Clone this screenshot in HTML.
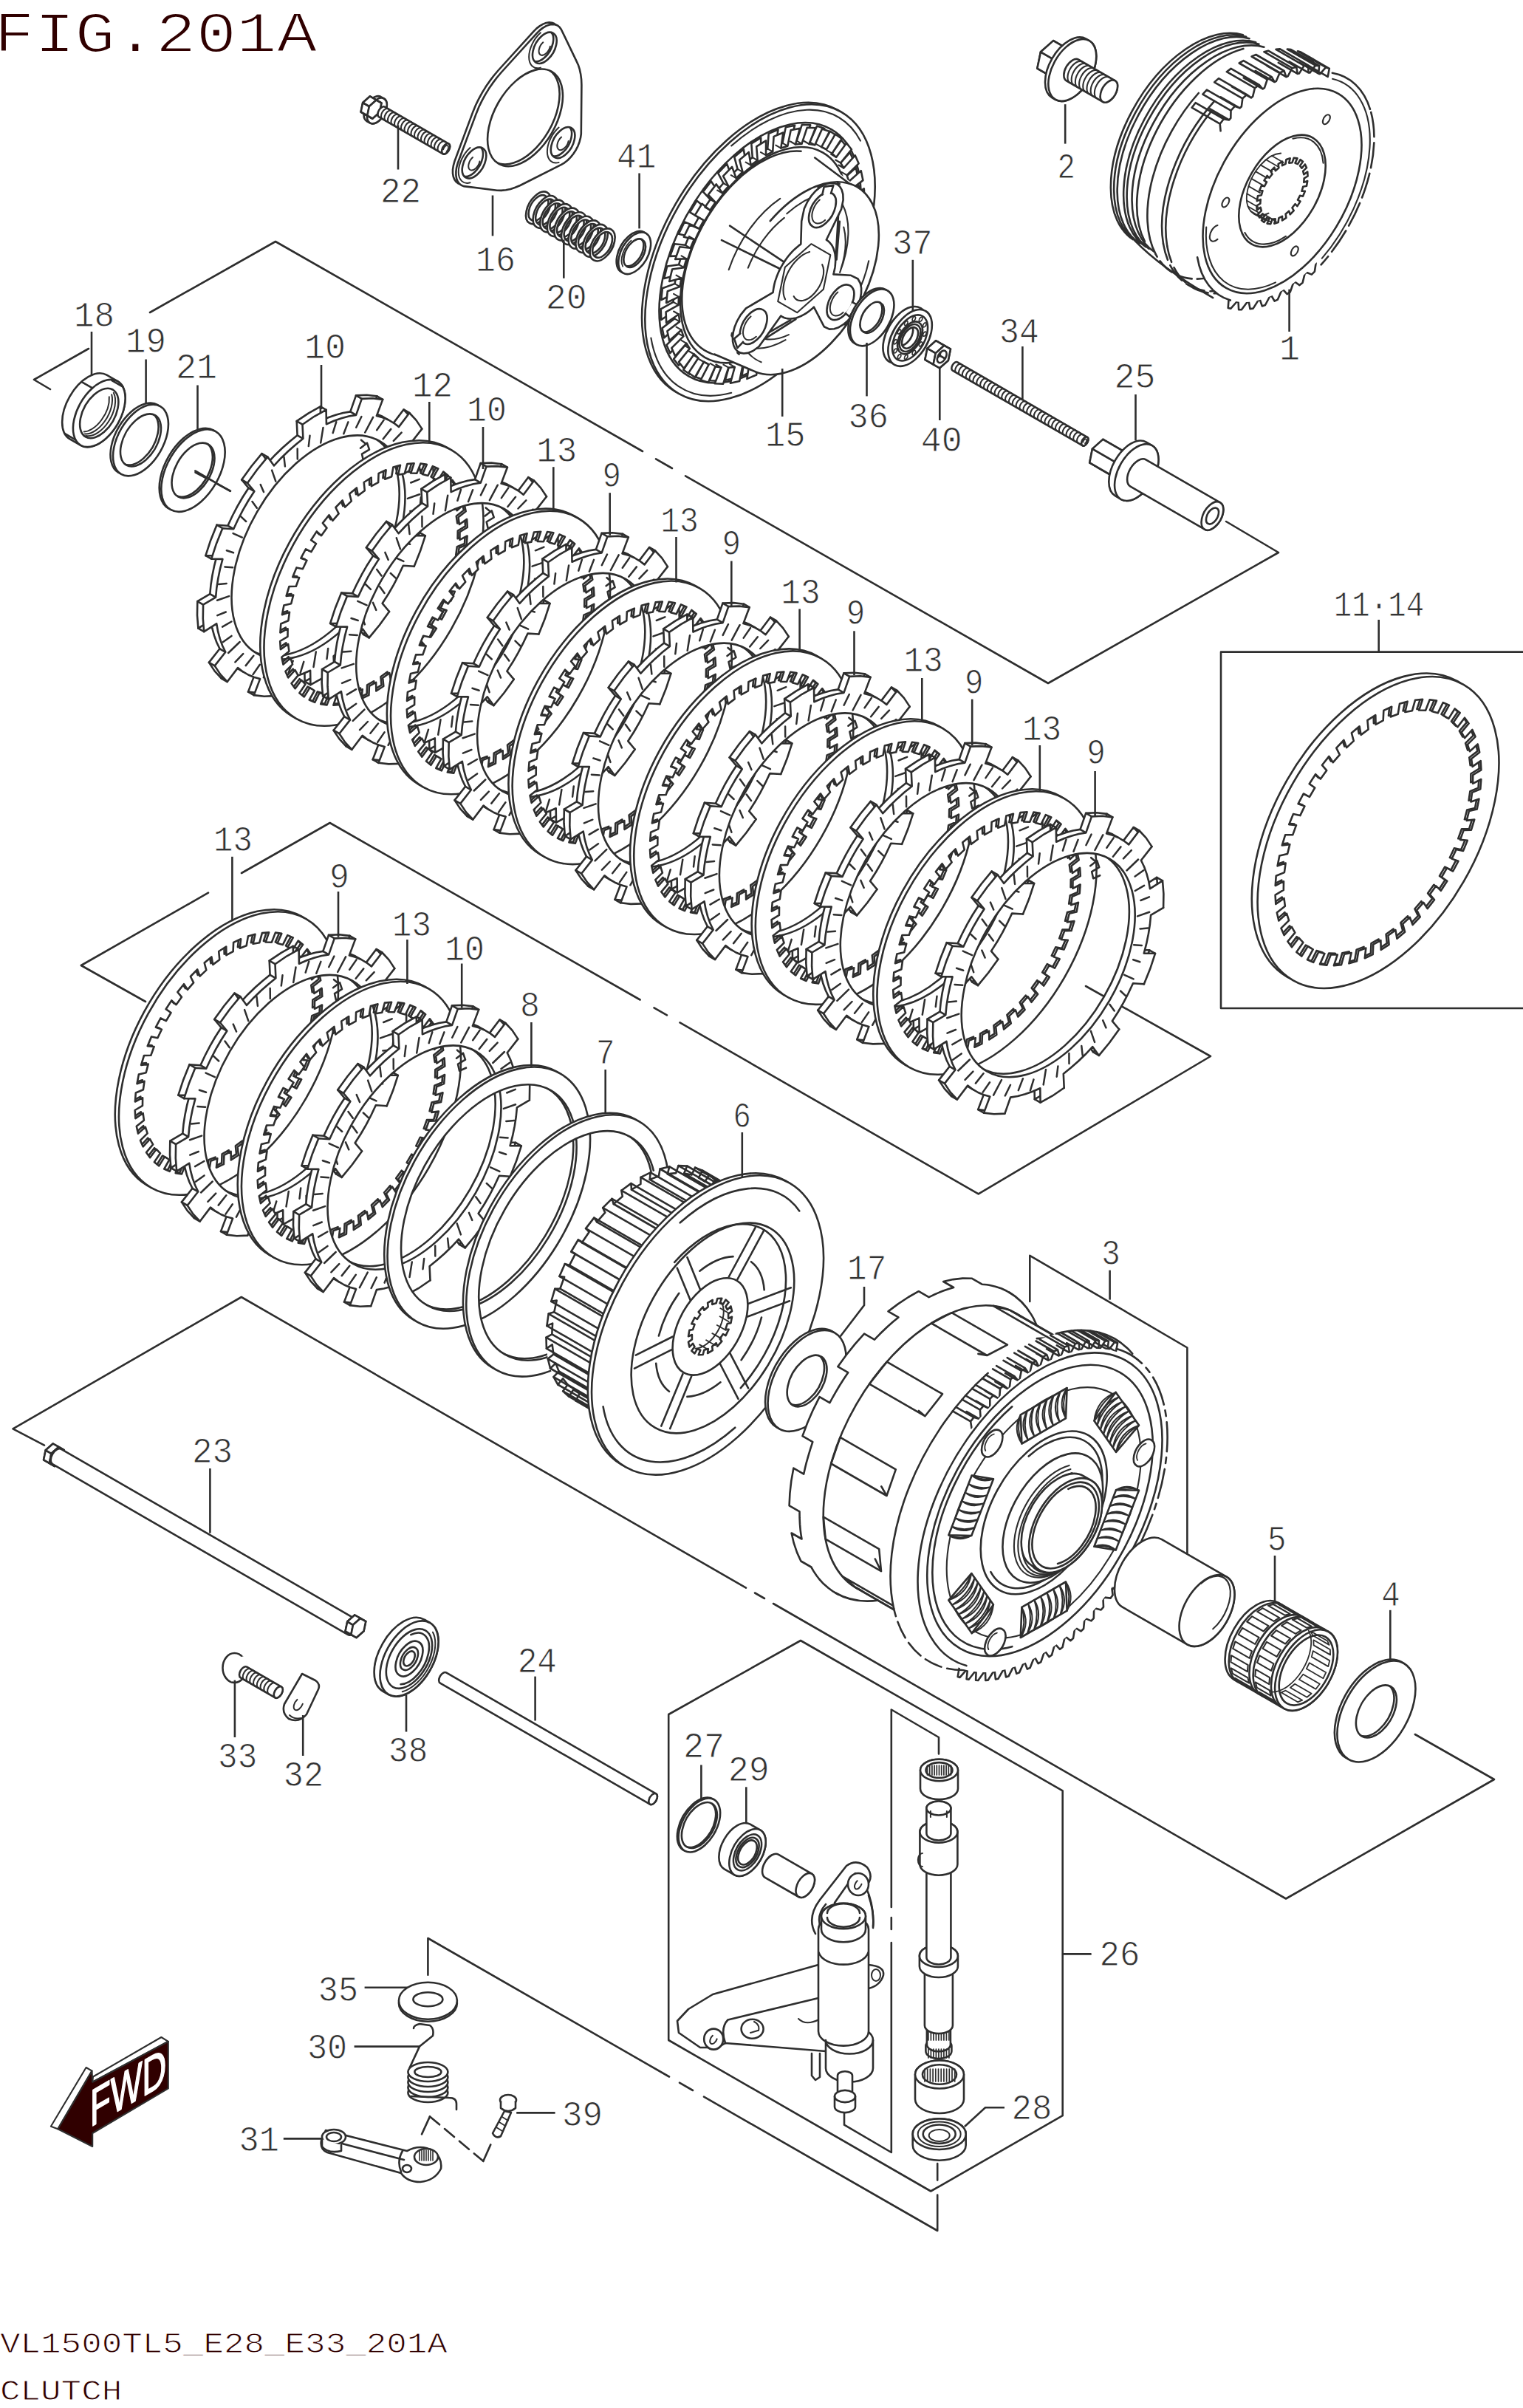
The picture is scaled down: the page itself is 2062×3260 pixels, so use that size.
<!DOCTYPE html>
<html><head><meta charset="utf-8"><title>FIG.201A CLUTCH</title>
<style>html,body{margin:0;padding:0;background:#fff}svg{display:block}</style></head>
<body>
<svg width="2062" height="3260" viewBox="0 0 2062 3260">
<rect width="2062" height="3260" fill="#fff"/>
<g fill="none" stroke="#2e2e2e" stroke-width="2.6" stroke-linejoin="round" stroke-linecap="round">
<path d="M68 527L46 514L120 472"/>
<path d="M203 423L373 327L870 611"/>
<path d="M888 621.4L910 634"/>
<path d="M928 644.3L1419 925L1731 748L1660 706"/>
<path d="M197 1356L109.8 1307L282 1208.7"/>
<path d="M327 1182L446.6 1114L866.6 1353.5"/>
<path d="M885.5 1364.4L903 1374.4"/>
<path d="M920.5 1384.4L1324.7 1616.4L1639 1430L1470 1335"/>
<path d="M60 1956.7L17.5 1934.3L326.8 1756L1010 2149.6"/>
<path d="M1022 2156.5L1035 2164"/>
<path d="M1047 2171L1741 2570.5L2023 2409L1915.8 2348"/>
<path d="M905.2 2321L1084 2221L1438.7 2424.3L1438.7 2864.2L1260.2 2966.5L905.2 2762Z"/>
<path d="M1271 2374.4L1271 2352L1206.8 2314.5L1206.8 2582"/>
<path d="M1206.8 2596L1206.8 2612"/>
<path d="M1206.8 2630L1206.8 2914L1143 2876.7L1143 2859.2"/>
<path d="M1439.2 2645.4L1476.6 2645.4"/>
<path d="M579.4 2673.8L579.4 2624L906 2811.5"/>
<path d="M920 2819.6L938 2830"/>
<path d="M953 2838.6L1269.2 3020L1269.2 2971.5"/>
<path d="M1269.2 2929L1269.2 2951.6"/>
<path d="M1394.3 1762L1394.3 1699.8L1607.4 1824.5L1607.4 2106.4"/>
<path d="M2062 882.6L1653 882.6L1653 1365L2062 1365"/>
<path d="M571 2889.4L582 2865.4"/>
<path d="M654.3 2925.8L664.3 2903.4"/>
<path d="M582 2865.4L654.3 2925.8" stroke-dasharray="17 9"/>
<path d="M264.5 639.7L312 664.7"/>
<path d="M1134.7 149.2A220 127 -60 0 1 1064.9 490A220 127 -60 0 1 874.4 380A220 127 -60 0 1 1134.7 149.2Z" fill="#fff"/>
<path d="M1139 151.7A220 127 -60 0 1 1069.3 492.5A220 127 -60 0 1 878.7 382.5A220 127 -60 0 1 1139 151.7Z" fill="#fff"/>
<path d="M990.2 197.4A212 122.4 -60 0 1 1164.9 190.6M990.2 531.8A212 122.4 -60 0 1 881.4 457.5" stroke-width="2.1"/>
<path d="M1125.5 175.1A193 111.4 -60 0 1 1064.3 474A193 111.4 -60 0 1 897.2 377.5A193 111.4 -60 0 1 1125.5 175.1Z"/>
<path d="M1124 177.7L1132.7 183.7L1119.6 203.7L1125.2 208.9L1139.1 189.7L1145.9 198.3L1131.2 216.5L1135.4 223.5L1150.8 206.3L1155.6 217.3L1139.6 233.1L1142.4 241.7L1158.8 227.1L1161.5 240.1L1144.8 253L1145.9 262.9L1162.8 251.4L1163.3 266L1146.4 275.6L1145.9 286.5L1162.8 278.4L1161.1 294.2L1144.4 300.3L1142.4 311.8L1158.8 307.4L1154.8 323.9L1138.9 326.2L1135.4 338.1L1150.8 337.5L1144.8 354.1L1130.1 352.6L1125.2 364.4L1139.1 367.6L1131.2 384L1118.3 378.7L1112 390.1L1124 397L1114.5 412.6L1103.7 403.7L1096.3 414.4L1106.1 424.8L1095.2 439L1086.8 426.8L1078.6 436.4L1085.8 450L1073.8 462.5L1068.2 447.3L1059.4 455.6L1063.8 472L1051.2 482.4L1048.4 464.7L1039.2 471.3L1040.7 490L1027.8 498L1028 478.3L1018.8 483.1L1017.3 503.5L1004.5 508.9L1007.6 487.8L998.6 490.7L994.2 512.1L981.9 514.7L987.9 492.9L979.4 493.7L972.2 515.6L960.8 515.2L969.4 493.4L961.7 492.1L951.9 513.8L941.7 510.5L952.8 489.3L946 486L934 506.7L925.3 500.7L938.4 480.7L932.8 475.5L918.9 494.7L912.1 486.1L926.8 467.9L922.6 460.9L907.2 478.1L902.4 467.1L918.4 451.3L915.6 442.7L899.2 457.3L896.5 444.3L913.2 431.4L912.1 421.5L895.2 433L894.7 418.4L911.6 408.8L912.1 397.9L895.2 406L896.9 390.2L913.6 384.1L915.6 372.6L899.2 377L903.2 360.5L919.1 358.2L922.6 346.3L907.2 346.9L913.2 330.3L927.9 331.8L932.8 320L918.9 316.8L926.8 300.4L939.7 305.7L946 294.3L934 287.4L943.5 271.8L954.3 280.7L961.7 270L951.9 259.6L962.8 245.4L971.2 257.6L979.4 248L972.2 234.4L984.2 221.9L989.8 237.1L998.6 228.8L994.2 212.4L1006.8 202L1009.6 219.7L1018.8 213.1L1017.3 194.4L1030.2 186.4L1030 206.1L1039.2 201.3L1040.7 180.9L1053.5 175.5L1050.4 196.6L1059.4 193.7L1063.8 172.3L1076.1 169.7L1070.1 191.5L1078.6 190.7L1085.8 168.8L1097.2 169.2L1088.6 191L1096.3 192.3L1106.1 170.6L1116.3 173.9L1105.2 195.1L1112 198.4Z"/>
<path d="M1130.9 181.7L1139.6 187.7L1126.5 207.7L1132.1 212.9L1146 193.7L1152.9 202.3L1138.1 220.5L1142.3 227.5L1157.7 210.3L1162.6 221.3L1146.6 237.1L1149.3 245.7L1165.7 231.1L1168.4 244.1L1151.7 257L1152.9 266.9L1169.8 255.4L1170.3 270L1153.3 279.6L1152.9 290.5L1169.8 282.4L1168 298.2L1151.3 304.3L1149.3 315.8L1165.7 311.4L1161.8 327.9L1145.9 330.2L1142.3 342.1L1157.7 341.5L1151.7 358.1L1137.1 356.6L1132.1 368.4L1146 371.6L1138.1 388L1125.2 382.7L1118.9 394.1L1130.9 401L1121.4 416.6L1110.6 407.7L1103.3 418.4L1113 428.8L1102.1 443L1093.7 430.8L1085.5 440.4L1092.7 454L1080.8 466.5L1075.1 451.3L1066.3 459.6L1070.7 476L1058.1 486.4L1055.3 468.7L1046.2 475.3L1047.6 494L1034.8 502L1034.9 482.3L1025.7 487.1L1024.2 507.5L1011.4 512.9L1014.5 491.8L1005.5 494.7L1001.2 516.1L988.9 518.7L994.8 496.9L986.3 497.7L979.1 519.6L967.7 519.2L976.4 497.4L968.6 496.1L958.9 517.8L948.7 514.5L959.7 493.3L952.9 490L940.9 510.7L932.3 504.7L945.4 484.7L939.8 479.5L925.9 498.7L919 490.1L933.8 471.9L929.5 464.9L914.2 482.1L909.3 471.1L925.3 455.3L922.5 446.7L906.2 461.3L903.4 448.3L920.2 435.4L919 425.5L902.1 437L901.6 422.4L918.6 412.8L919 401.9L902.1 410L903.8 394.2L920.5 388.1L922.5 376.6L906.2 381L910.1 364.5L926 362.2L929.5 350.3L914.2 350.9L920.2 334.3L934.8 335.8L939.8 324L925.9 320.8L933.8 304.4L946.7 309.7L952.9 298.3L940.9 291.4L950.5 275.8L961.3 284.7L968.6 274L958.9 263.6L969.8 249.4L978.1 261.6L986.3 252L979.1 238.4L991.1 225.9L996.7 241.1L1005.5 232.8L1001.2 216.4L1013.8 206L1016.6 223.7L1025.7 217.1L1024.2 198.4L1037.1 190.4L1037 210.1L1046.2 205.3L1047.6 184.9L1060.4 179.5L1057.3 200.6L1066.3 197.7L1070.7 176.3L1083 173.7L1077 195.5L1085.5 194.7L1092.7 172.8L1104.1 173.2L1095.5 195L1103.3 196.3L1113 174.6L1123.2 177.9L1112.2 199.1L1118.9 202.4Z" fill="#fff"/>
<path d="M1112 198.4L1118.9 202.4M1119.6 203.7L1126.5 207.7M1125.2 208.9L1132.1 212.9M1131.2 216.5L1138.1 220.5M1135.4 223.5L1142.3 227.5M1139.6 233.1L1146.6 237.1M1142.4 241.7L1149.3 245.7M1144.8 253L1151.7 257M1145.9 262.9L1152.9 266.9M1146.4 275.6L1153.3 279.6M1145.9 286.5L1152.9 290.5M1144.4 300.3L1151.3 304.3M1142.4 311.8L1149.3 315.8M1138.9 326.2L1145.9 330.2M1135.4 338.1L1142.3 342.1M1130.1 352.6L1137.1 356.6M1125.2 364.4L1132.1 368.4M1118.3 378.7L1125.2 382.7M1112 390.1L1118.9 394.1M1103.7 403.7L1110.6 407.7M1096.3 414.4L1103.3 418.4M1086.8 426.8L1093.7 430.8M1078.6 436.4L1085.5 440.4M1068.2 447.3L1075.1 451.3M1059.4 455.6L1066.3 459.6M1048.4 464.7L1055.3 468.7M1039.2 471.3L1046.2 475.3M1028 478.3L1034.9 482.3M1018.8 483.1L1025.7 487.1M1007.6 487.8L1014.5 491.8M998.6 490.7L1005.5 494.7M987.9 492.9L994.8 496.9M979.4 493.7L986.3 497.7M969.4 493.4L976.4 497.4M961.7 492.1L968.6 496.1M952.8 489.3L959.7 493.3M946 486L952.9 490M938.4 480.7L945.4 484.7M932.8 475.5L939.8 479.5M926.8 467.9L933.8 471.9M922.6 460.9L929.5 464.9M918.4 451.3L925.3 455.3M915.6 442.7L922.5 446.7M913.2 431.4L920.2 435.4M912.1 421.5L919 425.5M911.6 408.8L918.6 412.8M912.1 397.9L919 401.9M913.6 384.1L920.5 388.1M915.6 372.6L922.5 376.6M919.1 358.2L926 362.2M922.6 346.3L929.5 350.3M927.9 331.8L934.8 335.8M932.8 320L939.8 324M939.7 305.7L946.7 309.7M946 294.3L952.9 298.3M954.3 280.7L961.3 284.7M961.7 270L968.6 274M971.2 257.6L978.1 261.6M979.4 248L986.3 252M989.8 237.1L996.7 241.1M998.6 228.8L1005.5 232.8M1009.6 219.7L1016.6 223.7M1018.8 213.1L1025.7 217.1M1030 206.1L1037 210.1M1039.2 201.3L1046.2 205.3M1050.4 196.6L1057.3 200.6M1059.4 193.7L1066.3 197.7M1070.1 191.5L1077 195.5M1078.6 190.7L1085.5 194.7M1088.6 191L1095.5 195M1096.3 192.3L1103.3 196.3M1105.2 195.1L1112.2 199.1" stroke-width="2.1"/>
<path d="M1114.2 206.6A160 92.4 -60 0 1 1063.5 454.5A160 92.4 -60 0 1 924.9 374.5A160 92.4 -60 0 1 1114.2 206.6Z" fill="#fff"/>
<path d="M1021.4 472.2A152 87.8 -60 0 1 928.2 365.1A152 87.8 -60 0 1 1084.5 204.7M1013.5 465.3A132 76.2 -60 0 1 947.5 371.4A132 76.2 -60 0 1 1061.8 229.1M1009.4 452.4A112 64.7 -60 0 1 1049.8 255.1"/>
<path d="M1114.4 218.3A150 86.6 -60 0 0 964.4 304.9A150 86.6 -60 0 0 964.4 478.1L1017.3 500.5A143 82.6 -60 0 0 1160.3 418A143 82.6 -60 0 0 1160.3 252.9Z" fill="#fff" stroke="none"/>
<path d="M1042.8 299.2A143 82.6 -60 0 1 1189.1 333A143 82.6 -60 0 1 1022.4 503.1"/>
<path d="M1103.2 213.5L1149.6 248.3M967.1 479.5L1022.4 503.1"/>
<path d="M1140.5 276.4A120 69.3 -60 0 1 1137.1 368.8M1063.6 460.2A120 69.3 -60 0 1 990.2 453.6M986.7 365.2A120 69.3 -60 0 1 1056.2 268.9M1142.3 307.6A100 57.7 -60 0 1 1138.1 365.7M1067.9 453.1A100 57.7 -60 0 1 1016.1 448.5M1012.8 362.7A100 57.7 -60 0 1 1061.8 294.9" stroke-width="2.1"/>
<path d="M1065.3 289.3A128 73.9 -60 0 1 1112.2 262.2M1176.2 353.3A128 73.9 -60 0 1 1158.1 403.8M1030.6 490.3A128 73.9 -60 0 1 1006.7 468.2" stroke-width="2.1"/>
<path d="M1135.5 282.6L1131.9 343M1136.8 299.9L1132.6 351.4M1022.9 466.7L1077.4 432.1M1008.1 469L1070.2 433.3M977 325.1L1055.2 363.5M988.1 305.7L1060.6 354.2"/>
<path d="M1118.8 324.7L1120.3 325.7L1121.7 326.8L1123.1 328.1L1124.3 329.5L1125.5 331L1126.6 332.6L1127.5 334.4L1128.4 336.3L1129.1 338.3L1129.7 340.4L1130.3 342.6L1130.7 344.8L1130.9 347.2L1131.1 349.7L1131.2 352.2L1131.1 354.8L1130.9 357.5L1130.7 360.2L1130.3 362.9L1129.7 365.7L1129.1 368.5L1128.4 371.4L1151.6 372.7L1161.5 377.5L1164.8 383.5L1166.1 390L1166 396.9L1164.8 403.9L1162.6 410.9L1159.6 417.6L1155.9 424.1L1151.6 430L1146.6 435.3L1141.3 439.7L1135.5 443.2L1129.4 445.3L1122.9 445.6L1115.7 442.2L1101.9 415.7L1099.7 417.7L1097.6 419.5L1095.4 421.3L1093.2 422.9L1091 424.3L1088.8 425.7L1086.5 426.9L1084.3 428L1082.1 428.9L1079.9 429.7L1077.8 430.4L1075.6 430.9L1073.6 431.2L1071.5 431.4L1069.5 431.5L1067.5 431.4L1065.6 431.1L1063.8 430.7L1062.1 430.2L1060.4 429.5L1058.8 428.7L1057.2 427.7L1027.5 469.3L1019.2 475.2L1012.5 477.9L1006.9 478.5L1002.2 477.6L998.3 475.4L995.3 472L993.3 467.7L992.1 462.4L991.9 456.4L992.8 449.7L994.7 442.4L998 434.6L1002.7 426.4L1010 417.4L1046.6 395.9L1046.9 393.2L1047.3 390.5L1047.8 387.7L1048.4 384.9L1049.1 382L1050 379.2L1051 376.3L1052 373.4L1053.2 370.6L1054.4 367.7L1055.8 364.9L1057.2 362.1L1058.8 359.4L1060.4 356.7L1062.1 354L1063.8 351.5L1065.6 349L1067.5 346.5L1069.5 344.2L1071.5 341.9L1073.6 339.7L1075.6 337.7L1077.8 335.7L1079.9 333.9L1082.1 332.1L1084.3 330.5L1085.2 299.4L1088.8 282.5L1093.4 272.8L1098.4 265.2L1103.7 259.1L1109.1 254.4L1114.5 250.9L1119.7 248.7L1124.7 247.7L1129.3 248L1133.5 249.6L1137 252.5L1139.6 256.8L1141.3 262.8L1141.6 270.8L1139.1 283.1Z" fill="#fff"/>
<path d="M1107.6 253.6L1111.2 251.6M1136.7 249L1134 248M1166.8 402L1165.1 406.6M1144.1 439.5L1147.4 436M1000.6 479.5L998.4 477.5M991 451L990.9 455.2"/>
<path d="M1126.4 261.7A26 15 -60 0 1 1118.2 302A26 15 -60 0 1 1095.7 289A26 15 -60 0 1 1126.4 261.7Z" fill="#fff"/>
<path d="M1117.1 297.9A20 11.5 -60 0 1 1099.8 296.3A20 11.5 -60 0 1 1109.8 270.5" stroke-width="2"/>
<path d="M1113.3 263.6L1115.7 252.9L1128.4 250.9L1125 261.8" fill="#fff"/>
<path d="M1150.9 386.7A26 15 -60 0 1 1142.7 427A26 15 -60 0 1 1120.2 414A26 15 -60 0 1 1150.9 386.7Z" fill="#fff"/>
<path d="M1141.6 422.9A20 11.5 -60 0 1 1124.3 421.3A20 11.5 -60 0 1 1134.3 395.5" stroke-width="2"/>
<path d="M1153.9 409.2L1160.1 412.3L1150.2 428.8L1144.8 424.3" fill="#fff"/>
<path d="M1033.2 419.5A26 15 -60 0 1 1024.9 459.8A26 15 -60 0 1 1002.4 446.8A26 15 -60 0 1 1033.2 419.5Z" fill="#fff"/>
<path d="M1023.8 455.7A20 11.5 -60 0 1 1006.5 454.2A20 11.5 -60 0 1 1016.5 428.4" stroke-width="2"/>
<path d="M1006.1 462.9L998.3 471.1L994.1 458.6L1002.3 451.5" fill="#fff"/>
<path d="M1124.3 345.2L1114.8 391.7L1079.2 423.2L1053.2 408.2L1062.8 361.7L1098.3 330.2Z" stroke-width="2.1"/>
<path d="M1063.1 405.3A40 23.1 -60 0 1 1096.1 340.9M1113.2 358.2A30 17.3 -60 0 1 1102.9 396.7A30 17.3 -60 0 1 1074.7 401.2" stroke-width="2.1"/>
<path d="M515.5 131A19 11 -60 0 0 496.5 142A19 11 -60 0 0 496.5 164L500.8 166.5A19 11 -60 0 0 519.8 155.5A19 11 -60 0 0 519.8 133.5Z" fill="#fff"/>
<path d="M519.8 133.5A19 11 -60 0 1 513.8 163A19 11 -60 0 1 497.4 153.5A19 11 -60 0 1 519.8 133.5Z" fill="#fff" fill-rule="evenodd"/>
<path d="M507.8 134.5L505.2 147L495.6 155.5L488.6 151.5L491.2 139L500.8 130.5Z" fill="#fff"/>
<path d="M505.2 147L495.6 155.5L504.3 160.5L513.9 152Z" fill="#fff"/>
<path d="M507.8 134.5L505.2 147L513.9 152L516.4 139.5Z" fill="#fff"/>
<path d="M495.6 155.5L488.6 151.5L497.3 156.5L504.3 160.5Z" fill="#fff"/>
<path d="M500.8 130.5L507.8 134.5L516.4 139.5L509.4 135.5Z" fill="#fff"/>
<path d="M488.6 151.5L491.2 139L499.9 144L497.3 156.5Z" fill="#fff"/>
<path d="M491.2 139L500.8 130.5L509.4 135.5L499.9 144Z" fill="#fff"/>
<path d="M516.4 139.5L513.9 152L504.3 160.5L497.3 156.5L499.9 144L509.4 135.5Z" fill="#fff" fill-rule="evenodd"/>
<path d="M520.9 144.7A7.8 4.5 -60 0 0 513.1 149.2A7.8 4.5 -60 0 0 513.1 158.3L599.7 208.3A7.8 4.5 -60 0 0 607.5 203.8A7.8 4.5 -60 0 0 607.5 194.7Z" fill="#fff"/>
<path d="M607.5 194.7A7.8 4.5 -60 0 1 605 206.8A7.8 4.5 -60 0 1 598.3 202.9A7.8 4.5 -60 0 1 607.5 194.7Z" fill="#fff" fill-rule="evenodd"/>
<path d="M517.9 161A7.8 4.5 -60 0 1 517.6 151.8A7.8 4.5 -60 0 1 525.7 147.5M522.4 163.6A7.8 4.5 -60 0 1 522.1 154.4A7.8 4.5 -60 0 1 530.2 150.1M526.9 166.2A7.8 4.5 -60 0 1 526.6 157A7.8 4.5 -60 0 1 534.7 152.7M531.4 168.8A7.8 4.5 -60 0 1 531.1 159.6A7.8 4.5 -60 0 1 539.2 155.3M535.9 171.4A7.8 4.5 -60 0 1 535.6 162.2A7.8 4.5 -60 0 1 543.7 157.9M540.4 174A7.8 4.5 -60 0 1 540.1 164.8A7.8 4.5 -60 0 1 548.2 160.5M544.9 176.6A7.8 4.5 -60 0 1 544.6 167.4A7.8 4.5 -60 0 1 552.7 163.1M549.4 179.2A7.8 4.5 -60 0 1 549.1 170A7.8 4.5 -60 0 1 557.2 165.7M553.9 181.8A7.8 4.5 -60 0 1 553.6 172.6A7.8 4.5 -60 0 1 561.7 168.3M558.4 184.4A7.8 4.5 -60 0 1 558.1 175.2A7.8 4.5 -60 0 1 566.2 170.9M562.9 187A7.8 4.5 -60 0 1 562.6 177.8A7.8 4.5 -60 0 1 570.7 173.5M567.4 189.6A7.8 4.5 -60 0 1 567.1 180.4A7.8 4.5 -60 0 1 575.2 176.1M571.9 192.2A7.8 4.5 -60 0 1 571.6 183A7.8 4.5 -60 0 1 579.7 178.7M576.4 194.8A7.8 4.5 -60 0 1 576.1 185.6A7.8 4.5 -60 0 1 584.2 181.3M580.9 197.4A7.8 4.5 -60 0 1 580.6 188.2A7.8 4.5 -60 0 1 588.7 183.9M585.4 200A7.8 4.5 -60 0 1 585.2 190.8A7.8 4.5 -60 0 1 593.2 186.5M589.9 202.6A7.8 4.5 -60 0 1 589.7 193.4A7.8 4.5 -60 0 1 597.7 189.1M594.4 205.2A7.8 4.5 -60 0 1 594.2 196A7.8 4.5 -60 0 1 602.2 191.7" stroke-width="2.1"/>
<path d="M604.5 204.9A5 2.9 -60 0 0 606.1 197.2A5 2.9 -60 0 0 600.2 202.4" stroke-width="1.8"/>
<path d="M620.2 248.3L617.4 246.1L615.3 243L613.8 239.2L613 234.7L613 229.7L613.8 224.4L615.3 218.8L640.5 150.9L644.1 142.3L648.2 133.9L652.7 125.6L657.6 117.6L662.9 109.9L668.5 102.5L674.4 95.5L722.6 42.4L726.6 38.4L730.9 35.1L735.2 32.6L739.4 31L743.5 30.4L747.2 30.7L750.5 32L753.3 34.2L755.5 37.3L775.9 79.6L778.4 85.2L780.4 91.4L781.9 98.1L782.7 105.2L783 112.7L782.4 178.8L781.7 184.2L780.2 189.7L778.1 195.3L775.3 200.7L772 205.8L768.2 210.4L764.2 214.5L759.9 217.8L755.6 220.3L700 248.5L693.4 251.3L686.9 253.4L680.6 254.7L674.4 255.4L668.5 255.2L623.5 249.6ZM742.7 94.4A72 41.6 -60 0 1 719.8 206A72 41.6 -60 0 1 657.5 170A72 41.6 -60 0 1 742.7 94.4ZM744.5 42.4A23 13.3 -60 0 1 737.2 78A23 13.3 -60 0 1 717.3 66.5A23 13.3 -60 0 1 744.5 42.4ZM769.3 170.7A23 13.3 -60 0 1 762 206.3A23 13.3 -60 0 1 742.1 194.8A23 13.3 -60 0 1 769.3 170.7ZM649.2 198.1A23 13.3 -60 0 1 641.9 233.7A23 13.3 -60 0 1 622 222.2A23 13.3 -60 0 1 649.2 198.1Z" fill="#fff" fill-rule="evenodd"/>
<path d="M624.5 250.8L621.7 248.6L619.6 245.5L618.1 241.7L617.4 237.2L617.4 232.2L618.1 226.9L619.6 221.3L644.9 153.4L648.4 144.8L652.5 136.4L657 128.1L661.9 120.1L667.2 112.4L672.8 105L678.7 98L726.9 44.9L730.9 40.9L735.2 37.6L739.5 35.1L743.8 33.5L747.8 32.9L751.5 33.2L754.9 34.5L757.6 36.7L759.8 39.8L780.2 82.1L782.8 87.7L784.8 93.9L786.2 100.6L787.1 107.7L787.4 115.2L786.8 181.3L786 186.7L784.5 192.2L782.4 197.8L779.6 203.2L776.3 208.3L772.6 212.9L768.5 217L764.3 220.3L760 222.8L704.3 251L697.7 253.8L691.2 255.9L684.9 257.2L678.7 257.9L672.8 257.7L627.8 252.1ZM747 96.9A72 41.6 -60 0 1 724.2 208.5A72 41.6 -60 0 1 661.8 172.5A72 41.6 -60 0 1 747 96.9ZM748.9 44.9A23 13.3 -60 0 1 741.6 80.5A23 13.3 -60 0 1 721.6 69A23 13.3 -60 0 1 748.9 44.9ZM773.6 173.2A23 13.3 -60 0 1 766.3 208.8A23 13.3 -60 0 1 746.4 197.3A23 13.3 -60 0 1 773.6 173.2ZM653.5 200.6A23 13.3 -60 0 1 646.2 236.2A23 13.3 -60 0 1 626.3 224.7A23 13.3 -60 0 1 653.5 200.6Z" fill="#fff" fill-rule="evenodd"/>
<path d="M735.3 57.3A11 6.4 -60 0 0 731.9 74.3A11 6.4 -60 0 0 744.9 62.8M731.9 91.6A30 17.3 -60 0 1 731.9 44.3M760.1 185.6A11 6.4 -60 0 0 756.6 202.6A11 6.4 -60 0 0 769.6 191.1M756.6 219.9A30 17.3 -60 0 1 756.6 172.6M640 213A11 6.4 -60 0 0 636.5 230A11 6.4 -60 0 0 649.5 218.5M636.5 247.3A30 17.3 -60 0 1 636.5 200" stroke-width="2"/>
<path d="M741 260.7A24 13.9 -60 0 1 733.4 297.9A24 13.9 -60 0 1 712.6 285.9A24 13.9 -60 0 1 741 260.7ZM738.4 265.1A18.9 10.9 -60 0 1 732.5 294.4A18.9 10.9 -60 0 1 716.1 285A18.9 10.9 -60 0 1 738.4 265.1Z" fill="#fff" fill-rule="evenodd"/>
<path d="M750.6 266.3A24 13.9 -60 0 1 743 303.4A24 13.9 -60 0 1 722.2 291.4A24 13.9 -60 0 1 750.6 266.3ZM748.1 270.7A18.9 10.9 -60 0 1 742.1 300A18.9 10.9 -60 0 1 725.7 290.5A18.9 10.9 -60 0 1 748.1 270.7Z" fill="#fff" fill-rule="evenodd"/>
<path d="M760.2 271.8A24 13.9 -60 0 1 752.6 309A24 13.9 -60 0 1 731.9 297A24 13.9 -60 0 1 760.2 271.8ZM757.7 276.3A18.9 10.9 -60 0 1 751.7 305.5A18.9 10.9 -60 0 1 735.3 296.1A18.9 10.9 -60 0 1 757.7 276.3Z" fill="#fff" fill-rule="evenodd"/>
<path d="M769.9 277.4A24 13.9 -60 0 1 762.3 314.6A24 13.9 -60 0 1 741.5 302.6A24 13.9 -60 0 1 769.9 277.4ZM767.3 281.8A18.9 10.9 -60 0 1 761.3 311.1A18.9 10.9 -60 0 1 745 301.6A18.9 10.9 -60 0 1 767.3 281.8Z" fill="#fff" fill-rule="evenodd"/>
<path d="M779.5 282.9A24 13.9 -60 0 1 771.9 320.1A24 13.9 -60 0 1 751.1 308.1A24 13.9 -60 0 1 779.5 282.9ZM776.9 287.4A18.9 10.9 -60 0 1 770.9 316.6A18.9 10.9 -60 0 1 754.6 307.2A18.9 10.9 -60 0 1 776.9 287.4Z" fill="#fff" fill-rule="evenodd"/>
<path d="M789.1 288.5A24 13.9 -60 0 1 781.5 325.7A24 13.9 -60 0 1 760.7 313.7A24 13.9 -60 0 1 789.1 288.5ZM786.6 292.9A18.9 10.9 -60 0 1 780.6 322.2A18.9 10.9 -60 0 1 764.2 312.7A18.9 10.9 -60 0 1 786.6 292.9Z" fill="#fff" fill-rule="evenodd"/>
<path d="M798.7 294A24 13.9 -60 0 1 791.1 331.2A24 13.9 -60 0 1 770.3 319.2A24 13.9 -60 0 1 798.7 294ZM796.2 298.5A18.9 10.9 -60 0 1 790.2 327.7A18.9 10.9 -60 0 1 773.8 318.3A18.9 10.9 -60 0 1 796.2 298.5Z" fill="#fff" fill-rule="evenodd"/>
<path d="M808.4 299.6A24 13.9 -60 0 1 800.7 336.8A24 13.9 -60 0 1 780 324.8A24 13.9 -60 0 1 808.4 299.6ZM805.8 304A18.9 10.9 -60 0 1 799.8 333.3A18.9 10.9 -60 0 1 783.5 323.8A18.9 10.9 -60 0 1 805.8 304Z" fill="#fff" fill-rule="evenodd"/>
<path d="M818 305.2A24 13.9 -60 0 1 810.4 342.3A24 13.9 -60 0 1 789.6 330.3A24 13.9 -60 0 1 818 305.2ZM815.4 309.6A18.9 10.9 -60 0 1 809.4 338.8A18.9 10.9 -60 0 1 793.1 329.4A18.9 10.9 -60 0 1 815.4 309.6Z" fill="#fff" fill-rule="evenodd"/>
<path d="M827.6 310.7A24 13.9 -60 0 1 820 347.9A24 13.9 -60 0 1 799.2 335.9A24 13.9 -60 0 1 827.6 310.7ZM825 315.1A18.9 10.9 -60 0 1 819.1 344.4A18.9 10.9 -60 0 1 802.7 335A18.9 10.9 -60 0 1 825 315.1Z" fill="#fff" fill-rule="evenodd"/>
<path d="M872.1 314.4A31 17.9 -60 0 1 862.3 362.4A31 17.9 -60 0 1 835.4 346.9A31 17.9 -60 0 1 872.1 314.4ZM867.1 323A21 12.1 -60 0 1 860.4 355.5A21 12.1 -60 0 1 842.3 345A21 12.1 -60 0 1 867.1 323Z" fill="#fff" fill-rule="evenodd"/>
<path d="M874.7 315.9A31 17.9 -60 0 1 864.9 363.9A31 17.9 -60 0 1 838 348.4A31 17.9 -60 0 1 874.7 315.9ZM869.7 324.5A21 12.1 -60 0 1 863 357A21 12.1 -60 0 1 844.9 346.5A21 12.1 -60 0 1 869.7 324.5Z" fill="#fff" fill-rule="evenodd"/>
<path d="M874 332.7A21 12.1 -60 0 1 857.9 360.5M843.2 360.6A25 14.4 -60 0 1 854.6 325.6" stroke-width="1.8"/>
<path d="M1199.1 392A42 24.2 -60 0 1 1185.8 457.1A42 24.2 -60 0 1 1149.4 436.1A42 24.2 -60 0 1 1199.1 392ZM1189.6 408.5A23 13.3 -60 0 1 1182.3 444.1A23 13.3 -60 0 1 1162.4 432.6A23 13.3 -60 0 1 1189.6 408.5Z" fill="#fff" fill-rule="evenodd"/>
<path d="M1201.7 393.5A42 24.2 -60 0 1 1188.4 458.6A42 24.2 -60 0 1 1152 437.6A42 24.2 -60 0 1 1201.7 393.5ZM1192.2 410A23 13.3 -60 0 1 1184.9 445.6A23 13.3 -60 0 1 1165 434.1A23 13.3 -60 0 1 1192.2 410Z" fill="#fff" fill-rule="evenodd"/>
<path d="M1246.2 417A42 24.2 -60 0 1 1232.9 482.1A42 24.2 -60 0 1 1196.5 461.1A42 24.2 -60 0 1 1246.2 417ZM1232.9 440A15.5 8.9 -60 0 1 1228 464A15.5 8.9 -60 0 1 1214.6 456.2A15.5 8.9 -60 0 1 1232.9 440Z" fill="#fff" fill-rule="evenodd"/>
<path d="M1253.1 421A42 24.2 -60 0 1 1239.8 486.1A42 24.2 -60 0 1 1203.4 465.1A42 24.2 -60 0 1 1253.1 421ZM1239.8 444A15.5 8.9 -60 0 1 1234.9 468A15.5 8.9 -60 0 1 1221.5 460.2A15.5 8.9 -60 0 1 1239.8 444Z" fill="#fff" fill-rule="evenodd"/>
<path d="M1249.1 428A34 19.6 -60 0 1 1238.3 480.6A34 19.6 -60 0 1 1208.9 463.6A34 19.6 -60 0 1 1249.1 428ZM1244.1 436.6A24 13.9 -60 0 1 1236.5 473.8A24 13.9 -60 0 1 1215.7 461.8A24 13.9 -60 0 1 1244.1 436.6ZM1242.1 440.1A20 11.5 -60 0 1 1235.8 471.1A20 11.5 -60 0 1 1218.4 461.1A20 11.5 -60 0 1 1242.1 440.1Z"/>
<path d="M1248.2 429.5A3.2 1.8 -60 0 1 1247.2 434.5A3.2 1.8 -60 0 1 1244.4 432.9A3.2 1.8 -60 0 1 1248.2 429.5ZM1253.5 437.1A3.2 1.8 -60 0 1 1252.5 442A3.2 1.8 -60 0 1 1249.7 440.4A3.2 1.8 -60 0 1 1253.5 437.1ZM1253.5 449.3A3.2 1.8 -60 0 1 1252.5 454.3A3.2 1.8 -60 0 1 1249.7 452.7A3.2 1.8 -60 0 1 1253.5 449.3ZM1248.2 463A3.2 1.8 -60 0 1 1247.2 468A3.2 1.8 -60 0 1 1244.4 466.4A3.2 1.8 -60 0 1 1248.2 463ZM1239 474.4A3.2 1.8 -60 0 1 1238 479.4A3.2 1.8 -60 0 1 1235.2 477.8A3.2 1.8 -60 0 1 1239 474.4ZM1228.4 480.6A3.2 1.8 -60 0 1 1227.4 485.5A3.2 1.8 -60 0 1 1224.6 483.9A3.2 1.8 -60 0 1 1228.4 480.6ZM1219.2 479.7A3.2 1.8 -60 0 1 1218.2 484.7A3.2 1.8 -60 0 1 1215.4 483.1A3.2 1.8 -60 0 1 1219.2 479.7ZM1213.9 472.2A3.2 1.8 -60 0 1 1212.9 477.1A3.2 1.8 -60 0 1 1210.1 475.5A3.2 1.8 -60 0 1 1213.9 472.2ZM1213.9 459.9A3.2 1.8 -60 0 1 1212.9 464.9A3.2 1.8 -60 0 1 1210.1 463.3A3.2 1.8 -60 0 1 1213.9 459.9ZM1219.2 446.3A3.2 1.8 -60 0 1 1218.2 451.2A3.2 1.8 -60 0 1 1215.4 449.6A3.2 1.8 -60 0 1 1219.2 446.3ZM1228.4 434.8A3.2 1.8 -60 0 1 1227.4 439.8A3.2 1.8 -60 0 1 1224.6 438.2A3.2 1.8 -60 0 1 1228.4 434.8ZM1239 428.7A3.2 1.8 -60 0 1 1238 433.6A3.2 1.8 -60 0 1 1235.2 432A3.2 1.8 -60 0 1 1239 428.7Z" stroke-width="1.7"/>
<path d="M1275.6 466.2L1272.5 481.4L1260.9 491.7L1252.4 486.8L1255.5 471.6L1267.1 461.3Z" fill="#fff"/>
<path d="M1272.5 481.4L1260.9 491.7L1272.1 498.2L1283.8 487.9Z" fill="#fff"/>
<path d="M1275.6 466.2L1272.5 481.4L1283.8 487.9L1286.9 472.7Z" fill="#fff"/>
<path d="M1260.9 491.7L1252.4 486.8L1263.6 493.3L1272.1 498.2Z" fill="#fff"/>
<path d="M1267.1 461.3L1275.6 466.2L1286.9 472.7L1278.4 467.8Z" fill="#fff"/>
<path d="M1252.4 486.8L1255.5 471.6L1266.8 478.1L1263.6 493.3Z" fill="#fff"/>
<path d="M1255.5 471.6L1267.1 461.3L1278.4 467.8L1266.8 478.1Z" fill="#fff"/>
<path d="M1286.9 472.7L1283.8 487.9L1272.1 498.2L1263.6 493.3L1266.8 478.1L1278.4 467.8ZM1279.8 475.2A9 5.2 -60 0 1 1276.9 489.1A9 5.2 -60 0 1 1269.1 484.6A9 5.2 -60 0 1 1279.8 475.2Z" fill="#fff" fill-rule="evenodd"/>
<path d="M1296.3 490.3A6.6 3.8 -60 0 0 1289.7 494.1A6.6 3.8 -60 0 0 1289.7 501.7L1465.5 603.2A6.6 3.8 -60 0 0 1472.1 599.4A6.6 3.8 -60 0 0 1472.1 591.8Z" fill="#fff"/>
<path d="M1472.1 591.8A6.6 3.8 -60 0 1 1470 602A6.6 3.8 -60 0 1 1464.3 598.7A6.6 3.8 -60 0 1 1472.1 591.8Z" fill="#fff" fill-rule="evenodd"/>
<path d="M1294.8 504.6A6.6 3.8 -60 0 1 1294.5 496.9A6.6 3.8 -60 0 1 1301.4 493.2M1299.6 507.4A6.6 3.8 -60 0 1 1299.4 499.7A6.6 3.8 -60 0 1 1306.2 496M1304.5 510.2A6.6 3.8 -60 0 1 1304.2 502.5A6.6 3.8 -60 0 1 1311.1 498.8M1309.3 513A6.6 3.8 -60 0 1 1309.1 505.3A6.6 3.8 -60 0 1 1315.9 501.6M1314.2 515.8A6.6 3.8 -60 0 1 1313.9 508.1A6.6 3.8 -60 0 1 1320.8 504.4M1319 518.6A6.6 3.8 -60 0 1 1318.8 510.9A6.6 3.8 -60 0 1 1325.6 507.2M1323.9 521.4A6.6 3.8 -60 0 1 1323.6 513.7A6.6 3.8 -60 0 1 1330.5 510M1328.7 524.2A6.6 3.8 -60 0 1 1328.5 516.5A6.6 3.8 -60 0 1 1335.3 512.8M1333.6 527A6.6 3.8 -60 0 1 1333.3 519.3A6.6 3.8 -60 0 1 1340.2 515.6M1338.4 529.8A6.6 3.8 -60 0 1 1338.2 522.1A6.6 3.8 -60 0 1 1345 518.4M1343.3 532.6A6.6 3.8 -60 0 1 1343 524.9A6.6 3.8 -60 0 1 1349.9 521.2M1348.1 535.4A6.6 3.8 -60 0 1 1347.9 527.7A6.6 3.8 -60 0 1 1354.7 524M1353 538.2A6.6 3.8 -60 0 1 1352.7 530.5A6.6 3.8 -60 0 1 1359.6 526.8M1357.8 541A6.6 3.8 -60 0 1 1357.6 533.3A6.6 3.8 -60 0 1 1364.4 529.6M1362.7 543.8A6.6 3.8 -60 0 1 1362.4 536.1A6.6 3.8 -60 0 1 1369.3 532.4M1367.5 546.6A6.6 3.8 -60 0 1 1367.3 538.9A6.6 3.8 -60 0 1 1374.1 535.2M1372.4 549.4A6.6 3.8 -60 0 1 1372.1 541.7A6.6 3.8 -60 0 1 1379 538M1377.2 552.2A6.6 3.8 -60 0 1 1377 544.5A6.6 3.8 -60 0 1 1383.8 540.8M1382.1 555A6.6 3.8 -60 0 1 1381.8 547.3A6.6 3.8 -60 0 1 1388.7 543.6M1386.9 557.8A6.6 3.8 -60 0 1 1386.7 550.1A6.6 3.8 -60 0 1 1393.5 546.4M1391.8 560.6A6.6 3.8 -60 0 1 1391.5 552.9A6.6 3.8 -60 0 1 1398.4 549.2M1396.6 563.4A6.6 3.8 -60 0 1 1396.4 555.7A6.6 3.8 -60 0 1 1403.2 552M1401.5 566.2A6.6 3.8 -60 0 1 1401.2 558.5A6.6 3.8 -60 0 1 1408.1 554.8M1406.3 569A6.6 3.8 -60 0 1 1406.1 561.3A6.6 3.8 -60 0 1 1412.9 557.6M1411.2 571.8A6.6 3.8 -60 0 1 1410.9 564.1A6.6 3.8 -60 0 1 1417.8 560.4M1416 574.6A6.6 3.8 -60 0 1 1415.8 566.9A6.6 3.8 -60 0 1 1422.6 563.2M1420.9 577.4A6.6 3.8 -60 0 1 1420.6 569.7A6.6 3.8 -60 0 1 1427.5 566M1425.7 580.2A6.6 3.8 -60 0 1 1425.5 572.5A6.6 3.8 -60 0 1 1432.3 568.8M1430.6 583A6.6 3.8 -60 0 1 1430.3 575.3A6.6 3.8 -60 0 1 1437.2 571.6M1435.4 585.8A6.6 3.8 -60 0 1 1435.2 578.1A6.6 3.8 -60 0 1 1442 574.4M1440.3 588.6A6.6 3.8 -60 0 1 1440 580.9A6.6 3.8 -60 0 1 1446.9 577.2M1445.1 591.4A6.6 3.8 -60 0 1 1444.9 583.7A6.6 3.8 -60 0 1 1451.7 580M1450 594.2A6.6 3.8 -60 0 1 1449.7 586.5A6.6 3.8 -60 0 1 1456.6 582.8M1454.8 597A6.6 3.8 -60 0 1 1454.6 589.3A6.6 3.8 -60 0 1 1461.4 585.6M1459.7 599.8A6.6 3.8 -60 0 1 1459.4 592.1A6.6 3.8 -60 0 1 1466.3 588.4" stroke-width="2.1"/>
<path d="M1469 600.2A3.5 2 -60 0 0 1470.6 594.5A3.5 2 -60 0 0 1466.3 598.7" stroke-width="1.8"/>
<path d="M1503.8 601L1500 619.8L1485.7 632.5L1475.2 626.4L1479 607.6L1493.3 594.9Z" fill="#fff"/>
<path d="M1500 619.8L1485.7 632.5L1518.6 651.5L1532.9 638.8Z" fill="#fff"/>
<path d="M1503.8 601L1500 619.8L1532.9 638.8L1536.8 620Z" fill="#fff"/>
<path d="M1485.7 632.5L1475.2 626.4L1508.1 645.4L1518.6 651.5Z" fill="#fff"/>
<path d="M1493.3 594.9L1503.8 601L1536.8 620L1526.3 613.9Z" fill="#fff"/>
<path d="M1475.2 626.4L1479 607.6L1511.9 626.6L1508.1 645.4Z" fill="#fff"/>
<path d="M1479 607.6L1493.3 594.9L1526.3 613.9L1511.9 626.6Z" fill="#fff"/>
<path d="M1536.8 620L1532.9 638.8L1518.6 651.5L1508.1 645.4L1511.9 626.6L1526.3 613.9Z" fill="#fff" fill-rule="evenodd"/>
<path d="M1552 598.6A42 24.2 -60 0 0 1510 622.9A42 24.2 -60 0 0 1510 671.4L1517.8 675.9A42 24.2 -60 0 0 1559.8 651.6A42 24.2 -60 0 0 1559.8 603.1Z" fill="#fff"/>
<path d="M1559.8 603.1A42 24.2 -60 0 1 1546.5 668.2A42 24.2 -60 0 1 1510.1 647.2A42 24.2 -60 0 1 1559.8 603.1Z" fill="#fff" fill-rule="evenodd"/>
<path d="M1551.5 622.3A21 12.1 -60 0 0 1530.5 634.4A21 12.1 -60 0 0 1530.5 658.7L1631 716.7A21 12.1 -60 0 0 1652 704.6A21 12.1 -60 0 0 1652 680.3Z" fill="#fff"/>
<path d="M1652 680.3A21 12.1 -60 0 1 1645.3 712.8A21 12.1 -60 0 1 1627.1 702.3A21 12.1 -60 0 1 1652 680.3ZM1647.5 688.1A12 6.9 -60 0 1 1643.7 706.7A12 6.9 -60 0 1 1633.3 700.7A12 6.9 -60 0 1 1647.5 688.1Z" fill="#fff" fill-rule="evenodd"/>
<path d="M144.5 507.7A50 28.9 -60 0 0 94.5 536.6A50 28.9 -60 0 0 94.5 594.3L109.2 602.8A50 28.9 -60 0 0 159.2 573.9A50 28.9 -60 0 0 159.2 516.2Z" fill="#fff"/>
<path d="M159.2 516.2A50 28.9 -60 0 1 143.4 593.7A50 28.9 -60 0 1 100.1 568.7A50 28.9 -60 0 1 159.2 516.2ZM152.7 527.5A37 21.4 -60 0 1 141 584.8A37 21.4 -60 0 1 109 566.3A37 21.4 -60 0 1 152.7 527.5Z" fill="#fff" fill-rule="evenodd"/>
<path d="M153.8 531.8A36 20.8 -60 0 1 116.2 590M151.2 534.3A35 20.2 -60 0 1 114.9 587.4M147.8 537.3A34 19.6 -60 0 1 113.7 584.5" stroke-width="2"/>
<path d="M87.5 586.8L102.2 595.3M110.3 516.8L125.1 525.3M151.5 515.2L166.3 523.7"/>
<path d="M213.5 548.1A53 30.6 -60 0 1 196.7 630.2A53 30.6 -60 0 1 150.8 603.7A53 30.6 -60 0 1 213.5 548.1ZM206.5 560.2A39 22.5 -60 0 1 194.2 620.6A39 22.5 -60 0 1 160.4 601.1A39 22.5 -60 0 1 206.5 560.2Z" fill="#fff" fill-rule="evenodd"/>
<path d="M217 550.1A53 30.6 -60 0 1 200.2 632.2A53 30.6 -60 0 1 154.3 605.7A53 30.6 -60 0 1 217 550.1ZM210 562.2A39 22.5 -60 0 1 197.6 622.6A39 22.5 -60 0 1 163.9 603.1A39 22.5 -60 0 1 210 562.2Z" fill="#fff" fill-rule="evenodd"/>
<path d="M289.4 582.7A61 35.2 -60 0 1 270.1 677.2A61 35.2 -60 0 1 217.2 646.7A61 35.2 -60 0 1 289.4 582.7ZM279.4 600A41 23.7 -60 0 1 266.4 663.5A41 23.7 -60 0 1 230.9 643A41 23.7 -60 0 1 279.4 600Z" fill="#fff" fill-rule="evenodd"/>
<path d="M292 584.2A61 35.2 -60 0 1 272.7 678.7A61 35.2 -60 0 1 219.8 648.2A61 35.2 -60 0 1 292 584.2ZM282 601.5A41 23.7 -60 0 1 269 665A41 23.7 -60 0 1 233.5 644.5A41 23.7 -60 0 1 282 601.5Z" fill="#fff" fill-rule="evenodd"/>
<path d="M264.3 637.5L311.6 664.8"/>
<path d="M116.6 2799L124.5 2803.6L78.3 2882.3L68.9 2878.7Z" fill="#fff" stroke-width="2.1"/>
<path d="M126 2811.5L218.4 2758L227.8 2763.8L125.2 2818.7Z" fill="#fff" stroke-width="2.1"/>
<path d="M124.5 2803.6L125.2 2818.7L227.8 2763.8L227.8 2827.4L125.2 2888L125.2 2906L78.3 2882.3Z" fill="#300000" stroke-width="2.1"/>
<text transform="matrix(0.648 -0.378 0 1 122 2880)" font-family="Liberation Sans,sans-serif" font-size="70" fill="#fff" stroke="#fff" stroke-width="1.8">FWD</text>
<path d="M1694.6 52.2A158 91.2 -60 0 0 1536.6 143.4A158 91.2 -60 0 0 1536.6 325.8L1594.6 359.3A158 91.2 -60 0 0 1752.6 268.1A158 91.2 -60 0 0 1752.6 85.7Z" fill="#fff" stroke="none"/>
<path d="M1761.6 70.1A176 101.6 -60 0 0 1585.6 171.7A176 101.6 -60 0 0 1585.6 374.9L1648 410.9A176 101.6 -60 0 0 1824 309.3A176 101.6 -60 0 0 1824 106.1Z" fill="#fff" stroke="none"/>
<path d="M1536.6 325.8Q1570.8 361.6 1642.2 403.2"/>
<path d="M1533.9 324.2A158 91.2 -60 0 1 1682.9 47.2M1538.2 326.7A158 91.2 -60 0 1 1687.2 49.7M1542.6 329.2A158 91.2 -60 0 1 1691.5 52.2M1551.2 334.2A158 91.2 -60 0 1 1700.2 57.2M1555.6 336.7A158 91.2 -60 0 1 1704.5 59.7M1562.5 340.7A158 91.2 -60 0 1 1711.4 63.7"/>
<path d="M1549.9 326.8A162 93.5 -60 0 1 1683.4 66.1"/>
<path d="M1564.7 344.1A170 98.1 -60 0 1 1622.8 126"/>
<path d="M1642.5 374.5A170 98.1 -60 0 1 1564.7 344.1" stroke-dasharray="22 7"/>
<path d="M1664.3 391.1A174 100.5 -60 0 1 1575 330.1M1669.5 394.1A174 100.5 -60 0 1 1580.2 333.1" stroke-dasharray="26 8"/>
<path d="M1575 330.1A174 100.5 -60 0 1 1644.2 136.8M1580.2 333.1A174 100.5 -60 0 1 1639.8 151"/>
<path d="M1652.6 177.3L1651.7 167.7L1656.7 161.2L1664.1 162.4L1666.3 159.9L1666.5 149.6L1672 143.7L1678.6 146.4L1680.9 144.2L1682.3 133.3L1688.1 128.1L1693.9 132.4L1696.2 130.4L1698.9 119.2L1704.8 114.9L1709.6 120.5L1712 118.9L1715.8 107.5L1721.7 104.1L1725.6 111L1727.9 109.8L1732.7 98.5L1738.6 96L1741.4 104.1L1743.7 103.2L1749.5 92.2L1755.2 90.7L1756.8 99.8L1759 99.4L1765.6 88.9L1771.1 88.4L1771.5 98.4L1773.6 98.4L1781 88.6L1786.1 89.1L1785.2 99.7L1787.2 100.2L1795.1 91.2L1799.8 92.8L1797.7 103.9M1651.7 167.7L1613.6 145.7L1618.6 139.2L1656.7 161.2M1664.1 162.4L1638.2 147.4M1666.5 149.6L1628.4 127.6L1633.9 121.7L1672 143.7M1678.6 146.4L1652.7 131.4M1682.3 133.3L1644.2 111.3L1650 106.1L1688.1 128.1M1693.9 132.4L1667.9 117.4M1698.9 119.2L1660.8 97.2L1666.6 92.9L1704.8 114.9M1709.6 120.5L1683.7 105.5M1715.8 107.5L1677.7 85.5L1683.6 82.1L1721.7 104.1M1725.6 111L1699.6 96M1732.7 98.5L1694.6 76.5L1700.5 74L1738.6 96M1741.4 104.1L1715.4 89.1M1749.5 92.2L1711.4 70.2L1717.1 68.7L1755.2 90.7M1756.8 99.8L1730.8 84.8M1765.6 88.9L1727.5 66.9L1733 66.4L1771.1 88.4M1771.5 98.4L1745.5 83.4M1781 88.6L1742.8 66.6L1747.9 67.1L1786.1 89.1M1785.2 99.7L1759.2 84.7M1795.1 91.2L1757 69.2L1761.7 70.8L1799.8 92.8M1797.7 103.9L1771.8 88.9"/>
<path d="M1781.6 356.2L1779.9 367.6L1775.9 371.6L1768.8 368.8L1766.5 370.9L1763.6 382.7L1759.5 386.1L1753.3 381.8L1750.9 383.5L1746.8 395.4L1742.6 398.2L1737.4 392.4L1735 393.8L1729.9 405.6L1725.6 407.7L1721.5 400.5L1719.1 401.5L1713 413L1708.8 414.4L1705.9 406L1703.6 406.6L1696.6 417.6L1692.5 418.2L1690.8 408.8L1688.6 409L1680.9 419.2L1677.1 419.1L1676.6 408.7L1674.5 408.5L1666.2 417.8L1662.7 417L1663.5 405.9"/>
<path d="M1818.5 115.6A165 95.3 -60 0 1 1766.2 371.2A165 95.3 -60 0 1 1623.3 288.7A165 95.3 -60 0 1 1818.5 115.6Z" fill="#fff" stroke="none"/>
<path d="M1803.8 98.8A176 101.6 -60 0 1 1855 147.8"/>
<path d="M1856.2 151.9A176 101.6 -60 0 1 1788.6 358.4" stroke-dasharray="34 8"/>
<path d="M1804.1 106.8A168 97 -60 0 1 1789.9 349.6" stroke-width="2.1"/>
<path d="M1665.8 406.6A165 95.3 -60 0 1 1621.1 348.2"/>
<path d="M1812 126.9A152 87.8 -60 0 1 1763.8 362.3A152 87.8 -60 0 1 1632.2 286.3A152 87.8 -60 0 1 1812 126.9Z" fill="#fff"/>
<path d="M1727 382.4A146 84.3 -60 0 1 1633.2 307.5" stroke-width="2.1"/>
<path d="M1777.5 186.6A83 47.9 -60 0 1 1751.2 315.2A83 47.9 -60 0 1 1679.3 273.7A83 47.9 -60 0 1 1777.5 186.6ZM1760.5 216.1L1764 218.8L1760 224.5L1762.5 227.7L1766.9 222.5L1769 227.1L1764.2 231.6L1765.3 236.2L1770.2 232.5L1770.6 238.5L1765.7 241.4L1765.3 246.9L1770.2 245L1769 251.8L1764.2 252.8L1762.5 258.8L1766.9 258.8L1764 265.8L1760 264.8L1757 270.6L1760.5 272.6L1756.4 279.1L1753.5 276.2L1749.5 281.3L1751.7 285.1L1746.7 290.4L1745.2 285.8L1740.6 289.7L1741.4 294.9L1736 298.5L1736 292.8L1731.4 295.1L1730.6 301.1L1725.3 302.7L1726.8 296.4L1722.5 296.8L1720.3 303.2L1715.6 302.6L1718.5 296.3L1715 294.9L1711.5 300.9L1708 298.2L1712 292.5L1709.5 289.3L1705.1 294.5L1703 289.9L1707.8 285.4L1706.7 280.8L1701.8 284.5L1701.4 278.5L1706.3 275.6L1706.7 270.1L1701.8 272L1703 265.2L1707.8 264.2L1709.5 258.2L1705.1 258.2L1708 251.2L1712 252.2L1715 246.4L1711.5 244.4L1715.6 237.9L1718.5 240.8L1722.5 235.7L1720.3 231.9L1725.3 226.6L1726.8 231.2L1731.4 227.3L1730.6 222.1L1736 218.5L1736 224.2L1740.6 221.9L1741.4 215.9L1746.7 214.3L1745.2 220.6L1749.5 220.2L1751.7 213.8L1756.4 214.4L1753.5 220.7L1757 222.1Z" fill="#fff" fill-rule="evenodd"/>
<path d="M1750.5 187.8A79 45.6 -60 0 1 1791.6 220.7M1740.9 319.9A79 45.6 -60 0 1 1685.4 315" stroke-width="2.1"/>
<path d="M1727.6 299.6L1712 290.6M1720.2 300.5L1704.6 291.5M1713.8 298.8L1698.2 289.8M1708.7 294.7L1693.1 285.7M1705.2 288.5L1689.7 279.5M1703.6 280.5L1688 271.5M1703.9 271.2L1688.3 262.2M1706.1 261.1L1690.5 252.1M1710 250.9L1694.4 241.9M1715.5 241.1L1699.9 232.1M1722.3 232.4L1706.7 223.4M1729.8 225.2L1714.2 216.2M1737.7 220L1722.1 211" stroke-width="1.8"/>
<path d="M1717.6 288.6A46 26.6 -60 0 1 1689 257.9A46 26.6 -60 0 1 1734.2 207.5" stroke-width="1.8"/>
<path d="M1799.4 155.6A7 4 -60 0 1 1797.2 166.4A7 4 -60 0 1 1791.1 162.9A7 4 -60 0 1 1799.4 155.6Z" stroke-width="2.1"/>
<path d="M1756.3 333.8A7 4 -60 0 1 1754 344.7A7 4 -60 0 1 1748 341.2A7 4 -60 0 1 1756.3 333.8Z" stroke-width="2.1"/>
<path d="M1662.8 267.9A7 4 -60 0 1 1660.6 278.8A7 4 -60 0 1 1654.6 275.3A7 4 -60 0 1 1662.8 267.9Z" stroke-width="2.1"/>
<path d="M1648.5 305A12 6.9 -60 0 0 1637.8 320.6A12 6.9 -60 0 0 1648.5 323.9" stroke-width="2.1"/>
<path d="M1438.6 62.4L1434 84.7L1416.9 99.9L1404.4 92.6L1409 70.3L1426.1 55.1Z" fill="#fff"/>
<path d="M1434 84.7L1416.9 99.9L1442.9 114.9L1460 99.7Z" fill="#fff"/>
<path d="M1438.6 62.4L1434 84.7L1460 99.7L1464.6 77.4Z" fill="#fff"/>
<path d="M1416.9 99.9L1404.4 92.6L1430.4 107.6L1442.9 114.9Z" fill="#fff"/>
<path d="M1426.1 55.1L1438.6 62.4L1464.6 77.4L1452.1 70.1Z" fill="#fff"/>
<path d="M1404.4 92.6L1409 70.3L1435 85.3L1430.4 107.6Z" fill="#fff"/>
<path d="M1409 70.3L1426.1 55.1L1452.1 70.1L1435 85.3Z" fill="#fff"/>
<path d="M1464.6 77.4L1460 99.7L1442.9 114.9L1430.4 107.6L1435 85.3L1452.1 70.1Z" fill="#fff" fill-rule="evenodd"/>
<path d="M1470.5 52.7A46 26.6 -60 0 0 1424.5 79.2A46 26.6 -60 0 0 1424.5 132.3L1428.8 134.8A46 26.6 -60 0 0 1474.8 108.3A46 26.6 -60 0 0 1474.8 55.2Z" fill="#fff"/>
<path d="M1474.8 55.2A46 26.6 -60 0 1 1460.2 126.4A46 26.6 -60 0 1 1420.4 103.4A46 26.6 -60 0 1 1474.8 55.2Z" fill="#fff" fill-rule="evenodd"/>
<path d="M1460.2 80.7A16.5 9.5 -60 0 0 1443.8 90.2A16.5 9.5 -60 0 0 1443.8 109.3L1493.1 137.8A16.5 9.5 -60 0 0 1509.6 128.3A16.5 9.5 -60 0 0 1509.6 109.2Z" fill="#fff"/>
<path d="M1509.6 109.2A16.5 9.5 -60 0 1 1504.4 134.8A16.5 9.5 -60 0 1 1490.1 126.5A16.5 9.5 -60 0 1 1509.6 109.2Z" fill="#fff" fill-rule="evenodd"/>
<path d="M1449.5 112.6A16.5 9.5 -60 0 1 1448.9 93.2A16.5 9.5 -60 0 1 1466 84.1M1454.7 115.6A16.5 9.5 -60 0 1 1454.1 96.2A16.5 9.5 -60 0 1 1471.2 87.1M1459.9 118.6A16.5 9.5 -60 0 1 1459.3 99.2A16.5 9.5 -60 0 1 1476.4 90.1M1465.1 121.6A16.5 9.5 -60 0 1 1464.5 102.2A16.5 9.5 -60 0 1 1481.6 93.1M1470.3 124.6A16.5 9.5 -60 0 1 1469.7 105.2A16.5 9.5 -60 0 1 1486.8 96.1M1475.5 127.6A16.5 9.5 -60 0 1 1474.9 108.2A16.5 9.5 -60 0 1 1492 99.1M1480.7 130.6A16.5 9.5 -60 0 1 1480.1 111.2A16.5 9.5 -60 0 1 1497.2 102.1M1485.9 133.6A16.5 9.5 -60 0 1 1485.3 114.2A16.5 9.5 -60 0 1 1502.4 105.1" stroke-width="2.1"/>
<path d="M434.1 569.8L444.4 565.3L454.5 561.7L464.5 559L474.3 557.4L482 535.4L496.6 534.8L510.4 536.4L502.1 558.4L510.4 560.7L518.2 564L525.5 568.3L532.2 573.4L546.5 554.5L555.7 564.4L563.5 576.1L548.9 594.7L553 603.2L556.4 612.6L559.1 622.6L561 633.2L578 622.3L579.4 640L579.1 658.8L562.1 668.9L560.9 681.5L558.9 694.3L556.2 707.4L552.8 720.6L568 720.8L561.2 741.6L552.9 762.3L538 761.3L531.8 774.5L525.1 787.4L517.8 800L509.9 812.3L519.2 823.5L506 841.7L492 858.9L483.2 847.1L473.7 857.3L463.9 866.8L453.9 875.6L443.8 883.7L444.7 902.8L428.7 913.7L412.6 922.7L412.3 903.2L402 907.7L391.9 911.3L381.9 914L372.2 915.6L364.4 937.6L349.8 938.2L336 936.6L344.3 914.6L336 912.3L328.2 909L320.9 904.7L314.2 899.6L299.9 918.5L290.7 908.6L282.9 896.9L297.5 878.3L293.4 869.8L290 860.4L287.3 850.4L285.4 839.8L268.4 850.7L267 833L267.3 814.2L284.3 804.1L285.5 791.5L287.5 778.7L290.2 765.6L293.6 752.4L278.4 752.2L285.2 731.4L293.5 710.7L308.4 711.7L314.6 698.5L321.3 685.6L328.6 673L336.5 660.7L327.2 649.5L340.4 631.3L354.5 614.1L363.2 625.9L372.7 615.7L382.5 606.2L392.5 597.4L402.6 589.3L401.7 570.2L417.8 559.3L433.8 550.3ZM506.2 592.7A166 95.8 -60 0 1 453.6 849.9A166 95.8 -60 0 1 309.8 766.9A166 95.8 -60 0 1 506.2 592.7Z" fill="#fff" fill-rule="evenodd"/>
<path d="M482 535.4L489.8 539.9M510.4 536.4L518.2 540.9M474.3 557.4L482.1 561.9M502.1 558.4L509.9 562.9M546.5 554.5L554.3 559M563.5 576.1L571.3 580.6M532.2 573.4L540 577.9M548.9 594.7L556.7 599.2M578 622.3L585.8 626.8M579.1 658.8L586.9 663.3M561 633.2L568.8 637.7M562.1 668.9L569.9 673.4M568 720.8L575.8 725.3M552.9 762.3L560.7 766.8M552.8 720.6L560.6 725.1M538 761.3L545.8 765.8M519.2 823.5L527 828M492 858.9L499.7 863.4M509.9 812.3L517.7 816.8M483.2 847.1L491 851.6M444.7 902.8L452.5 907.3M412.6 922.7L420.4 927.2M443.8 883.7L451.6 888.2M412.3 903.2L420.1 907.7M364.4 937.6L372.2 942.1M336 936.6L343.8 941.1M372.2 915.6L379.9 920.1M344.3 914.6L352.1 919.1M299.9 918.5L307.7 923M282.9 896.9L290.7 901.4M314.2 899.6L322 904.1M297.5 878.3L305.3 882.8M268.4 850.7L276.2 855.2M267.3 814.2L275.1 818.7M285.4 839.8L293.2 844.3M284.3 804.1L292.1 808.6M278.4 752.2L286.2 756.7M293.5 710.7L301.3 715.2M293.6 752.4L301.4 756.9M308.4 711.7L316.2 716.2M327.2 649.5L335 654M354.5 614.1L362.3 618.6M336.5 660.7L344.3 665.2M363.2 625.9L371 630.4M401.7 570.2L409.5 574.7M433.8 550.3L441.6 554.8M402.6 589.3L410.4 593.8M434.1 569.8L441.9 574.3"/>
<path d="M441.9 574.3L452.2 569.8L462.3 566.2L472.3 563.5L482.1 561.9L489.8 539.9L504.4 539.3L518.2 540.9L509.9 562.9L518.2 565.2L526 568.5L533.3 572.8L540 577.9L554.3 559L563.5 568.9L571.3 580.6L556.7 599.2L560.8 607.7L564.2 617.1L566.9 627.1L568.8 637.7L585.8 626.8L587.2 644.5L586.9 663.3L569.9 673.4L568.7 686L566.7 698.8L564 711.9L560.6 725.1L575.8 725.3L569 746.1L560.7 766.8L545.8 765.8L539.6 779L532.9 791.9L525.6 804.5L517.7 816.8L527 828L513.8 846.2L499.7 863.4L491 851.6L481.5 861.8L471.7 871.3L461.7 880.1L451.6 888.2L452.5 907.3L436.5 918.2L420.4 927.2L420.1 907.7L409.8 912.2L399.7 915.8L389.7 918.5L379.9 920.1L372.2 942.1L357.6 942.7L343.8 941.1L352.1 919.1L343.8 916.8L336 913.5L328.7 909.2L322 904.1L307.7 923L298.5 913.1L290.7 901.4L305.3 882.8L301.2 874.3L297.8 864.9L295.1 854.9L293.2 844.3L276.2 855.2L274.8 837.5L275.1 818.7L292.1 808.6L293.3 796L295.3 783.2L298 770.1L301.4 756.9L286.2 756.7L293 735.9L301.3 715.2L316.2 716.2L322.4 703L329.1 690.1L336.4 677.5L344.3 665.2L335 654L348.2 635.8L362.3 618.6L371 630.4L380.5 620.2L390.3 610.7L400.3 601.9L410.4 593.8L409.5 574.7L425.5 563.8L441.6 554.8ZM514 597.2A166 95.8 -60 0 1 461.4 854.4A166 95.8 -60 0 1 317.6 771.4A166 95.8 -60 0 1 514 597.2Z" fill="#fff" fill-rule="evenodd"/>
<path d="M494.2 585.5L505.1 564.9M510.2 582.3L519.5 568.9M518.7 594.3L529.3 580.9M532.8 596.8L543.6 585.6M537.3 613L552.9 598M548.5 621.1L560.1 612.8M548.6 640.5L560.9 633.3M556.2 653.5L567.7 648.8M551.9 674.9L568 669.3M555.3 692L566 691.1M546.9 713.7L557.6 714.6M546 733.7L555.1 736.8M534.1 754.4L546.4 759.9M528.8 776L535.8 782.7M514.2 794.2L520.5 802.9M505 815.9L509.3 825.9M488.7 830.4L493.9 845.4M476.1 850.6L477.5 863.2M459.2 860.5L459.3 874.6M444.2 877.9L442.5 892.2M427.8 882.4L424.5 903M411.3 895.9L406.7 910.9M396.7 894.7L390.6 910.6M379.8 903.3L372.6 918M367.8 896.5L356.9 917.1M351.8 899.7L342.5 913.1M343.3 887.7L332.7 901.1M329.2 885.2L318.4 896.4M324.7 869L309.1 884M313.5 860.9L301.9 869.2M313.4 841.5L301.1 848.7M305.8 828.5L294.3 833.2M310.1 807.1L294 812.7M306.7 790L296 790.9M315.1 768.3L304.4 767.4M316 748.3L306.9 745.2M327.9 727.6L315.6 722.1M333.2 706L326.2 699.3M347.8 687.8L341.5 679.1M357 666.1L352.7 656.1M373.3 651.6L368.1 636.6M385.9 631.4L384.5 618.8M402.8 621.5L402.7 607.4M417.8 604.1L419.5 589.8M434.2 599.6L437.5 579M450.7 586.1L455.3 571.1M465.3 587.3L471.4 571.4M482.2 578.7L489.4 564" stroke-width="2.5"/>
<path d="M488 606.7 l9 -7 l3 9 l-10 6 l2 9 l9 -4 m-12 -24 l6 5"/>
<path d="M605.8 606.1A210 121.2 -60 0 1 539.2 931.4A210 121.2 -60 0 1 357.4 826.4A210 121.2 -60 0 1 605.8 606.1ZM597.5 637L603.8 642.2L595.7 654.1L601 659.6L609.6 648.2L614.7 655.2L605.7 666L609.7 673.2L619.1 663L622.8 671.5L613.1 681L615.8 689.6L625.7 680.8L627.9 690.7L617.8 698.7L619.2 708.4L629.3 701.3L630 712.4L619.8 718.6L619.6 729.2L629.9 723.9L629 735.9L618.8 740.2L617.2 751.6L627.3 748.2L624.8 760.8L615 763.1L612.1 774.8L621.6 773.5L617.7 786.4L608.4 786.6L604.2 798.4L613.1 799.2L607.7 812L599.3 810.2L593.8 821.8L601.8 824.7L595.2 837.1L587.8 833.2L581.2 844.4L588.1 849.2L580.4 861L574.2 855.2L566.7 865.6L572.3 872.3L563.7 883.2L558.8 875.6L550.6 885L554.8 893.4L545.6 903L542.1 893.8L533.4 902L536.1 911.9L526.3 920L524.5 909.5L515.4 916.2L516.5 927.4L506.5 933.9L506.3 922.2L497.1 927.3L496.6 939.5L486.7 944.1L488 931.6L479 935.1L476.9 947.9L467.2 950.6L470.1 937.6L461.5 939.2L457.8 952.3L448.6 953.1L453 939.9L444.9 939.6L439.8 952.8L431.4 951.5L437.2 938.4L429.9 936.4L423.4 949.3L415.9 946L423 933.4L416.6 929.5L409 941.8L402.6 936.6L410.8 924.7L405.5 919.2L396.9 930.6L391.8 923.6L400.8 912.8L396.7 905.6L387.4 915.8L383.7 907.3L393.3 897.8L390.6 889.2L380.7 898L378.5 888.1L388.6 880.1L387.3 870.4L377.1 877.5L376.5 866.4L386.7 860.2L386.8 849.6L376.6 854.9L377.5 842.9L387.7 838.6L389.2 827.2L379.2 830.6L381.6 818L391.5 815.7L394.4 804L384.8 805.3L388.8 792.4L398 792.2L402.3 780.4L393.4 779.6L398.7 766.8L407.2 768.6L412.6 757L404.7 754.1L411.2 741.7L418.7 745.6L425.2 734.4L418.4 729.6L426 717.8L432.3 723.6L439.7 713.2L434.2 706.5L442.7 695.6L447.6 703.2L455.8 693.8L451.6 685.4L460.9 675.8L464.3 685L473.1 676.8L470.4 666.9L480.1 658.8L482 669.3L491 662.6L490 651.4L499.9 644.9L500.2 656.6L509.3 651.5L509.9 639.3L519.8 634.7L518.4 647.2L527.5 643.7L529.6 630.9L539.2 628.2L536.3 641.2L545 639.6L548.7 626.5L557.8 625.7L553.4 638.9L561.5 639.2L566.6 626L575.1 627.3L569.3 640.4L576.6 642.4L583 629.5L590.5 632.8L583.5 645.4L589.9 649.3Z" fill="#fff" fill-rule="evenodd"/>
<path d="M611 609.1A210 121.2 -60 0 1 544.4 934.4A210 121.2 -60 0 1 362.6 829.4A210 121.2 -60 0 1 611 609.1ZM600.2 638.6L606.6 643.8L598.5 655.7L603.8 661.2L612.4 649.8L617.4 656.8L608.4 667.6L612.5 674.8L621.8 664.6L625.5 673.1L615.9 682.6L618.6 691.2L628.5 682.4L630.7 692.3L620.6 700.3L621.9 710L632.1 702.9L632.8 714L622.5 720.2L622.4 730.8L632.6 725.5L631.7 737.5L621.6 741.8L620 753.2L630 749.8L627.6 762.4L617.8 764.7L614.8 776.4L624.4 775.1L620.5 788L611.2 788.2L606.9 800L615.8 800.8L610.5 813.6L602.1 811.8L596.6 823.4L604.6 826.3L598 838.7L590.6 834.8L584 846L590.9 850.8L583.2 862.6L577 856.8L569.5 867.2L575.1 873.9L566.5 884.8L561.6 877.2L553.4 886.6L557.6 895L548.3 904.6L544.9 895.4L536.2 903.6L538.8 913.5L529.1 921.6L527.2 911.1L518.2 917.8L519.3 929L509.3 935.5L509.1 923.8L499.9 928.9L499.4 941.1L489.4 945.7L490.8 933.2L481.8 936.7L479.6 949.5L470 952.2L472.9 939.2L464.2 940.8L460.6 953.9L451.4 954.7L455.8 941.5L447.7 941.2L442.6 954.4L434.2 953.1L440 940L432.6 938L426.2 950.9L418.7 947.6L425.8 935L419.4 931.1L411.8 943.4L405.4 938.2L413.5 926.3L408.2 920.8L399.6 932.2L394.6 925.2L403.6 914.4L399.5 907.2L390.2 917.4L386.5 908.9L396.1 899.4L393.4 890.8L383.5 899.6L381.3 889.7L391.4 881.7L390.1 872L379.9 879.1L379.2 868L389.5 861.8L389.6 851.2L379.4 856.5L380.3 844.5L390.4 840.2L392 828.8L382 832.2L384.4 819.6L394.2 817.3L397.2 805.6L387.6 806.9L391.5 794L400.8 793.8L405.1 782L396.2 781.2L401.5 768.4L409.9 770.2L415.4 758.6L407.4 755.7L414 743.3L421.4 747.2L428 736L421.1 731.2L428.8 719.4L435 725.2L442.5 714.8L436.9 708.1L445.5 697.2L450.4 704.8L458.6 695.4L454.4 687L463.7 677.4L467.1 686.6L475.8 678.4L473.2 668.5L482.9 660.4L484.8 670.9L493.8 664.2L492.7 653L502.7 646.5L502.9 658.2L512.1 653.1L512.6 640.9L522.6 636.3L521.2 648.8L530.2 645.3L532.4 632.5L542 629.8L539.1 642.8L547.8 641.2L551.4 628.1L560.6 627.3L556.2 640.5L564.3 640.8L569.4 627.6L577.8 628.9L572 642L579.4 644L585.8 631.1L593.3 634.4L586.2 647L592.6 650.9Z" fill="#fff" fill-rule="evenodd"/>
<path d="M602.8 661.6L613.1 657L623.2 653.4L633.2 650.8L643 649.1L650.7 627.1L665.3 626.6L679.1 628.2L670.8 650.1L679.1 652.5L686.9 655.8L694.2 660L700.9 665.2L715.2 646.2L724.4 656.1L732.2 667.8L717.6 686.4L721.7 695L725.1 704.3L727.8 714.3L729.7 724.9L746.7 714.1L748.1 731.8L747.8 750.5L730.8 760.7L729.6 773.2L727.6 786.1L724.9 799.1L721.5 812.4L736.7 812.5L729.9 833.3L721.6 854L706.7 853.1L700.5 866.2L693.8 879.1L686.5 891.8L678.6 904.1L687.9 915.2L674.7 933.5L660.7 950.6L651.9 938.8L642.4 949L632.6 958.6L622.6 967.4L612.5 975.4L613.4 994.6L597.4 1005.4L581.3 1014.4L581 994.9L570.7 999.5L560.6 1003.1L550.6 1005.7L540.9 1007.4L533.1 1029.4L518.5 1029.9L504.7 1028.3L513 1006.4L504.7 1004L496.9 1000.7L489.6 996.5L482.9 991.3L468.6 1010.3L459.4 1000.4L451.6 988.7L466.2 970.1L462.1 961.5L458.7 952.2L456 942.2L454.1 931.6L437.1 942.4L435.7 924.7L436 906L453 895.8L454.2 883.3L456.2 870.4L458.9 857.4L462.3 844.1L447.1 844L453.9 823.2L462.2 802.5L477.1 803.4L483.3 790.3L490 777.4L497.3 764.7L505.2 752.4L495.9 741.3L509.1 723L523.2 705.9L531.9 717.7L541.4 707.5L551.2 697.9L561.2 689.1L571.3 681.1L570.4 661.9L586.5 651.1L602.5 642.1ZM674.9 684.5A166 95.8 -60 0 1 622.3 941.6A166 95.8 -60 0 1 478.5 858.6A166 95.8 -60 0 1 674.9 684.5Z" fill="#fff" fill-rule="evenodd"/>
<path d="M650.7 627.1L658.5 631.6M679.1 628.2L686.9 632.7M643 649.1L650.8 653.6M670.8 650.1L678.6 654.6M715.2 646.2L723 650.7M732.2 667.8L740 672.3M700.9 665.2L708.7 669.7M717.6 686.4L725.4 690.9M746.7 714.1L754.5 718.6M747.8 750.5L755.6 755M729.7 724.9L737.5 729.4M730.8 760.7L738.6 765.2M736.7 812.5L744.5 817M721.6 854L729.4 858.5M721.5 812.4L729.3 816.9M706.7 853.1L714.5 857.6M687.9 915.2L695.7 919.7M660.7 950.6L668.4 955.1M678.6 904.1L686.4 908.6M651.9 938.8L659.7 943.3M613.4 994.6L621.2 999.1M581.3 1014.4L589.1 1018.9M612.5 975.4L620.3 979.9M581 994.9L588.8 999.4M533.1 1029.4L540.9 1033.9M504.7 1028.3L512.5 1032.8M540.9 1007.4L548.6 1011.9M513 1006.4L520.8 1010.9M468.6 1010.3L476.4 1014.8M451.6 988.7L459.4 993.2M482.9 991.3L490.7 995.8M466.2 970.1L474 974.6M437.1 942.4L444.9 946.9M436 906L443.8 910.5M454.1 931.6L461.9 936.1M453 895.8L460.8 900.3M447.1 844L454.9 848.5M462.2 802.5L470 807M462.3 844.1L470.1 848.6M477.1 803.4L484.9 807.9M495.9 741.3L503.7 745.8M523.2 705.9L531 710.4M505.2 752.4L513 756.9M531.9 717.7L539.7 722.2M570.4 661.9L578.2 666.4M602.5 642.1L610.3 646.6M571.3 681.1L579.1 685.6M602.8 661.6L610.6 666.1"/>
<path d="M610.6 666.1L620.9 661.5L631 657.9L641 655.3L650.8 653.6L658.5 631.6L673.1 631.1L686.9 632.7L678.6 654.6L686.9 657L694.7 660.3L702 664.5L708.7 669.7L723 650.7L732.2 660.6L740 672.3L725.4 690.9L729.5 699.5L732.9 708.8L735.6 718.8L737.5 729.4L754.5 718.6L755.9 736.3L755.6 755L738.6 765.2L737.4 777.7L735.4 790.6L732.7 803.6L729.3 816.9L744.5 817L737.7 837.8L729.4 858.5L714.5 857.6L708.3 870.7L701.6 883.6L694.3 896.3L686.4 908.6L695.7 919.7L682.5 938L668.4 955.1L659.7 943.3L650.2 953.5L640.4 963.1L630.4 971.9L620.3 979.9L621.2 999.1L605.2 1009.9L589.1 1018.9L588.8 999.4L578.5 1004L568.4 1007.6L558.4 1010.2L548.6 1011.9L540.9 1033.9L526.3 1034.4L512.5 1032.8L520.8 1010.9L512.5 1008.5L504.7 1005.2L497.4 1001L490.7 995.8L476.4 1014.8L467.2 1004.9L459.4 993.2L474 974.6L469.9 966L466.5 956.7L463.8 946.7L461.9 936.1L444.9 946.9L443.5 929.2L443.8 910.5L460.8 900.3L462 887.8L464 874.9L466.7 861.9L470.1 848.6L454.9 848.5L461.7 827.7L470 807L484.9 807.9L491.1 794.8L497.8 781.9L505.1 769.2L513 756.9L503.7 745.8L516.9 727.5L531 710.4L539.7 722.2L549.2 712L559 702.4L569 693.6L579.1 685.6L578.2 666.4L594.2 655.6L610.3 646.6ZM682.7 689A166 95.8 -60 0 1 630.1 946.1A166 95.8 -60 0 1 486.3 863.1A166 95.8 -60 0 1 682.7 689Z" fill="#fff" fill-rule="evenodd"/>
<path d="M662.9 677.2L673.8 656.7M678.9 674.1L688.2 660.6M687.4 686L698 672.7M701.5 688.5L712.3 677.3M706 704.8L721.6 689.7M717.2 712.8L728.8 704.6M717.3 732.3L729.6 725.1M724.9 745.3L736.4 740.6M720.6 766.6L736.7 761.1M724 783.7L734.7 782.9M715.6 805.5L726.3 806.3M714.7 825.5L723.8 828.5M702.8 846.2L715.1 851.7M697.5 867.7L704.5 874.5M682.9 886L689.2 894.6M673.7 907.6L678 917.6M657.4 922.1L662.6 937.2M644.8 942.4L646.2 955M627.9 952.2L628 966.4M612.9 969.7L611.2 984M596.5 974.2L593.2 994.7M580 987.7L575.4 1002.7M565.4 986.4L559.3 1002.3M548.5 995.1L541.3 1009.8M536.5 988.3L525.6 1008.8M520.5 991.4L511.2 1004.9M512 979.5L501.4 992.8M497.9 977L487.1 988.2M493.4 960.7L477.8 975.8M482.2 952.7L470.6 960.9M482.1 933.2L469.8 940.4M474.5 920.2L463 924.9M478.8 898.9L462.7 904.4M475.4 881.8L464.7 882.6M483.8 860L473.1 859.2M484.7 840L475.6 837M496.6 819.3L484.3 813.8M501.9 797.8L494.9 791M516.5 779.5L510.2 770.9M525.7 757.9L521.4 747.9M542 743.4L536.8 728.3M554.6 723.1L553.2 710.5M571.5 713.3L571.4 699.1M586.5 695.8L588.2 681.5M602.9 691.3L606.2 670.8M619.4 677.8L624 662.8M634 679.1L640.1 663.2M650.9 670.4L658.1 655.7" stroke-width="2.5"/>
<path d="M656.7 698.5 l9 -7 l3 9 l-10 6 l2 9 l9 -4 m-12 -24 l6 5"/>
<path d="M777.4 698.5A210 121.2 -60 0 1 710.8 1023.8A210 121.2 -60 0 1 529 918.8A210 121.2 -60 0 1 777.4 698.5ZM769.1 729.4L775.4 734.6L767.3 746.5L772.6 752L781.2 740.6L786.3 747.6L777.3 758.4L781.3 765.6L790.7 755.4L794.4 763.9L784.7 773.4L787.4 782L797.3 773.2L799.5 783.1L789.4 791.1L790.8 800.8L800.9 793.7L801.6 804.8L791.4 811L791.2 821.6L801.5 816.3L800.6 828.3L790.4 832.6L788.8 844L798.9 840.6L796.4 853.2L786.6 855.5L783.7 867.2L793.2 865.9L789.3 878.8L780 879L775.8 890.8L784.7 891.6L779.3 904.4L770.9 902.6L765.4 914.2L773.4 917.1L766.8 929.5L759.4 925.6L752.8 936.8L759.7 941.6L752 953.4L745.8 947.6L738.3 958L743.9 964.7L735.3 975.6L730.4 968L722.2 977.4L726.4 985.8L717.2 995.4L713.7 986.2L705 994.4L707.7 1004.3L697.9 1012.4L696.1 1001.9L687 1008.6L688.1 1019.8L678.1 1026.3L677.9 1014.6L668.7 1019.7L668.2 1031.9L658.3 1036.5L659.6 1024L650.6 1027.5L648.5 1040.3L638.8 1043L641.7 1030L633.1 1031.6L629.4 1044.7L620.2 1045.5L624.6 1032.3L616.5 1032L611.4 1045.2L603 1043.9L608.8 1030.8L601.5 1028.8L595 1041.7L587.5 1038.4L594.6 1025.8L588.2 1021.9L580.6 1034.2L574.2 1029L582.4 1017.1L577.1 1011.6L568.5 1023L563.4 1016L572.4 1005.2L568.3 998L559 1008.2L555.3 999.7L564.9 990.2L562.2 981.6L552.3 990.4L550.1 980.5L560.2 972.5L558.9 962.8L548.7 969.9L548.1 958.8L558.3 952.6L558.4 942L548.2 947.3L549.1 935.3L559.3 931L560.8 919.6L550.8 923L553.2 910.4L563.1 908.1L566 896.4L556.4 897.7L560.4 884.8L569.6 884.6L573.9 872.8L565 872L570.3 859.2L578.8 861L584.2 849.4L576.3 846.5L582.8 834.1L590.3 838L596.8 826.8L590 822L597.6 810.2L603.9 816L611.3 805.6L605.8 798.9L614.3 788L619.2 795.6L627.4 786.2L623.2 777.8L632.5 768.2L635.9 777.4L644.7 769.2L642 759.3L651.7 751.2L653.6 761.7L662.6 755L661.6 743.8L671.5 737.3L671.8 749L680.9 743.9L681.5 731.7L691.4 727.1L690 739.6L699.1 736.1L701.2 723.3L710.8 720.6L707.9 733.6L716.6 732L720.3 718.9L729.4 718.1L725 731.3L733.1 731.6L738.2 718.4L746.7 719.7L740.9 732.8L748.2 734.8L754.6 721.9L762.1 725.2L755.1 737.8L761.5 741.7Z" fill="#fff" fill-rule="evenodd"/>
<path d="M782.6 701.5A210 121.2 -60 0 1 716 1026.8A210 121.2 -60 0 1 534.2 921.8A210 121.2 -60 0 1 782.6 701.5ZM771.8 731L778.2 736.2L770.1 748.1L775.4 753.6L784 742.2L789 749.2L780 760L784.1 767.2L793.4 757L797.1 765.5L787.5 775L790.2 783.6L800.1 774.8L802.3 784.7L792.2 792.7L793.5 802.4L803.7 795.3L804.4 806.4L794.1 812.6L794 823.2L804.2 817.9L803.3 829.9L793.2 834.2L791.6 845.6L801.6 842.2L799.2 854.8L789.4 857.1L786.4 868.8L796 867.5L792.1 880.4L782.8 880.6L778.5 892.4L787.4 893.2L782.1 906L773.7 904.2L768.2 915.8L776.2 918.7L769.6 931.1L762.2 927.2L755.6 938.4L762.5 943.2L754.8 955L748.6 949.2L741.1 959.6L746.7 966.3L738.1 977.2L733.2 969.6L725 979L729.2 987.4L719.9 997L716.5 987.8L707.8 996L710.4 1005.9L700.7 1014L698.8 1003.5L689.8 1010.2L690.9 1021.4L680.9 1027.9L680.7 1016.2L671.5 1021.3L671 1033.5L661 1038.1L662.4 1025.6L653.4 1029.1L651.2 1041.9L641.6 1044.6L644.5 1031.6L635.8 1033.2L632.2 1046.3L623 1047.1L627.4 1033.9L619.3 1033.6L614.2 1046.8L605.8 1045.5L611.6 1032.4L604.2 1030.4L597.8 1043.3L590.3 1040L597.4 1027.4L591 1023.5L583.4 1035.8L577 1030.6L585.1 1018.7L579.8 1013.2L571.2 1024.6L566.2 1017.6L575.2 1006.8L571.1 999.6L561.8 1009.8L558.1 1001.3L567.7 991.8L565 983.2L555.1 992L552.9 982.1L563 974.1L561.7 964.4L551.5 971.5L550.8 960.4L561.1 954.2L561.2 943.6L551 948.9L551.9 936.9L562 932.6L563.6 921.2L553.6 924.6L556 912L565.8 909.7L568.8 898L559.2 899.3L563.1 886.4L572.4 886.2L576.7 874.4L567.8 873.6L573.1 860.8L581.5 862.6L587 851L579 848.1L585.6 835.7L593 839.6L599.6 828.4L592.7 823.6L600.4 811.8L606.6 817.6L614.1 807.2L608.5 800.5L617.1 789.6L622 797.2L630.2 787.8L626 779.4L635.3 769.8L638.7 779L647.4 770.8L644.8 760.9L654.5 752.8L656.4 763.3L665.4 756.6L664.3 745.4L674.3 738.9L674.5 750.6L683.7 745.5L684.2 733.3L694.2 728.7L692.8 741.2L701.8 737.7L704 724.9L713.6 722.2L710.7 735.2L719.4 733.6L723 720.5L732.2 719.7L727.8 732.9L735.9 733.2L741 720L749.4 721.3L743.6 734.4L751 736.4L757.4 723.5L764.9 726.8L757.8 739.4L764.2 743.3Z" fill="#fff" fill-rule="evenodd"/>
<path d="M766.7 756.3L777 751.8L787.1 748.2L797.1 745.5L806.9 743.9L814.6 721.9L829.2 721.3L843 722.9L834.7 744.9L843 747.2L850.8 750.5L858.1 754.8L864.8 759.9L879.1 741L888.3 750.9L896.1 762.6L881.5 781.2L885.6 789.7L889 799.1L891.7 809.1L893.6 819.7L910.6 808.8L912 826.5L911.7 845.3L894.7 855.4L893.5 868L891.5 880.8L888.8 893.9L885.4 907.1L900.6 907.3L893.8 928.1L885.5 948.8L870.6 947.8L864.4 961L857.7 973.9L850.4 986.5L842.5 998.8L851.8 1010L838.6 1028.2L824.6 1045.4L815.8 1033.6L806.3 1043.8L796.5 1053.3L786.5 1062.1L776.4 1070.2L777.3 1089.3L761.3 1100.2L745.2 1109.2L744.9 1089.7L734.6 1094.2L724.5 1097.8L714.5 1100.5L704.8 1102.1L697 1124.1L682.4 1124.7L668.6 1123.1L676.9 1101.1L668.6 1098.8L660.8 1095.5L653.5 1091.2L646.8 1086.1L632.5 1105L623.3 1095.1L615.5 1083.4L630.1 1064.8L626 1056.3L622.6 1046.9L619.9 1036.9L618 1026.3L601 1037.2L599.6 1019.5L599.9 1000.7L616.9 990.6L618.1 978L620.1 965.2L622.8 952.1L626.2 938.9L611 938.7L617.8 917.9L626.1 897.2L641 898.2L647.2 885L653.9 872.1L661.2 859.5L669.1 847.2L659.8 836L673 817.8L687.1 800.6L695.8 812.4L705.3 802.2L715.1 792.7L725.1 783.9L735.2 775.8L734.3 756.7L750.4 745.8L766.4 736.8ZM838.8 779.2A166 95.8 -60 0 1 786.2 1036.4A166 95.8 -60 0 1 642.4 953.4A166 95.8 -60 0 1 838.8 779.2Z" fill="#fff" fill-rule="evenodd"/>
<path d="M814.6 721.9L822.4 726.4M843 722.9L850.8 727.4M806.9 743.9L814.7 748.4M834.7 744.9L842.5 749.4M879.1 741L886.9 745.5M896.1 762.6L903.9 767.1M864.8 759.9L872.6 764.4M881.5 781.2L889.3 785.7M910.6 808.8L918.4 813.3M911.7 845.3L919.5 849.8M893.6 819.7L901.4 824.2M894.7 855.4L902.5 859.9M900.6 907.3L908.4 911.8M885.5 948.8L893.3 953.3M885.4 907.1L893.2 911.6M870.6 947.8L878.4 952.3M851.8 1010L859.6 1014.5M824.6 1045.4L832.3 1049.9M842.5 998.8L850.3 1003.3M815.8 1033.6L823.6 1038.1M777.3 1089.3L785.1 1093.8M745.2 1109.2L753 1113.7M776.4 1070.2L784.2 1074.7M744.9 1089.7L752.7 1094.2M697 1124.1L704.8 1128.6M668.6 1123.1L676.4 1127.6M704.8 1102.1L712.5 1106.6M676.9 1101.1L684.7 1105.6M632.5 1105L640.3 1109.5M615.5 1083.4L623.3 1087.9M646.8 1086.1L654.6 1090.6M630.1 1064.8L637.9 1069.3M601 1037.2L608.8 1041.7M599.9 1000.7L607.7 1005.2M618 1026.3L625.8 1030.8M616.9 990.6L624.7 995.1M611 938.7L618.8 943.2M626.1 897.2L633.9 901.7M626.2 938.9L634 943.4M641 898.2L648.8 902.7M659.8 836L667.6 840.5M687.1 800.6L694.9 805.1M669.1 847.2L676.9 851.7M695.8 812.4L703.6 816.9M734.3 756.7L742.1 761.2M766.4 736.8L774.2 741.3M735.2 775.8L743 780.3M766.7 756.3L774.5 760.8"/>
<path d="M774.5 760.8L784.8 756.3L794.9 752.7L804.9 750L814.7 748.4L822.4 726.4L837 725.8L850.8 727.4L842.5 749.4L850.8 751.7L858.6 755L865.9 759.3L872.6 764.4L886.9 745.5L896.1 755.4L903.9 767.1L889.3 785.7L893.4 794.2L896.8 803.6L899.5 813.6L901.4 824.2L918.4 813.3L919.8 831L919.5 849.8L902.5 859.9L901.3 872.5L899.3 885.3L896.6 898.4L893.2 911.6L908.4 911.8L901.6 932.6L893.3 953.3L878.4 952.3L872.2 965.5L865.5 978.4L858.2 991L850.3 1003.3L859.6 1014.5L846.4 1032.7L832.3 1049.9L823.6 1038.1L814.1 1048.3L804.3 1057.8L794.3 1066.6L784.2 1074.7L785.1 1093.8L769.1 1104.7L753 1113.7L752.7 1094.2L742.4 1098.7L732.3 1102.3L722.3 1105L712.5 1106.6L704.8 1128.6L690.2 1129.2L676.4 1127.6L684.7 1105.6L676.4 1103.3L668.6 1100L661.3 1095.7L654.6 1090.6L640.3 1109.5L631.1 1099.6L623.3 1087.9L637.9 1069.3L633.8 1060.8L630.4 1051.4L627.7 1041.4L625.8 1030.8L608.8 1041.7L607.4 1024L607.7 1005.2L624.7 995.1L625.9 982.5L627.9 969.7L630.6 956.6L634 943.4L618.8 943.2L625.6 922.4L633.9 901.7L648.8 902.7L655 889.5L661.7 876.6L669 864L676.9 851.7L667.6 840.5L680.8 822.3L694.9 805.1L703.6 816.9L713.1 806.7L722.9 797.2L732.9 788.4L743 780.3L742.1 761.2L758.1 750.3L774.2 741.3ZM846.6 783.7A166 95.8 -60 0 1 794 1040.9A166 95.8 -60 0 1 650.2 957.9A166 95.8 -60 0 1 846.6 783.7Z" fill="#fff" fill-rule="evenodd"/>
<path d="M826.8 772L837.7 751.4M842.8 768.8L852.1 755.4M851.3 780.8L861.9 767.4M865.4 783.3L876.2 772.1M869.9 799.5L885.5 784.5M881.1 807.6L892.7 799.3M881.2 827L893.5 819.8M888.8 840L900.3 835.3M884.5 861.4L900.6 855.8M887.9 878.5L898.6 877.6M879.5 900.2L890.2 901.1M878.6 920.2L887.7 923.3M866.7 940.9L879 946.4M861.4 962.5L868.4 969.2M846.8 980.7L853.1 989.4M837.6 1002.4L841.9 1012.4M821.3 1016.9L826.5 1031.9M808.7 1037.1L810.1 1049.7M791.8 1047L791.9 1061.1M776.8 1064.4L775.1 1078.7M760.4 1068.9L757.1 1089.5M743.9 1082.4L739.3 1097.4M729.3 1081.2L723.2 1097.1M712.4 1089.8L705.2 1104.5M700.4 1083L689.5 1103.6M684.4 1086.2L675.1 1099.6M675.9 1074.2L665.3 1087.6M661.8 1071.7L651 1082.9M657.3 1055.5L641.7 1070.5M646.1 1047.4L634.5 1055.7M646 1028L633.7 1035.2M638.4 1015L626.9 1019.7M642.7 993.6L626.6 999.2M639.3 976.5L628.6 977.4M647.7 954.8L637 953.9M648.6 934.8L639.5 931.7M660.5 914.1L648.2 908.6M665.8 892.5L658.8 885.8M680.4 874.3L674.1 865.6M689.6 852.6L685.3 842.6M705.9 838.1L700.7 823.1M718.5 817.9L717.1 805.3M735.4 808L735.3 793.9M750.4 790.6L752.1 776.3M766.8 786.1L770.1 765.5M783.3 772.6L787.9 757.6M797.9 773.8L804 757.9M814.8 765.2L822 750.5" stroke-width="2.5"/>
<path d="M820.6 793.2 l9 -7 l3 9 l-10 6 l2 9 l9 -4 m-12 -24 l6 5"/>
<path d="M942 793.4A210 121.2 -60 0 1 875.4 1118.7A210 121.2 -60 0 1 693.6 1013.7A210 121.2 -60 0 1 942 793.4ZM933.7 824.3L940 829.5L931.9 841.4L937.2 846.9L945.8 835.5L950.9 842.5L941.9 853.3L945.9 860.5L955.3 850.3L959 858.8L949.3 868.3L952 876.9L961.9 868.1L964.1 878L954 886L955.4 895.7L965.5 888.6L966.2 899.7L956 905.9L955.8 916.5L966.1 911.2L965.2 923.2L955 927.5L953.4 938.9L963.5 935.5L961 948.1L951.2 950.4L948.3 962.1L957.8 960.8L953.9 973.7L944.6 973.9L940.4 985.7L949.3 986.5L943.9 999.3L935.5 997.5L930 1009.1L938 1012L931.4 1024.4L924 1020.5L917.4 1031.7L924.3 1036.5L916.6 1048.3L910.4 1042.5L902.9 1052.9L908.5 1059.6L899.9 1070.5L895 1062.9L886.8 1072.3L891 1080.7L881.8 1090.3L878.3 1081.1L869.6 1089.3L872.3 1099.2L862.5 1107.3L860.7 1096.8L851.6 1103.5L852.7 1114.7L842.7 1121.2L842.5 1109.5L833.3 1114.6L832.8 1126.8L822.9 1131.4L824.2 1118.9L815.2 1122.4L813.1 1135.2L803.4 1137.9L806.3 1124.9L797.7 1126.5L794 1139.6L784.8 1140.4L789.2 1127.2L781.1 1126.9L776 1140.1L767.6 1138.8L773.4 1125.7L766.1 1123.7L759.6 1136.6L752.1 1133.3L759.2 1120.7L752.8 1116.8L745.2 1129.1L738.8 1123.9L747 1112L741.7 1106.5L733.1 1117.9L728 1110.9L737 1100.1L732.9 1092.9L723.6 1103.1L719.9 1094.6L729.5 1085.1L726.8 1076.5L716.9 1085.3L714.7 1075.4L724.8 1067.4L723.5 1057.7L713.3 1064.8L712.7 1053.7L722.9 1047.5L723 1036.9L712.8 1042.2L713.7 1030.2L723.9 1025.9L725.4 1014.5L715.4 1017.9L717.8 1005.3L727.7 1003L730.6 991.3L721 992.6L725 979.7L734.2 979.5L738.5 967.7L729.6 966.9L734.9 954.1L743.4 955.9L748.8 944.3L740.9 941.4L747.4 929L754.9 932.9L761.4 921.7L754.6 916.9L762.2 905.1L768.5 910.9L775.9 900.5L770.4 893.8L778.9 882.9L783.8 890.5L792 881.1L787.8 872.7L797.1 863.1L800.5 872.3L809.3 864.1L806.6 854.2L816.3 846.1L818.2 856.6L827.2 849.9L826.2 838.7L836.1 832.2L836.4 843.9L845.5 838.8L846.1 826.6L856 822L854.6 834.5L863.7 831L865.8 818.2L875.4 815.5L872.5 828.5L881.2 826.9L884.9 813.8L894 813L889.6 826.2L897.7 826.5L902.8 813.3L911.3 814.6L905.5 827.7L912.8 829.7L919.2 816.8L926.7 820.1L919.7 832.7L926.1 836.6Z" fill="#fff" fill-rule="evenodd"/>
<path d="M947.2 796.4A210 121.2 -60 0 1 880.6 1121.7A210 121.2 -60 0 1 698.8 1016.7A210 121.2 -60 0 1 947.2 796.4ZM936.4 825.9L942.8 831.1L934.7 843L940 848.5L948.6 837.1L953.6 844.1L944.6 854.9L948.7 862.1L958 851.9L961.7 860.4L952.1 869.9L954.8 878.5L964.7 869.7L966.9 879.6L956.8 887.6L958.1 897.3L968.3 890.2L969 901.3L958.7 907.5L958.6 918.1L968.8 912.8L967.9 924.8L957.8 929.1L956.2 940.5L966.2 937.1L963.8 949.7L954 952L951 963.7L960.6 962.4L956.7 975.3L947.4 975.5L943.1 987.3L952 988.1L946.7 1000.9L938.3 999.1L932.8 1010.7L940.8 1013.6L934.2 1026L926.8 1022.1L920.2 1033.3L927.1 1038.1L919.4 1049.9L913.2 1044.1L905.7 1054.5L911.3 1061.2L902.7 1072.1L897.8 1064.5L889.6 1073.9L893.8 1082.3L884.5 1091.9L881.1 1082.7L872.4 1090.9L875 1100.8L865.3 1108.9L863.4 1098.4L854.4 1105.1L855.5 1116.3L845.5 1122.8L845.3 1111.1L836.1 1116.2L835.6 1128.4L825.6 1133L827 1120.5L818 1124L815.8 1136.8L806.2 1139.5L809.1 1126.5L800.4 1128.1L796.8 1141.2L787.6 1142L792 1128.8L783.9 1128.5L778.8 1141.7L770.4 1140.4L776.2 1127.3L768.8 1125.3L762.4 1138.2L754.9 1134.9L762 1122.3L755.6 1118.4L748 1130.7L741.6 1125.5L749.7 1113.6L744.4 1108.1L735.8 1119.5L730.8 1112.5L739.8 1101.7L735.7 1094.5L726.4 1104.7L722.7 1096.2L732.3 1086.7L729.6 1078.1L719.7 1086.9L717.5 1077L727.6 1069L726.3 1059.3L716.1 1066.4L715.4 1055.3L725.7 1049.1L725.8 1038.5L715.6 1043.8L716.5 1031.8L726.6 1027.5L728.2 1016.1L718.2 1019.5L720.6 1006.9L730.4 1004.6L733.4 992.9L723.8 994.2L727.7 981.3L737 981.1L741.3 969.3L732.4 968.5L737.7 955.7L746.1 957.5L751.6 945.9L743.6 943L750.2 930.6L757.6 934.5L764.2 923.3L757.3 918.5L765 906.7L771.2 912.5L778.7 902.1L773.1 895.4L781.7 884.5L786.6 892.1L794.8 882.7L790.6 874.3L799.9 864.7L803.3 873.9L812 865.7L809.4 855.8L819.1 847.7L821 858.2L830 851.5L828.9 840.3L838.9 833.8L839.1 845.5L848.3 840.4L848.8 828.2L858.8 823.6L857.4 836.1L866.4 832.6L868.6 819.8L878.2 817.1L875.3 830.1L884 828.5L887.6 815.4L896.8 814.6L892.4 827.8L900.5 828.1L905.6 814.9L914 816.2L908.2 829.3L915.6 831.3L922 818.4L929.5 821.7L922.4 834.3L928.8 838.2Z" fill="#fff" fill-rule="evenodd"/>
<path d="M930.6 851.1L940.9 846.5L951 842.9L961 840.3L970.8 838.6L978.5 816.6L993.1 816.1L1006.9 817.7L998.6 839.6L1006.9 842L1014.7 845.3L1022 849.5L1028.7 854.7L1043 835.7L1052.2 845.6L1060 857.3L1045.4 875.9L1049.5 884.5L1052.9 893.8L1055.6 903.8L1057.5 914.4L1074.5 903.6L1075.9 921.3L1075.6 940L1058.6 950.2L1057.4 962.7L1055.4 975.6L1052.7 988.6L1049.3 1001.9L1064.5 1002L1057.7 1022.8L1049.4 1043.5L1034.5 1042.6L1028.3 1055.7L1021.6 1068.6L1014.3 1081.3L1006.4 1093.6L1015.7 1104.7L1002.5 1123L988.5 1140.1L979.7 1128.3L970.2 1138.5L960.4 1148.1L950.4 1156.9L940.3 1164.9L941.2 1184.1L925.2 1194.9L909.1 1203.9L908.8 1184.4L898.5 1189L888.4 1192.6L878.4 1195.2L868.7 1196.9L860.9 1218.9L846.3 1219.4L832.5 1217.8L840.8 1195.9L832.5 1193.5L824.7 1190.2L817.4 1186L810.7 1180.8L796.4 1199.8L787.2 1189.9L779.4 1178.2L794 1159.6L789.9 1151L786.5 1141.7L783.8 1131.7L781.9 1121.1L764.9 1131.9L763.5 1114.2L763.8 1095.5L780.8 1085.3L782 1072.8L784 1059.9L786.7 1046.9L790.1 1033.6L774.9 1033.5L781.7 1012.7L790 992L804.9 992.9L811.1 979.8L817.8 966.9L825.1 954.2L833 941.9L823.7 930.8L836.9 912.5L851 895.4L859.7 907.2L869.2 897L879 887.4L889 878.6L899.1 870.6L898.2 851.4L914.3 840.6L930.3 831.6ZM1002.7 874A166 95.8 -60 0 1 950.1 1131.1A166 95.8 -60 0 1 806.3 1048.1A166 95.8 -60 0 1 1002.7 874Z" fill="#fff" fill-rule="evenodd"/>
<path d="M978.5 816.6L986.3 821.1M1006.9 817.7L1014.7 822.2M970.8 838.6L978.6 843.1M998.6 839.6L1006.4 844.1M1043 835.7L1050.8 840.2M1060 857.3L1067.8 861.8M1028.7 854.7L1036.5 859.2M1045.4 875.9L1053.2 880.4M1074.5 903.6L1082.3 908.1M1075.6 940L1083.4 944.5M1057.5 914.4L1065.3 918.9M1058.6 950.2L1066.4 954.7M1064.5 1002L1072.3 1006.5M1049.4 1043.5L1057.2 1048M1049.3 1001.9L1057.1 1006.4M1034.5 1042.6L1042.3 1047.1M1015.7 1104.7L1023.5 1109.2M988.5 1140.1L996.2 1144.6M1006.4 1093.6L1014.2 1098.1M979.7 1128.3L987.5 1132.8M941.2 1184.1L949 1188.6M909.1 1203.9L916.9 1208.4M940.3 1164.9L948.1 1169.4M908.8 1184.4L916.6 1188.9M860.9 1218.9L868.7 1223.4M832.5 1217.8L840.3 1222.3M868.7 1196.9L876.4 1201.4M840.8 1195.9L848.6 1200.4M796.4 1199.8L804.2 1204.3M779.4 1178.2L787.2 1182.7M810.7 1180.8L818.5 1185.3M794 1159.6L801.8 1164.1M764.9 1131.9L772.7 1136.4M763.8 1095.5L771.6 1100M781.9 1121.1L789.7 1125.6M780.8 1085.3L788.6 1089.8M774.9 1033.5L782.7 1038M790 992L797.8 996.5M790.1 1033.6L797.9 1038.1M804.9 992.9L812.7 997.4M823.7 930.8L831.5 935.3M851 895.4L858.8 899.9M833 941.9L840.8 946.4M859.7 907.2L867.5 911.7M898.2 851.4L906 855.9M930.3 831.6L938.1 836.1M899.1 870.6L906.9 875.1M930.6 851.1L938.4 855.6"/>
<path d="M938.4 855.6L948.7 851L958.8 847.4L968.8 844.8L978.6 843.1L986.3 821.1L1000.9 820.6L1014.7 822.2L1006.4 844.1L1014.7 846.5L1022.5 849.8L1029.8 854L1036.5 859.2L1050.8 840.2L1060 850.1L1067.8 861.8L1053.2 880.4L1057.3 889L1060.7 898.3L1063.4 908.3L1065.3 918.9L1082.3 908.1L1083.7 925.8L1083.4 944.5L1066.4 954.7L1065.2 967.2L1063.2 980.1L1060.5 993.1L1057.1 1006.4L1072.3 1006.5L1065.5 1027.3L1057.2 1048L1042.3 1047.1L1036.1 1060.2L1029.4 1073.1L1022.1 1085.8L1014.2 1098.1L1023.5 1109.2L1010.3 1127.5L996.2 1144.6L987.5 1132.8L978 1143L968.2 1152.6L958.2 1161.4L948.1 1169.4L949 1188.6L933 1199.4L916.9 1208.4L916.6 1188.9L906.3 1193.5L896.2 1197.1L886.2 1199.7L876.4 1201.4L868.7 1223.4L854.1 1223.9L840.3 1222.3L848.6 1200.4L840.3 1198L832.5 1194.7L825.2 1190.5L818.5 1185.3L804.2 1204.3L795 1194.4L787.2 1182.7L801.8 1164.1L797.7 1155.5L794.3 1146.2L791.6 1136.2L789.7 1125.6L772.7 1136.4L771.3 1118.7L771.6 1100L788.6 1089.8L789.8 1077.3L791.8 1064.4L794.5 1051.4L797.9 1038.1L782.7 1038L789.5 1017.2L797.8 996.5L812.7 997.4L818.9 984.3L825.6 971.4L832.9 958.7L840.8 946.4L831.5 935.3L844.7 917L858.8 899.9L867.5 911.7L877 901.5L886.8 891.9L896.8 883.1L906.9 875.1L906 855.9L922 845.1L938.1 836.1ZM1010.5 878.5A166 95.8 -60 0 1 957.9 1135.6A166 95.8 -60 0 1 814.1 1052.6A166 95.8 -60 0 1 1010.5 878.5Z" fill="#fff" fill-rule="evenodd"/>
<path d="M990.7 866.7L1001.6 846.2M1006.7 863.6L1016 850.1M1015.2 875.5L1025.8 862.2M1029.3 878L1040.1 866.8M1033.8 894.3L1049.4 879.2M1045 902.3L1056.6 894.1M1045.1 921.8L1057.4 914.6M1052.7 934.8L1064.2 930.1M1048.4 956.1L1064.5 950.6M1051.8 973.2L1062.5 972.4M1043.4 995L1054.1 995.8M1042.5 1015L1051.6 1018M1030.6 1035.7L1042.9 1041.2M1025.3 1057.2L1032.3 1064M1010.7 1075.5L1017 1084.1M1001.5 1097.1L1005.8 1107.1M985.2 1111.6L990.4 1126.7M972.6 1131.9L974 1144.5M955.7 1141.7L955.8 1155.9M940.7 1159.2L939 1173.5M924.3 1163.7L921 1184.2M907.8 1177.2L903.2 1192.2M893.2 1175.9L887.1 1191.8M876.3 1184.6L869.1 1199.3M864.3 1177.8L853.4 1198.3M848.3 1180.9L839 1194.4M839.8 1169L829.2 1182.3M825.7 1166.5L814.9 1177.7M821.2 1150.2L805.6 1165.3M810 1142.2L798.4 1150.4M809.9 1122.7L797.6 1129.9M802.3 1109.7L790.8 1114.4M806.6 1088.4L790.5 1093.9M803.2 1071.3L792.5 1072.1M811.6 1049.5L800.9 1048.7M812.5 1029.5L803.4 1026.5M824.4 1008.8L812.1 1003.3M829.7 987.3L822.7 980.5M844.3 969L838 960.4M853.5 947.4L849.2 937.4M869.8 932.9L864.6 917.8M882.4 912.6L881 900M899.3 902.8L899.2 888.6M914.3 885.3L916 871M930.7 880.8L934 860.3M947.2 867.3L951.8 852.3M961.8 868.6L967.9 852.7M978.7 859.9L985.9 845.2" stroke-width="2.5"/>
<path d="M984.5 888 l9 -7 l3 9 l-10 6 l2 9 l9 -4 m-12 -24 l6 5"/>
<path d="M1106.6 888.3A210 121.2 -60 0 1 1040 1213.6A210 121.2 -60 0 1 858.2 1108.6A210 121.2 -60 0 1 1106.6 888.3ZM1098.3 919.2L1104.6 924.4L1096.5 936.3L1101.8 941.8L1110.4 930.4L1115.5 937.4L1106.5 948.2L1110.5 955.4L1119.9 945.2L1123.6 953.7L1113.9 963.2L1116.6 971.8L1126.5 963L1128.7 972.9L1118.6 980.9L1120 990.6L1130.1 983.5L1130.8 994.6L1120.6 1000.8L1120.4 1011.4L1130.7 1006.1L1129.8 1018.1L1119.6 1022.4L1118 1033.8L1128.1 1030.4L1125.6 1043L1115.8 1045.3L1112.9 1057L1122.4 1055.7L1118.5 1068.6L1109.2 1068.8L1105 1080.6L1113.9 1081.4L1108.5 1094.2L1100.1 1092.4L1094.6 1104L1102.6 1106.9L1096 1119.3L1088.6 1115.4L1082 1126.6L1088.9 1131.4L1081.2 1143.2L1075 1137.4L1067.5 1147.8L1073.1 1154.5L1064.5 1165.4L1059.6 1157.8L1051.4 1167.2L1055.6 1175.6L1046.4 1185.2L1042.9 1176L1034.2 1184.2L1036.9 1194.1L1027.1 1202.2L1025.3 1191.7L1016.2 1198.4L1017.3 1209.6L1007.3 1216.1L1007.1 1204.4L997.9 1209.5L997.4 1221.7L987.5 1226.3L988.8 1213.8L979.8 1217.3L977.7 1230.1L968 1232.8L970.9 1219.8L962.3 1221.4L958.6 1234.5L949.4 1235.3L953.8 1222.1L945.7 1221.8L940.6 1235L932.2 1233.7L938 1220.6L930.7 1218.6L924.2 1231.5L916.7 1228.2L923.8 1215.6L917.4 1211.7L909.8 1224L903.4 1218.8L911.6 1206.9L906.3 1201.4L897.7 1212.8L892.6 1205.8L901.6 1195L897.5 1187.8L888.2 1198L884.5 1189.5L894.1 1180L891.4 1171.4L881.5 1180.2L879.3 1170.3L889.4 1162.3L888.1 1152.6L877.9 1159.7L877.3 1148.6L887.5 1142.4L887.6 1131.8L877.4 1137.1L878.3 1125.1L888.5 1120.8L890 1109.4L880 1112.8L882.4 1100.2L892.3 1097.9L895.2 1086.2L885.6 1087.5L889.6 1074.6L898.8 1074.4L903.1 1062.6L894.2 1061.8L899.5 1049L908 1050.8L913.4 1039.2L905.5 1036.3L912 1023.9L919.5 1027.8L926 1016.6L919.2 1011.8L926.8 1000L933.1 1005.8L940.5 995.4L935 988.7L943.5 977.8L948.4 985.4L956.6 976L952.4 967.6L961.7 958L965.1 967.2L973.9 959L971.2 949.1L980.9 941L982.8 951.5L991.8 944.8L990.8 933.6L1000.7 927.1L1001 938.8L1010.1 933.7L1010.7 921.5L1020.6 916.9L1019.2 929.4L1028.3 925.9L1030.4 913.1L1040 910.4L1037.1 923.4L1045.8 921.8L1049.5 908.7L1058.6 907.9L1054.2 921.1L1062.3 921.4L1067.4 908.2L1075.9 909.5L1070.1 922.6L1077.4 924.6L1083.8 911.7L1091.3 915L1084.3 927.6L1090.7 931.5Z" fill="#fff" fill-rule="evenodd"/>
<path d="M1111.8 891.3A210 121.2 -60 0 1 1045.2 1216.6A210 121.2 -60 0 1 863.4 1111.6A210 121.2 -60 0 1 1111.8 891.3ZM1101 920.8L1107.4 926L1099.3 937.9L1104.6 943.4L1113.2 932L1118.2 939L1109.2 949.8L1113.3 957L1122.6 946.8L1126.3 955.3L1116.7 964.8L1119.4 973.4L1129.3 964.6L1131.5 974.5L1121.4 982.5L1122.7 992.2L1132.9 985.1L1133.6 996.2L1123.3 1002.4L1123.2 1013L1133.4 1007.7L1132.5 1019.7L1122.4 1024L1120.8 1035.4L1130.8 1032L1128.4 1044.6L1118.6 1046.9L1115.6 1058.6L1125.2 1057.3L1121.3 1070.2L1112 1070.4L1107.7 1082.2L1116.6 1083L1111.3 1095.8L1102.9 1094L1097.4 1105.6L1105.4 1108.5L1098.8 1120.9L1091.4 1117L1084.8 1128.2L1091.7 1133L1084 1144.8L1077.8 1139L1070.3 1149.4L1075.9 1156.1L1067.3 1167L1062.4 1159.4L1054.2 1168.8L1058.4 1177.2L1049.1 1186.8L1045.7 1177.6L1037 1185.8L1039.6 1195.7L1029.9 1203.8L1028 1193.3L1019 1200L1020.1 1211.2L1010.1 1217.7L1009.9 1206L1000.7 1211.1L1000.2 1223.3L990.2 1227.9L991.6 1215.4L982.6 1218.9L980.4 1231.7L970.8 1234.4L973.7 1221.4L965 1223L961.4 1236.1L952.2 1236.9L956.6 1223.7L948.5 1223.4L943.4 1236.6L935 1235.3L940.8 1222.2L933.4 1220.2L927 1233.1L919.5 1229.8L926.6 1217.2L920.2 1213.3L912.6 1225.6L906.2 1220.4L914.3 1208.5L909 1203L900.4 1214.4L895.4 1207.4L904.4 1196.6L900.3 1189.4L891 1199.6L887.3 1191.1L896.9 1181.6L894.2 1173L884.3 1181.8L882.1 1171.9L892.2 1163.9L890.9 1154.2L880.7 1161.3L880 1150.2L890.3 1144L890.4 1133.4L880.2 1138.7L881.1 1126.7L891.2 1122.4L892.8 1111L882.8 1114.4L885.2 1101.8L895 1099.5L898 1087.8L888.4 1089.1L892.3 1076.2L901.6 1076L905.9 1064.2L897 1063.4L902.3 1050.6L910.7 1052.4L916.2 1040.8L908.2 1037.9L914.8 1025.5L922.2 1029.4L928.8 1018.2L921.9 1013.4L929.6 1001.6L935.8 1007.4L943.3 997L937.7 990.3L946.3 979.4L951.2 987L959.4 977.6L955.2 969.2L964.5 959.6L967.9 968.8L976.6 960.6L974 950.7L983.7 942.6L985.6 953.1L994.6 946.4L993.5 935.2L1003.5 928.7L1003.7 940.4L1012.9 935.3L1013.4 923.1L1023.4 918.5L1022 931L1031 927.5L1033.2 914.7L1042.8 912L1039.9 925L1048.6 923.4L1052.2 910.3L1061.4 909.5L1057 922.7L1065.1 923L1070.2 909.8L1078.6 911.1L1072.8 924.2L1080.2 926.2L1086.6 913.3L1094.1 916.6L1087 929.2L1093.4 933.1Z" fill="#fff" fill-rule="evenodd"/>
<path d="M1094.5 945.8L1104.8 941.3L1114.9 937.7L1124.9 935L1134.7 933.4L1142.4 911.4L1157 910.8L1170.8 912.4L1162.5 934.4L1170.8 936.7L1178.6 940L1185.9 944.3L1192.6 949.4L1206.9 930.5L1216.1 940.4L1223.9 952.1L1209.3 970.7L1213.4 979.2L1216.8 988.6L1219.5 998.6L1221.4 1009.2L1238.4 998.3L1239.8 1016L1239.5 1034.8L1222.5 1044.9L1221.3 1057.5L1219.3 1070.3L1216.6 1083.4L1213.2 1096.6L1228.4 1096.8L1221.6 1117.6L1213.3 1138.3L1198.4 1137.3L1192.2 1150.5L1185.5 1163.4L1178.2 1176L1170.3 1188.3L1179.6 1199.5L1166.4 1217.7L1152.4 1234.9L1143.6 1223.1L1134.1 1233.3L1124.3 1242.8L1114.3 1251.6L1104.2 1259.7L1105.1 1278.8L1089.1 1289.7L1073 1298.7L1072.7 1279.2L1062.4 1283.7L1052.3 1287.3L1042.3 1290L1032.6 1291.6L1024.8 1313.6L1010.2 1314.2L996.4 1312.6L1004.7 1290.6L996.4 1288.3L988.6 1285L981.3 1280.7L974.6 1275.6L960.3 1294.5L951.1 1284.6L943.3 1272.9L957.9 1254.3L953.8 1245.8L950.4 1236.4L947.7 1226.4L945.8 1215.8L928.8 1226.7L927.4 1209L927.7 1190.2L944.7 1180.1L945.9 1167.5L947.9 1154.7L950.6 1141.6L954 1128.4L938.8 1128.2L945.6 1107.4L953.9 1086.7L968.8 1087.7L975 1074.5L981.7 1061.6L989 1049L996.9 1036.7L987.6 1025.5L1000.8 1007.3L1014.9 990.1L1023.6 1001.9L1033.1 991.7L1042.9 982.2L1052.9 973.4L1063 965.3L1062.1 946.2L1078.2 935.3L1094.2 926.3ZM1166.6 968.7A166 95.8 -60 0 1 1114 1225.9A166 95.8 -60 0 1 970.2 1142.9A166 95.8 -60 0 1 1166.6 968.7Z" fill="#fff" fill-rule="evenodd"/>
<path d="M1142.4 911.4L1150.2 915.9M1170.8 912.4L1178.6 916.9M1134.7 933.4L1142.5 937.9M1162.5 934.4L1170.3 938.9M1206.9 930.5L1214.7 935M1223.9 952.1L1231.7 956.6M1192.6 949.4L1200.4 953.9M1209.3 970.7L1217.1 975.2M1238.4 998.3L1246.2 1002.8M1239.5 1034.8L1247.3 1039.3M1221.4 1009.2L1229.2 1013.7M1222.5 1044.9L1230.3 1049.4M1228.4 1096.8L1236.2 1101.3M1213.3 1138.3L1221.1 1142.8M1213.2 1096.6L1221 1101.1M1198.4 1137.3L1206.2 1141.8M1179.6 1199.5L1187.4 1204M1152.4 1234.9L1160.1 1239.4M1170.3 1188.3L1178.1 1192.8M1143.6 1223.1L1151.4 1227.6M1105.1 1278.8L1112.9 1283.3M1073 1298.7L1080.8 1303.2M1104.2 1259.7L1112 1264.2M1072.7 1279.2L1080.5 1283.7M1024.8 1313.6L1032.6 1318.1M996.4 1312.6L1004.2 1317.1M1032.6 1291.6L1040.3 1296.1M1004.7 1290.6L1012.5 1295.1M960.3 1294.5L968.1 1299M943.3 1272.9L951.1 1277.4M974.6 1275.6L982.4 1280.1M957.9 1254.3L965.7 1258.8M928.8 1226.7L936.6 1231.2M927.7 1190.2L935.5 1194.7M945.8 1215.8L953.6 1220.3M944.7 1180.1L952.5 1184.6M938.8 1128.2L946.6 1132.7M953.9 1086.7L961.7 1091.2M954 1128.4L961.8 1132.9M968.8 1087.7L976.6 1092.2M987.6 1025.5L995.4 1030M1014.9 990.1L1022.7 994.6M996.9 1036.7L1004.7 1041.2M1023.6 1001.9L1031.4 1006.4M1062.1 946.2L1069.9 950.7M1094.2 926.3L1102 930.8M1063 965.3L1070.8 969.8M1094.5 945.8L1102.3 950.3"/>
<path d="M1102.3 950.3L1112.6 945.8L1122.7 942.2L1132.7 939.5L1142.5 937.9L1150.2 915.9L1164.8 915.3L1178.6 916.9L1170.3 938.9L1178.6 941.2L1186.4 944.5L1193.7 948.8L1200.4 953.9L1214.7 935L1223.9 944.9L1231.7 956.6L1217.1 975.2L1221.2 983.7L1224.6 993.1L1227.3 1003.1L1229.2 1013.7L1246.2 1002.8L1247.6 1020.5L1247.3 1039.3L1230.3 1049.4L1229.1 1062L1227.1 1074.8L1224.4 1087.9L1221 1101.1L1236.2 1101.3L1229.4 1122.1L1221.1 1142.8L1206.2 1141.8L1200 1155L1193.3 1167.9L1186 1180.5L1178.1 1192.8L1187.4 1204L1174.2 1222.2L1160.1 1239.4L1151.4 1227.6L1141.9 1237.8L1132.1 1247.3L1122.1 1256.1L1112 1264.2L1112.9 1283.3L1096.9 1294.2L1080.8 1303.2L1080.5 1283.7L1070.2 1288.2L1060.1 1291.8L1050.1 1294.5L1040.3 1296.1L1032.6 1318.1L1018 1318.7L1004.2 1317.1L1012.5 1295.1L1004.2 1292.8L996.4 1289.5L989.1 1285.2L982.4 1280.1L968.1 1299L958.9 1289.1L951.1 1277.4L965.7 1258.8L961.6 1250.3L958.2 1240.9L955.5 1230.9L953.6 1220.3L936.6 1231.2L935.2 1213.5L935.5 1194.7L952.5 1184.6L953.7 1172L955.7 1159.2L958.4 1146.1L961.8 1132.9L946.6 1132.7L953.4 1111.9L961.7 1091.2L976.6 1092.2L982.8 1079L989.5 1066.1L996.8 1053.5L1004.7 1041.2L995.4 1030L1008.6 1011.8L1022.7 994.6L1031.4 1006.4L1040.9 996.2L1050.7 986.7L1060.7 977.9L1070.8 969.8L1069.9 950.7L1085.9 939.8L1102 930.8ZM1174.4 973.2A166 95.8 -60 0 1 1121.8 1230.4A166 95.8 -60 0 1 978 1147.4A166 95.8 -60 0 1 1174.4 973.2Z" fill="#fff" fill-rule="evenodd"/>
<path d="M1154.6 961.5L1165.5 940.9M1170.6 958.3L1179.9 944.9M1179.1 970.3L1189.7 956.9M1193.2 972.8L1204 961.6M1197.7 989L1213.3 974M1208.9 997.1L1220.5 988.8M1209 1016.5L1221.3 1009.3M1216.6 1029.5L1228.1 1024.8M1212.3 1050.9L1228.4 1045.3M1215.7 1068L1226.4 1067.1M1207.3 1089.7L1218 1090.6M1206.4 1109.7L1215.5 1112.8M1194.5 1130.4L1206.8 1135.9M1189.2 1152L1196.2 1158.7M1174.6 1170.2L1180.9 1178.9M1165.4 1191.9L1169.7 1201.9M1149.1 1206.4L1154.3 1221.4M1136.5 1226.6L1137.9 1239.2M1119.6 1236.5L1119.7 1250.6M1104.6 1253.9L1102.9 1268.2M1088.2 1258.4L1084.9 1279M1071.7 1271.9L1067.1 1286.9M1057.1 1270.7L1051 1286.6M1040.2 1279.3L1033 1294M1028.2 1272.5L1017.3 1293.1M1012.2 1275.7L1002.9 1289.1M1003.7 1263.7L993.1 1277.1M989.6 1261.2L978.8 1272.4M985.1 1245L969.5 1260M973.9 1236.9L962.3 1245.2M973.8 1217.5L961.5 1224.7M966.2 1204.5L954.7 1209.2M970.5 1183.1L954.4 1188.7M967.1 1166L956.4 1166.9M975.5 1144.3L964.8 1143.4M976.4 1124.3L967.3 1121.2M988.3 1103.6L976 1098.1M993.6 1082L986.6 1075.3M1008.2 1063.8L1001.9 1055.1M1017.4 1042.1L1013.1 1032.1M1033.7 1027.6L1028.5 1012.6M1046.3 1007.4L1044.9 994.8M1063.2 997.5L1063.1 983.4M1078.2 980.1L1079.9 965.8M1094.6 975.6L1097.9 955M1111.1 962.1L1115.7 947.1M1125.7 963.3L1131.8 947.4M1142.6 954.7L1149.8 940" stroke-width="2.5"/>
<path d="M1148.4 982.7 l9 -7 l3 9 l-10 6 l2 9 l9 -4 m-12 -24 l6 5"/>
<path d="M1271.2 983.2A210 121.2 -60 0 1 1204.6 1308.5A210 121.2 -60 0 1 1022.8 1203.5A210 121.2 -60 0 1 1271.2 983.2ZM1262.9 1014.1L1269.2 1019.3L1261.1 1031.2L1266.4 1036.7L1275 1025.3L1280.1 1032.3L1271.1 1043.1L1275.1 1050.3L1284.5 1040.1L1288.2 1048.6L1278.5 1058.1L1281.2 1066.7L1291.1 1057.9L1293.3 1067.8L1283.2 1075.8L1284.6 1085.5L1294.7 1078.4L1295.4 1089.5L1285.2 1095.7L1285 1106.3L1295.3 1101L1294.4 1113L1284.2 1117.3L1282.6 1128.7L1292.7 1125.3L1290.2 1137.9L1280.4 1140.2L1277.5 1151.9L1287 1150.6L1283.1 1163.5L1273.8 1163.7L1269.6 1175.5L1278.5 1176.3L1273.1 1189.1L1264.7 1187.3L1259.2 1198.9L1267.2 1201.8L1260.6 1214.2L1253.2 1210.3L1246.6 1221.5L1253.5 1226.3L1245.8 1238.1L1239.6 1232.3L1232.1 1242.7L1237.7 1249.4L1229.1 1260.3L1224.2 1252.7L1216 1262.1L1220.2 1270.5L1211 1280.1L1207.5 1270.9L1198.8 1279.1L1201.5 1289L1191.7 1297.1L1189.9 1286.6L1180.8 1293.3L1181.9 1304.5L1171.9 1311L1171.7 1299.3L1162.5 1304.4L1162 1316.6L1152.1 1321.2L1153.4 1308.7L1144.4 1312.2L1142.3 1325L1132.6 1327.7L1135.5 1314.7L1126.9 1316.3L1123.2 1329.4L1114 1330.2L1118.4 1317L1110.3 1316.7L1105.2 1329.9L1096.8 1328.6L1102.6 1315.5L1095.3 1313.5L1088.8 1326.4L1081.3 1323.1L1088.4 1310.5L1082 1306.6L1074.4 1318.9L1068 1313.7L1076.2 1301.8L1070.9 1296.3L1062.3 1307.7L1057.2 1300.7L1066.2 1289.9L1062.1 1282.7L1052.8 1292.9L1049.1 1284.4L1058.7 1274.9L1056 1266.3L1046.1 1275.1L1043.9 1265.2L1054 1257.2L1052.7 1247.5L1042.5 1254.6L1041.9 1243.5L1052.1 1237.3L1052.2 1226.7L1042 1232L1042.9 1220L1053.1 1215.7L1054.6 1204.3L1044.6 1207.7L1047 1195.1L1056.9 1192.8L1059.8 1181.1L1050.2 1182.4L1054.2 1169.5L1063.4 1169.3L1067.7 1157.5L1058.8 1156.7L1064.1 1143.9L1072.6 1145.7L1078 1134.1L1070.1 1131.2L1076.6 1118.8L1084.1 1122.7L1090.6 1111.5L1083.8 1106.7L1091.4 1094.9L1097.7 1100.7L1105.1 1090.3L1099.6 1083.6L1108.1 1072.7L1113 1080.3L1121.2 1070.9L1117 1062.5L1126.3 1052.9L1129.7 1062.1L1138.5 1053.9L1135.8 1044L1145.5 1035.9L1147.4 1046.4L1156.4 1039.7L1155.4 1028.5L1165.3 1022L1165.6 1033.7L1174.7 1028.6L1175.3 1016.4L1185.2 1011.8L1183.8 1024.3L1192.9 1020.8L1195 1008L1204.6 1005.3L1201.7 1018.3L1210.4 1016.7L1214.1 1003.6L1223.2 1002.8L1218.8 1016L1226.9 1016.3L1232 1003.1L1240.5 1004.4L1234.7 1017.5L1242 1019.5L1248.4 1006.6L1255.9 1009.9L1248.9 1022.5L1255.3 1026.4Z" fill="#fff" fill-rule="evenodd"/>
<path d="M1276.4 986.2A210 121.2 -60 0 1 1209.8 1311.5A210 121.2 -60 0 1 1028 1206.5A210 121.2 -60 0 1 1276.4 986.2ZM1265.6 1015.7L1272 1020.9L1263.9 1032.8L1269.2 1038.3L1277.8 1026.9L1282.8 1033.9L1273.8 1044.7L1277.9 1051.9L1287.2 1041.7L1290.9 1050.2L1281.3 1059.7L1284 1068.3L1293.9 1059.5L1296.1 1069.4L1286 1077.4L1287.3 1087.1L1297.5 1080L1298.2 1091.1L1287.9 1097.3L1287.8 1107.9L1298 1102.6L1297.1 1114.6L1287 1118.9L1285.4 1130.3L1295.4 1126.9L1293 1139.5L1283.2 1141.8L1280.2 1153.5L1289.8 1152.2L1285.9 1165.1L1276.6 1165.3L1272.3 1177.1L1281.2 1177.9L1275.9 1190.7L1267.5 1188.9L1262 1200.5L1270 1203.4L1263.4 1215.8L1256 1211.9L1249.4 1223.1L1256.3 1227.9L1248.6 1239.7L1242.4 1233.9L1234.9 1244.3L1240.5 1251L1231.9 1261.9L1227 1254.3L1218.8 1263.7L1223 1272.1L1213.7 1281.7L1210.3 1272.5L1201.6 1280.7L1204.2 1290.6L1194.5 1298.7L1192.6 1288.2L1183.6 1294.9L1184.7 1306.1L1174.7 1312.6L1174.5 1300.9L1165.3 1306L1164.8 1318.2L1154.8 1322.8L1156.2 1310.3L1147.2 1313.8L1145 1326.6L1135.4 1329.3L1138.3 1316.3L1129.6 1317.9L1126 1331L1116.8 1331.8L1121.2 1318.6L1113.1 1318.3L1108 1331.5L1099.6 1330.2L1105.4 1317.1L1098 1315.1L1091.6 1328L1084.1 1324.7L1091.2 1312.1L1084.8 1308.2L1077.2 1320.5L1070.8 1315.3L1078.9 1303.4L1073.6 1297.9L1065 1309.3L1060 1302.3L1069 1291.5L1064.9 1284.3L1055.6 1294.5L1051.9 1286L1061.5 1276.5L1058.8 1267.9L1048.9 1276.7L1046.7 1266.8L1056.8 1258.8L1055.5 1249.1L1045.3 1256.2L1044.6 1245.1L1054.9 1238.9L1055 1228.3L1044.8 1233.6L1045.7 1221.6L1055.8 1217.3L1057.4 1205.9L1047.4 1209.3L1049.8 1196.7L1059.6 1194.4L1062.6 1182.7L1053 1184L1056.9 1171.1L1066.2 1170.9L1070.5 1159.1L1061.6 1158.3L1066.9 1145.5L1075.3 1147.3L1080.8 1135.7L1072.8 1132.8L1079.4 1120.4L1086.8 1124.3L1093.4 1113.1L1086.5 1108.3L1094.2 1096.5L1100.4 1102.3L1107.9 1091.9L1102.3 1085.2L1110.9 1074.3L1115.8 1081.9L1124 1072.5L1119.8 1064.1L1129.1 1054.5L1132.5 1063.7L1141.2 1055.5L1138.6 1045.6L1148.3 1037.5L1150.2 1048L1159.2 1041.3L1158.1 1030.1L1168.1 1023.6L1168.3 1035.3L1177.5 1030.2L1178 1018L1188 1013.4L1186.6 1025.9L1195.6 1022.4L1197.8 1009.6L1207.4 1006.9L1204.5 1019.9L1213.2 1018.3L1216.8 1005.2L1226 1004.4L1221.6 1017.6L1229.7 1017.9L1234.8 1004.7L1243.2 1006L1237.4 1019.1L1244.8 1021.1L1251.2 1008.2L1258.7 1011.5L1251.6 1024.1L1258 1028Z" fill="#fff" fill-rule="evenodd"/>
<path d="M1258.4 1040.6L1268.7 1036L1278.8 1032.4L1288.8 1029.8L1298.6 1028.1L1306.3 1006.1L1320.9 1005.6L1334.7 1007.2L1326.4 1029.1L1334.7 1031.5L1342.5 1034.8L1349.8 1039L1356.5 1044.2L1370.8 1025.2L1380 1035.1L1387.8 1046.8L1373.2 1065.4L1377.3 1074L1380.7 1083.3L1383.4 1093.3L1385.3 1103.9L1402.3 1093.1L1403.7 1110.8L1403.4 1129.5L1386.4 1139.7L1385.2 1152.2L1383.2 1165.1L1380.5 1178.1L1377.1 1191.4L1392.3 1191.5L1385.5 1212.3L1377.2 1233L1362.3 1232.1L1356.1 1245.2L1349.4 1258.1L1342.1 1270.8L1334.2 1283.1L1343.5 1294.2L1330.3 1312.5L1316.3 1329.6L1307.5 1317.8L1298 1328L1288.2 1337.6L1278.2 1346.4L1268.1 1354.4L1269 1373.6L1253 1384.4L1236.9 1393.4L1236.6 1373.9L1226.3 1378.5L1216.2 1382.1L1206.2 1384.7L1196.5 1386.4L1188.7 1408.4L1174.1 1408.9L1160.3 1407.3L1168.6 1385.4L1160.3 1383L1152.5 1379.7L1145.2 1375.5L1138.5 1370.3L1124.2 1389.3L1115 1379.4L1107.2 1367.7L1121.8 1349.1L1117.7 1340.5L1114.3 1331.2L1111.6 1321.2L1109.7 1310.6L1092.7 1321.4L1091.3 1303.7L1091.6 1285L1108.6 1274.8L1109.8 1262.3L1111.8 1249.4L1114.5 1236.4L1117.9 1223.1L1102.7 1223L1109.5 1202.2L1117.8 1181.5L1132.7 1182.4L1138.9 1169.3L1145.6 1156.4L1152.9 1143.7L1160.8 1131.4L1151.5 1120.3L1164.7 1102L1178.8 1084.9L1187.5 1096.7L1197 1086.5L1206.8 1076.9L1216.8 1068.1L1226.9 1060.1L1226 1040.9L1242.1 1030.1L1258.1 1021.1ZM1330.5 1063.5A166 95.8 -60 0 1 1277.9 1320.6A166 95.8 -60 0 1 1134.1 1237.6A166 95.8 -60 0 1 1330.5 1063.5Z" fill="#fff" fill-rule="evenodd"/>
<path d="M1306.3 1006.1L1314.1 1010.6M1334.7 1007.2L1342.5 1011.7M1298.6 1028.1L1306.4 1032.6M1326.4 1029.1L1334.2 1033.6M1370.8 1025.2L1378.6 1029.7M1387.8 1046.8L1395.6 1051.3M1356.5 1044.2L1364.3 1048.7M1373.2 1065.4L1381 1069.9M1402.3 1093.1L1410.1 1097.6M1403.4 1129.5L1411.2 1134M1385.3 1103.9L1393.1 1108.4M1386.4 1139.7L1394.2 1144.2M1392.3 1191.5L1400.1 1196M1377.2 1233L1385 1237.5M1377.1 1191.4L1384.9 1195.9M1362.3 1232.1L1370.1 1236.6M1343.5 1294.2L1351.3 1298.7M1316.3 1329.6L1324 1334.1M1334.2 1283.1L1342 1287.6M1307.5 1317.8L1315.3 1322.3M1269 1373.6L1276.8 1378.1M1236.9 1393.4L1244.7 1397.9M1268.1 1354.4L1275.9 1358.9M1236.6 1373.9L1244.4 1378.4M1188.7 1408.4L1196.5 1412.9M1160.3 1407.3L1168.1 1411.8M1196.5 1386.4L1204.2 1390.9M1168.6 1385.4L1176.4 1389.9M1124.2 1389.3L1132 1393.8M1107.2 1367.7L1115 1372.2M1138.5 1370.3L1146.3 1374.8M1121.8 1349.1L1129.6 1353.6M1092.7 1321.4L1100.5 1325.9M1091.6 1285L1099.4 1289.5M1109.7 1310.6L1117.5 1315.1M1108.6 1274.8L1116.4 1279.3M1102.7 1223L1110.5 1227.5M1117.8 1181.5L1125.6 1186M1117.9 1223.1L1125.7 1227.6M1132.7 1182.4L1140.5 1186.9M1151.5 1120.3L1159.3 1124.8M1178.8 1084.9L1186.6 1089.4M1160.8 1131.4L1168.6 1135.9M1187.5 1096.7L1195.3 1101.2M1226 1040.9L1233.8 1045.4M1258.1 1021.1L1265.9 1025.6M1226.9 1060.1L1234.7 1064.6M1258.4 1040.6L1266.2 1045.1"/>
<path d="M1266.2 1045.1L1276.5 1040.5L1286.6 1036.9L1296.6 1034.3L1306.4 1032.6L1314.1 1010.6L1328.7 1010.1L1342.5 1011.7L1334.2 1033.6L1342.5 1036L1350.3 1039.3L1357.6 1043.5L1364.3 1048.7L1378.6 1029.7L1387.8 1039.6L1395.6 1051.3L1381 1069.9L1385.1 1078.5L1388.5 1087.8L1391.2 1097.8L1393.1 1108.4L1410.1 1097.6L1411.5 1115.3L1411.2 1134L1394.2 1144.2L1393 1156.7L1391 1169.6L1388.3 1182.6L1384.9 1195.9L1400.1 1196L1393.3 1216.8L1385 1237.5L1370.1 1236.6L1363.9 1249.7L1357.2 1262.6L1349.9 1275.3L1342 1287.6L1351.3 1298.7L1338.1 1317L1324 1334.1L1315.3 1322.3L1305.8 1332.5L1296 1342.1L1286 1350.9L1275.9 1358.9L1276.8 1378.1L1260.8 1388.9L1244.7 1397.9L1244.4 1378.4L1234.1 1383L1224 1386.6L1214 1389.2L1204.2 1390.9L1196.5 1412.9L1181.9 1413.4L1168.1 1411.8L1176.4 1389.9L1168.1 1387.5L1160.3 1384.2L1153 1380L1146.3 1374.8L1132 1393.8L1122.8 1383.9L1115 1372.2L1129.6 1353.6L1125.5 1345L1122.1 1335.7L1119.4 1325.7L1117.5 1315.1L1100.5 1325.9L1099.1 1308.2L1099.4 1289.5L1116.4 1279.3L1117.6 1266.8L1119.6 1253.9L1122.3 1240.9L1125.7 1227.6L1110.5 1227.5L1117.3 1206.7L1125.6 1186L1140.5 1186.9L1146.7 1173.8L1153.4 1160.9L1160.7 1148.2L1168.6 1135.9L1159.3 1124.8L1172.5 1106.5L1186.6 1089.4L1195.3 1101.2L1204.8 1091L1214.6 1081.4L1224.6 1072.6L1234.7 1064.6L1233.8 1045.4L1249.8 1034.6L1265.9 1025.6ZM1338.3 1068A166 95.8 -60 0 1 1285.7 1325.1A166 95.8 -60 0 1 1141.9 1242.1A166 95.8 -60 0 1 1338.3 1068Z" fill="#fff" fill-rule="evenodd"/>
<path d="M1318.5 1056.2L1329.4 1035.7M1334.5 1053.1L1343.8 1039.6M1343 1065L1353.6 1051.7M1357.1 1067.5L1367.9 1056.3M1361.6 1083.8L1377.2 1068.7M1372.8 1091.8L1384.4 1083.6M1372.9 1111.3L1385.2 1104.1M1380.5 1124.3L1392 1119.6M1376.2 1145.6L1392.3 1140.1M1379.6 1162.7L1390.3 1161.9M1371.2 1184.5L1381.9 1185.3M1370.3 1204.5L1379.4 1207.5M1358.4 1225.2L1370.7 1230.7M1353.1 1246.7L1360.1 1253.5M1338.5 1265L1344.8 1273.6M1329.3 1286.6L1333.6 1296.6M1313 1301.1L1318.2 1316.2M1300.4 1321.4L1301.8 1334M1283.5 1331.2L1283.6 1345.4M1268.5 1348.7L1266.8 1363M1252.1 1353.2L1248.8 1373.7M1235.6 1366.7L1231 1381.7M1221 1365.4L1214.9 1381.3M1204.1 1374.1L1196.9 1388.8M1192.1 1367.3L1181.2 1387.8M1176.1 1370.4L1166.8 1383.9M1167.6 1358.5L1157 1371.8M1153.5 1356L1142.7 1367.2M1149 1339.7L1133.4 1354.8M1137.8 1331.7L1126.2 1339.9M1137.7 1312.2L1125.4 1319.4M1130.1 1299.2L1118.6 1303.9M1134.4 1277.9L1118.3 1283.4M1131 1260.8L1120.3 1261.6M1139.4 1239L1128.7 1238.2M1140.3 1219L1131.2 1216M1152.2 1198.3L1139.9 1192.8M1157.5 1176.8L1150.5 1170M1172.1 1158.5L1165.8 1149.9M1181.3 1136.9L1177 1126.9M1197.6 1122.4L1192.4 1107.3M1210.2 1102.1L1208.8 1089.5M1227.1 1092.3L1227 1078.1M1242.1 1074.8L1243.8 1060.5M1258.5 1070.3L1261.8 1049.8M1275 1056.8L1279.6 1041.8M1289.6 1058.1L1295.7 1042.2M1306.5 1049.4L1313.7 1034.7" stroke-width="2.5"/>
<path d="M1312.3 1077.5 l9 -7 l3 9 l-10 6 l2 9 l9 -4 m-12 -24 l6 5"/>
<path d="M1435.8 1078.1A210 121.2 -60 0 1 1369.2 1403.4A210 121.2 -60 0 1 1187.4 1298.4A210 121.2 -60 0 1 1435.8 1078.1ZM1427.5 1109L1433.8 1114.2L1425.7 1126.1L1431 1131.6L1439.6 1120.2L1444.7 1127.2L1435.7 1138L1439.7 1145.2L1449.1 1135L1452.8 1143.5L1443.1 1153L1445.8 1161.6L1455.7 1152.8L1457.9 1162.7L1447.8 1170.7L1449.2 1180.4L1459.3 1173.3L1460 1184.4L1449.8 1190.6L1449.6 1201.2L1459.9 1195.9L1459 1207.9L1448.8 1212.2L1447.2 1223.6L1457.3 1220.2L1454.8 1232.8L1445 1235.1L1442.1 1246.8L1451.6 1245.5L1447.7 1258.4L1438.4 1258.6L1434.2 1270.4L1443.1 1271.2L1437.7 1284L1429.3 1282.2L1423.8 1293.8L1431.8 1296.7L1425.2 1309.1L1417.8 1305.2L1411.2 1316.4L1418.1 1321.2L1410.4 1333L1404.2 1327.2L1396.7 1337.6L1402.3 1344.3L1393.7 1355.2L1388.8 1347.6L1380.6 1357L1384.8 1365.4L1375.6 1375L1372.1 1365.8L1363.4 1374L1366.1 1383.9L1356.3 1392L1354.5 1381.5L1345.4 1388.2L1346.5 1399.4L1336.5 1405.9L1336.3 1394.2L1327.1 1399.3L1326.6 1411.5L1316.7 1416.1L1318 1403.6L1309 1407.1L1306.9 1419.9L1297.2 1422.6L1300.1 1409.6L1291.5 1411.2L1287.8 1424.3L1278.6 1425.1L1283 1411.9L1274.9 1411.6L1269.8 1424.8L1261.4 1423.5L1267.2 1410.4L1259.9 1408.4L1253.4 1421.3L1245.9 1418L1253 1405.4L1246.6 1401.5L1239 1413.8L1232.6 1408.6L1240.8 1396.7L1235.5 1391.2L1226.9 1402.6L1221.8 1395.6L1230.8 1384.8L1226.7 1377.6L1217.4 1387.8L1213.7 1379.3L1223.3 1369.8L1220.6 1361.2L1210.7 1370L1208.5 1360.1L1218.6 1352.1L1217.3 1342.4L1207.1 1349.5L1206.5 1338.4L1216.7 1332.2L1216.8 1321.6L1206.6 1326.9L1207.5 1314.9L1217.7 1310.6L1219.2 1299.2L1209.2 1302.6L1211.6 1290L1221.5 1287.7L1224.4 1276L1214.8 1277.3L1218.8 1264.4L1228 1264.2L1232.3 1252.4L1223.4 1251.6L1228.7 1238.8L1237.2 1240.6L1242.6 1229L1234.7 1226.1L1241.2 1213.7L1248.7 1217.6L1255.2 1206.4L1248.4 1201.6L1256 1189.8L1262.3 1195.6L1269.7 1185.2L1264.2 1178.5L1272.7 1167.6L1277.6 1175.2L1285.8 1165.8L1281.6 1157.4L1290.9 1147.8L1294.3 1157L1303.1 1148.8L1300.4 1138.9L1310.1 1130.8L1312 1141.3L1321 1134.6L1320 1123.4L1329.9 1116.9L1330.2 1128.6L1339.3 1123.5L1339.9 1111.3L1349.8 1106.7L1348.4 1119.2L1357.5 1115.7L1359.6 1102.9L1369.2 1100.2L1366.3 1113.2L1375 1111.6L1378.7 1098.5L1387.8 1097.7L1383.4 1110.9L1391.5 1111.2L1396.6 1098L1405.1 1099.3L1399.3 1112.4L1406.6 1114.4L1413 1101.5L1420.5 1104.8L1413.5 1117.4L1419.9 1121.3Z" fill="#fff" fill-rule="evenodd"/>
<path d="M1441 1081.1A210 121.2 -60 0 1 1374.4 1406.4A210 121.2 -60 0 1 1192.6 1301.4A210 121.2 -60 0 1 1441 1081.1ZM1430.2 1110.6L1436.6 1115.8L1428.5 1127.7L1433.8 1133.2L1442.4 1121.8L1447.4 1128.8L1438.4 1139.6L1442.5 1146.8L1451.8 1136.6L1455.5 1145.1L1445.9 1154.6L1448.6 1163.2L1458.5 1154.4L1460.7 1164.3L1450.6 1172.3L1451.9 1182L1462.1 1174.9L1462.8 1186L1452.5 1192.2L1452.4 1202.8L1462.6 1197.5L1461.7 1209.5L1451.6 1213.8L1450 1225.2L1460 1221.8L1457.6 1234.4L1447.8 1236.7L1444.8 1248.4L1454.4 1247.1L1450.5 1260L1441.2 1260.2L1436.9 1272L1445.8 1272.8L1440.5 1285.6L1432.1 1283.8L1426.6 1295.4L1434.6 1298.3L1428 1310.7L1420.6 1306.8L1414 1318L1420.9 1322.8L1413.2 1334.6L1407 1328.8L1399.5 1339.2L1405.1 1345.9L1396.5 1356.8L1391.6 1349.2L1383.4 1358.6L1387.6 1367L1378.3 1376.6L1374.9 1367.4L1366.2 1375.6L1368.8 1385.5L1359.1 1393.6L1357.2 1383.1L1348.2 1389.8L1349.3 1401L1339.3 1407.5L1339.1 1395.8L1329.9 1400.9L1329.4 1413.1L1319.4 1417.7L1320.8 1405.2L1311.8 1408.7L1309.6 1421.5L1300 1424.2L1302.9 1411.2L1294.2 1412.8L1290.6 1425.9L1281.4 1426.7L1285.8 1413.5L1277.7 1413.2L1272.6 1426.4L1264.2 1425.1L1270 1412L1262.6 1410L1256.2 1422.9L1248.7 1419.6L1255.8 1407L1249.4 1403.1L1241.8 1415.4L1235.4 1410.2L1243.5 1398.3L1238.2 1392.8L1229.6 1404.2L1224.6 1397.2L1233.6 1386.4L1229.5 1379.2L1220.2 1389.4L1216.5 1380.9L1226.1 1371.4L1223.4 1362.8L1213.5 1371.6L1211.3 1361.7L1221.4 1353.7L1220.1 1344L1209.9 1351.1L1209.2 1340L1219.5 1333.8L1219.6 1323.2L1209.4 1328.5L1210.3 1316.5L1220.4 1312.2L1222 1300.8L1212 1304.2L1214.4 1291.6L1224.2 1289.3L1227.2 1277.6L1217.6 1278.9L1221.5 1266L1230.8 1265.8L1235.1 1254L1226.2 1253.2L1231.5 1240.4L1239.9 1242.2L1245.4 1230.6L1237.4 1227.7L1244 1215.3L1251.4 1219.2L1258 1208L1251.1 1203.2L1258.8 1191.4L1265 1197.2L1272.5 1186.8L1266.9 1180.1L1275.5 1169.2L1280.4 1176.8L1288.6 1167.4L1284.4 1159L1293.7 1149.4L1297.1 1158.6L1305.8 1150.4L1303.2 1140.5L1312.9 1132.4L1314.8 1142.9L1323.8 1136.2L1322.7 1125L1332.7 1118.5L1332.9 1130.2L1342.1 1125.1L1342.6 1112.9L1352.6 1108.3L1351.2 1120.8L1360.2 1117.3L1362.4 1104.5L1372 1101.8L1369.1 1114.8L1377.8 1113.2L1381.4 1100.1L1390.6 1099.3L1386.2 1112.5L1394.3 1112.8L1399.4 1099.6L1407.8 1100.9L1402 1114L1409.4 1116L1415.8 1103.1L1423.3 1106.4L1416.2 1119L1422.6 1122.9Z" fill="#fff" fill-rule="evenodd"/>
<path d="M1422.3 1135.3L1432.6 1130.8L1442.7 1127.2L1452.7 1124.5L1462.5 1122.9L1470.2 1100.9L1484.8 1100.3L1498.6 1101.9L1490.3 1123.9L1498.6 1126.2L1506.4 1129.5L1513.7 1133.8L1520.4 1138.9L1534.7 1120L1543.9 1129.9L1551.7 1141.6L1537.1 1160.2L1541.2 1168.7L1544.6 1178.1L1547.3 1188.1L1549.2 1198.7L1566.2 1187.8L1567.6 1205.5L1567.3 1224.3L1550.3 1234.4L1549.1 1247L1547.1 1259.8L1544.4 1272.9L1541 1286.1L1556.2 1286.3L1549.4 1307.1L1541.1 1327.8L1526.2 1326.8L1520 1340L1513.3 1352.9L1506 1365.5L1498.1 1377.8L1507.4 1389L1494.2 1407.2L1480.2 1424.4L1471.4 1412.6L1461.9 1422.8L1452.1 1432.3L1442.1 1441.1L1432 1449.2L1432.9 1468.3L1416.9 1479.2L1400.8 1488.2L1400.5 1468.7L1390.2 1473.2L1380.1 1476.8L1370.1 1479.5L1360.4 1481.1L1352.6 1503.1L1338 1503.7L1324.2 1502.1L1332.5 1480.1L1324.2 1477.8L1316.4 1474.5L1309.1 1470.2L1302.4 1465.1L1288.1 1484L1278.9 1474.1L1271.1 1462.4L1285.7 1443.8L1281.6 1435.3L1278.2 1425.9L1275.5 1415.9L1273.6 1405.3L1256.6 1416.2L1255.2 1398.5L1255.5 1379.7L1272.5 1369.6L1273.7 1357L1275.7 1344.2L1278.4 1331.1L1281.8 1317.9L1266.6 1317.7L1273.4 1296.9L1281.7 1276.2L1296.6 1277.2L1302.8 1264L1309.5 1251.1L1316.8 1238.5L1324.7 1226.2L1315.4 1215L1328.6 1196.8L1342.7 1179.6L1351.4 1191.4L1360.9 1181.2L1370.7 1171.7L1380.7 1162.9L1390.8 1154.8L1389.9 1135.7L1406 1124.8L1422 1115.8ZM1494.4 1158.2A166 95.8 -60 0 1 1441.8 1415.4A166 95.8 -60 0 1 1298 1332.4A166 95.8 -60 0 1 1494.4 1158.2Z" fill="#fff" fill-rule="evenodd"/>
<path d="M1470.2 1100.9L1478 1105.4M1498.6 1101.9L1506.4 1106.4M1462.5 1122.9L1470.3 1127.4M1490.3 1123.9L1498.1 1128.4M1534.7 1120L1542.5 1124.5M1551.7 1141.6L1559.5 1146.1M1520.4 1138.9L1528.2 1143.4M1537.1 1160.2L1544.9 1164.7M1566.2 1187.8L1574 1192.3M1567.3 1224.3L1575.1 1228.8M1549.2 1198.7L1557 1203.2M1550.3 1234.4L1558.1 1238.9M1556.2 1286.3L1564 1290.8M1541.1 1327.8L1548.9 1332.3M1541 1286.1L1548.8 1290.6M1526.2 1326.8L1534 1331.3M1507.4 1389L1515.2 1393.5M1480.2 1424.4L1487.9 1428.9M1498.1 1377.8L1505.9 1382.3M1471.4 1412.6L1479.2 1417.1M1432.9 1468.3L1440.7 1472.8M1400.8 1488.2L1408.6 1492.7M1432 1449.2L1439.8 1453.7M1400.5 1468.7L1408.3 1473.2M1352.6 1503.1L1360.4 1507.6M1324.2 1502.1L1332 1506.6M1360.4 1481.1L1368.1 1485.6M1332.5 1480.1L1340.3 1484.6M1288.1 1484L1295.9 1488.5M1271.1 1462.4L1278.9 1466.9M1302.4 1465.1L1310.2 1469.6M1285.7 1443.8L1293.5 1448.3M1256.6 1416.2L1264.4 1420.7M1255.5 1379.7L1263.3 1384.2M1273.6 1405.3L1281.4 1409.8M1272.5 1369.6L1280.3 1374.1M1266.6 1317.7L1274.4 1322.2M1281.7 1276.2L1289.5 1280.7M1281.8 1317.9L1289.6 1322.4M1296.6 1277.2L1304.4 1281.7M1315.4 1215L1323.2 1219.5M1342.7 1179.6L1350.5 1184.1M1324.7 1226.2L1332.5 1230.7M1351.4 1191.4L1359.2 1195.9M1389.9 1135.7L1397.7 1140.2M1422 1115.8L1429.8 1120.3M1390.8 1154.8L1398.6 1159.3M1422.3 1135.3L1430.1 1139.8"/>
<path d="M1430.1 1139.8L1440.4 1135.3L1450.5 1131.7L1460.5 1129L1470.3 1127.4L1478 1105.4L1492.6 1104.8L1506.4 1106.4L1498.1 1128.4L1506.4 1130.7L1514.2 1134L1521.5 1138.3L1528.2 1143.4L1542.5 1124.5L1551.7 1134.4L1559.5 1146.1L1544.9 1164.7L1549 1173.2L1552.4 1182.6L1555.1 1192.6L1557 1203.2L1574 1192.3L1575.4 1210L1575.1 1228.8L1558.1 1238.9L1556.9 1251.5L1554.9 1264.3L1552.2 1277.4L1548.8 1290.6L1564 1290.8L1557.2 1311.6L1548.9 1332.3L1534 1331.3L1527.8 1344.5L1521.1 1357.4L1513.8 1370L1505.9 1382.3L1515.2 1393.5L1502 1411.7L1487.9 1428.9L1479.2 1417.1L1469.7 1427.3L1459.9 1436.8L1449.9 1445.6L1439.8 1453.7L1440.7 1472.8L1424.7 1483.7L1408.6 1492.7L1408.3 1473.2L1398 1477.7L1387.9 1481.3L1377.9 1484L1368.1 1485.6L1360.4 1507.6L1345.8 1508.2L1332 1506.6L1340.3 1484.6L1332 1482.3L1324.2 1479L1316.9 1474.7L1310.2 1469.6L1295.9 1488.5L1286.7 1478.6L1278.9 1466.9L1293.5 1448.3L1289.4 1439.8L1286 1430.4L1283.3 1420.4L1281.4 1409.8L1264.4 1420.7L1263 1403L1263.3 1384.2L1280.3 1374.1L1281.5 1361.5L1283.5 1348.7L1286.2 1335.6L1289.6 1322.4L1274.4 1322.2L1281.2 1301.4L1289.5 1280.7L1304.4 1281.7L1310.6 1268.5L1317.3 1255.6L1324.6 1243L1332.5 1230.7L1323.2 1219.5L1336.4 1201.3L1350.5 1184.1L1359.2 1195.9L1368.7 1185.7L1378.5 1176.2L1388.5 1167.4L1398.6 1159.3L1397.7 1140.2L1413.7 1129.3L1429.8 1120.3ZM1502.2 1162.7A166 95.8 -60 0 1 1449.6 1419.9A166 95.8 -60 0 1 1305.8 1336.9A166 95.8 -60 0 1 1502.2 1162.7Z" fill="#fff" fill-rule="evenodd"/>
<path d="M1482.4 1151L1493.3 1130.4M1498.4 1147.8L1507.7 1134.4M1506.9 1159.8L1517.5 1146.4M1521 1162.3L1531.8 1151.1M1525.5 1178.5L1541.1 1163.5M1536.7 1186.6L1548.3 1178.3M1536.8 1206L1549.1 1198.8M1544.4 1219L1555.9 1214.3M1540.1 1240.4L1556.2 1234.8M1543.5 1257.5L1554.2 1256.6M1535.1 1279.2L1545.8 1280.1M1534.2 1299.2L1543.3 1302.3M1522.3 1319.9L1534.6 1325.4M1517 1341.5L1524 1348.2M1502.4 1359.7L1508.7 1368.4M1493.2 1381.4L1497.5 1391.4M1476.9 1395.9L1482.1 1410.9M1464.3 1416.1L1465.7 1428.7M1447.4 1426L1447.5 1440.1M1432.4 1443.4L1430.7 1457.7M1416 1447.9L1412.7 1468.5M1399.5 1461.4L1394.9 1476.4M1384.9 1460.2L1378.8 1476.1M1368 1468.8L1360.8 1483.5M1356 1462L1345.1 1482.6M1340 1465.2L1330.7 1478.6M1331.5 1453.2L1320.9 1466.6M1317.4 1450.7L1306.6 1461.9M1312.9 1434.5L1297.3 1449.5M1301.7 1426.4L1290.1 1434.7M1301.6 1407L1289.3 1414.2M1294 1394L1282.5 1398.7M1298.3 1372.6L1282.2 1378.2M1294.9 1355.5L1284.2 1356.4M1303.3 1333.8L1292.6 1332.9M1304.2 1313.8L1295.1 1310.7M1316.1 1293.1L1303.8 1287.6M1321.4 1271.5L1314.4 1264.8M1336 1253.3L1329.7 1244.6M1345.2 1231.6L1340.9 1221.6M1361.5 1217.1L1356.3 1202.1M1374.1 1196.9L1372.7 1184.3M1391 1187L1390.9 1172.9M1406 1169.6L1407.7 1155.3M1422.4 1165.1L1425.7 1144.5M1438.9 1151.6L1443.5 1136.6M1453.5 1152.8L1459.6 1136.9M1470.4 1144.2L1477.6 1129.5" stroke-width="2.5"/>
<path d="M1476.2 1172.2 l9 -7 l3 9 l-10 6 l2 9 l9 -4 m-12 -24 l6 5"/>
<path d="M409.3 1241.1A210 121.2 -60 0 1 342.7 1566.4A210 121.2 -60 0 1 160.9 1461.4A210 121.2 -60 0 1 409.3 1241.1ZM401 1272L407.3 1277.2L399.2 1289.1L404.5 1294.6L413.1 1283.2L418.2 1290.2L409.2 1301L413.2 1308.2L422.6 1298L426.3 1306.5L416.6 1316L419.3 1324.6L429.2 1315.8L431.4 1325.7L421.3 1333.7L422.7 1343.4L432.8 1336.3L433.5 1347.4L423.3 1353.6L423.1 1364.2L433.4 1358.9L432.5 1370.9L422.3 1375.2L420.7 1386.6L430.8 1383.2L428.3 1395.8L418.5 1398.1L415.6 1409.8L425.1 1408.5L421.2 1421.4L411.9 1421.6L407.7 1433.4L416.6 1434.2L411.2 1447L402.8 1445.2L397.3 1456.8L405.3 1459.7L398.7 1472.1L391.3 1468.2L384.7 1479.4L391.6 1484.2L383.9 1496L377.7 1490.2L370.2 1500.6L375.8 1507.3L367.2 1518.2L362.3 1510.6L354.1 1520L358.3 1528.4L349.1 1538L345.6 1528.8L336.9 1537L339.6 1546.9L329.8 1555L328 1544.5L318.9 1551.2L320 1562.4L310 1568.9L309.8 1557.2L300.6 1562.3L300.1 1574.5L290.2 1579.1L291.5 1566.6L282.5 1570.1L280.4 1582.9L270.7 1585.6L273.6 1572.6L265 1574.2L261.3 1587.3L252.1 1588.1L256.5 1574.9L248.4 1574.6L243.3 1587.8L234.9 1586.5L240.7 1573.4L233.4 1571.4L226.9 1584.3L219.4 1581L226.5 1568.4L220.1 1564.5L212.5 1576.8L206.1 1571.6L214.3 1559.7L209 1554.2L200.4 1565.6L195.3 1558.6L204.3 1547.8L200.2 1540.6L190.9 1550.8L187.2 1542.3L196.8 1532.8L194.1 1524.2L184.2 1533L182 1523.1L192.1 1515.1L190.8 1505.4L180.6 1512.5L180 1501.4L190.2 1495.2L190.3 1484.6L180.1 1489.9L181 1477.9L191.2 1473.6L192.7 1462.2L182.7 1465.6L185.1 1453L195 1450.7L197.9 1439L188.3 1440.3L192.3 1427.4L201.5 1427.2L205.8 1415.4L196.9 1414.6L202.2 1401.8L210.7 1403.6L216.1 1392L208.2 1389.1L214.7 1376.7L222.2 1380.6L228.7 1369.4L221.9 1364.6L229.5 1352.8L235.8 1358.6L243.2 1348.2L237.7 1341.5L246.2 1330.6L251.1 1338.2L259.3 1328.8L255.1 1320.4L264.4 1310.8L267.8 1320L276.6 1311.8L273.9 1301.9L283.6 1293.8L285.5 1304.3L294.5 1297.6L293.5 1286.4L303.4 1279.9L303.7 1291.6L312.8 1286.5L313.4 1274.3L323.3 1269.7L321.9 1282.2L331 1278.7L333.1 1265.9L342.7 1263.2L339.8 1276.2L348.5 1274.6L352.2 1261.5L361.3 1260.7L356.9 1273.9L365 1274.2L370.1 1261L378.6 1262.3L372.8 1275.4L380.1 1277.4L386.5 1264.5L394 1267.8L387 1280.4L393.4 1284.3Z" fill="#fff" fill-rule="evenodd"/>
<path d="M414.5 1244.1A210 121.2 -60 0 1 347.9 1569.4A210 121.2 -60 0 1 166.1 1464.4A210 121.2 -60 0 1 414.5 1244.1ZM403.7 1273.6L410.1 1278.8L402 1290.7L407.3 1296.2L415.9 1284.8L420.9 1291.8L411.9 1302.6L416 1309.8L425.3 1299.6L429 1308.1L419.4 1317.6L422.1 1326.2L432 1317.4L434.2 1327.3L424.1 1335.3L425.4 1345L435.6 1337.9L436.3 1349L426 1355.2L425.9 1365.8L436.1 1360.5L435.2 1372.5L425.1 1376.8L423.5 1388.2L433.5 1384.8L431.1 1397.4L421.3 1399.7L418.3 1411.4L427.9 1410.1L424 1423L414.7 1423.2L410.4 1435L419.3 1435.8L414 1448.6L405.6 1446.8L400.1 1458.4L408.1 1461.3L401.5 1473.7L394.1 1469.8L387.5 1481L394.4 1485.8L386.7 1497.6L380.5 1491.8L373 1502.2L378.6 1508.9L370 1519.8L365.1 1512.2L356.9 1521.6L361.1 1530L351.8 1539.6L348.4 1530.4L339.7 1538.6L342.3 1548.5L332.6 1556.6L330.7 1546.1L321.7 1552.8L322.8 1564L312.8 1570.5L312.6 1558.8L303.4 1563.9L302.9 1576.1L292.9 1580.7L294.3 1568.2L285.3 1571.7L283.1 1584.5L273.5 1587.2L276.4 1574.2L267.7 1575.8L264.1 1588.9L254.9 1589.7L259.3 1576.5L251.2 1576.2L246.1 1589.4L237.7 1588.1L243.5 1575L236.1 1573L229.7 1585.9L222.2 1582.6L229.3 1570L222.9 1566.1L215.3 1578.4L208.9 1573.2L217 1561.3L211.7 1555.8L203.1 1567.2L198.1 1560.2L207.1 1549.4L203 1542.2L193.7 1552.4L190 1543.9L199.6 1534.4L196.9 1525.8L187 1534.6L184.8 1524.7L194.9 1516.7L193.6 1507L183.4 1514.1L182.7 1503L193 1496.8L193.1 1486.2L182.9 1491.5L183.8 1479.5L193.9 1475.2L195.5 1463.8L185.5 1467.2L187.9 1454.6L197.7 1452.3L200.7 1440.6L191.1 1441.9L195 1429L204.3 1428.8L208.6 1417L199.7 1416.2L205 1403.4L213.4 1405.2L218.9 1393.6L210.9 1390.7L217.5 1378.3L224.9 1382.2L231.5 1371L224.6 1366.2L232.3 1354.4L238.5 1360.2L246 1349.8L240.4 1343.1L249 1332.2L253.9 1339.8L262.1 1330.4L257.9 1322L267.2 1312.4L270.6 1321.6L279.3 1313.4L276.7 1303.5L286.4 1295.4L288.3 1305.9L297.3 1299.2L296.2 1288L306.2 1281.5L306.4 1293.2L315.6 1288.1L316.1 1275.9L326.1 1271.3L324.7 1283.8L333.7 1280.3L335.9 1267.5L345.5 1264.8L342.6 1277.8L351.3 1276.2L354.9 1263.1L364.1 1262.3L359.7 1275.5L367.8 1275.8L372.9 1262.6L381.3 1263.9L375.5 1277L382.9 1279L389.3 1266.1L396.8 1269.4L389.7 1282L396.1 1285.9Z" fill="#fff" fill-rule="evenodd"/>
<path d="M397.1 1300.3L407.4 1295.8L417.5 1292.2L427.5 1289.5L437.3 1287.9L445 1265.9L459.6 1265.3L473.4 1266.9L465.1 1288.9L473.4 1291.2L481.2 1294.5L488.5 1298.8L495.2 1303.9L509.5 1285L518.7 1294.9L526.5 1306.6L511.9 1325.2L516 1333.7L519.4 1343.1L522.1 1353.1L524 1363.7L541 1352.8L542.4 1370.5L542.1 1389.3L525.1 1399.4L523.9 1412L521.9 1424.8L519.2 1437.9L515.8 1451.1L531 1451.3L524.2 1472.1L515.9 1492.8L501 1491.8L494.8 1505L488.1 1517.9L480.8 1530.5L472.9 1542.8L482.2 1554L469 1572.2L455 1589.4L446.2 1577.6L436.7 1587.8L426.9 1597.3L416.9 1606.1L406.8 1614.2L407.7 1633.3L391.7 1644.2L375.6 1653.2L375.3 1633.7L365 1638.2L354.9 1641.8L344.9 1644.5L335.2 1646.1L327.4 1668.1L312.8 1668.7L299 1667.1L307.3 1645.1L299 1642.8L291.2 1639.5L283.9 1635.2L277.2 1630.1L262.9 1649L253.7 1639.1L245.9 1627.4L260.5 1608.8L256.4 1600.3L253 1590.9L250.3 1580.9L248.4 1570.3L231.4 1581.2L230 1563.5L230.3 1544.7L247.3 1534.6L248.5 1522L250.5 1509.2L253.2 1496.1L256.6 1482.9L241.4 1482.7L248.2 1461.9L256.5 1441.2L271.4 1442.2L277.6 1429L284.3 1416.1L291.6 1403.5L299.5 1391.2L290.2 1380L303.4 1361.8L317.5 1344.6L326.2 1356.4L335.7 1346.2L345.5 1336.7L355.5 1327.9L365.6 1319.8L364.7 1300.7L380.8 1289.8L396.8 1280.8ZM469.2 1323.2A166 95.8 -60 0 1 416.6 1580.4A166 95.8 -60 0 1 272.8 1497.4A166 95.8 -60 0 1 469.2 1323.2Z" fill="#fff" fill-rule="evenodd"/>
<path d="M445 1265.9L452.8 1270.4M473.4 1266.9L481.2 1271.4M437.3 1287.9L445.1 1292.4M465.1 1288.9L472.9 1293.4M509.5 1285L517.3 1289.5M526.5 1306.6L534.3 1311.1M495.2 1303.9L503 1308.4M511.9 1325.2L519.7 1329.7M541 1352.8L548.8 1357.3M542.1 1389.3L549.9 1393.8M524 1363.7L531.8 1368.2M525.1 1399.4L532.9 1403.9M531 1451.3L538.8 1455.8M515.9 1492.8L523.7 1497.3M515.8 1451.1L523.6 1455.6M501 1491.8L508.8 1496.3M482.2 1554L490 1558.5M455 1589.4L462.7 1593.9M472.9 1542.8L480.7 1547.3M446.2 1577.6L454 1582.1M407.7 1633.3L415.5 1637.8M375.6 1653.2L383.4 1657.7M406.8 1614.2L414.6 1618.7M375.3 1633.7L383.1 1638.2M327.4 1668.1L335.2 1672.6M299 1667.1L306.8 1671.6M335.2 1646.1L342.9 1650.6M307.3 1645.1L315.1 1649.6M262.9 1649L270.7 1653.5M245.9 1627.4L253.7 1631.9M277.2 1630.1L285 1634.6M260.5 1608.8L268.3 1613.3M231.4 1581.2L239.2 1585.7M230.3 1544.7L238.1 1549.2M248.4 1570.3L256.2 1574.8M247.3 1534.6L255.1 1539.1M241.4 1482.7L249.2 1487.2M256.5 1441.2L264.3 1445.7M256.6 1482.9L264.4 1487.4M271.4 1442.2L279.2 1446.7M290.2 1380L298 1384.5M317.5 1344.6L325.3 1349.1M299.5 1391.2L307.3 1395.7M326.2 1356.4L334 1360.9M364.7 1300.7L372.5 1305.2M396.8 1280.8L404.6 1285.3M365.6 1319.8L373.4 1324.3M397.1 1300.3L404.9 1304.8"/>
<path d="M404.9 1304.8L415.2 1300.3L425.3 1296.7L435.3 1294L445.1 1292.4L452.8 1270.4L467.4 1269.8L481.2 1271.4L472.9 1293.4L481.2 1295.7L489 1299L496.3 1303.3L503 1308.4L517.3 1289.5L526.5 1299.4L534.3 1311.1L519.7 1329.7L523.8 1338.2L527.2 1347.6L529.9 1357.6L531.8 1368.2L548.8 1357.3L550.2 1375L549.9 1393.8L532.9 1403.9L531.7 1416.5L529.7 1429.3L527 1442.4L523.6 1455.6L538.8 1455.8L532 1476.6L523.7 1497.3L508.8 1496.3L502.6 1509.5L495.9 1522.4L488.6 1535L480.7 1547.3L490 1558.5L476.8 1576.7L462.7 1593.9L454 1582.1L444.5 1592.3L434.7 1601.8L424.7 1610.6L414.6 1618.7L415.5 1637.8L399.5 1648.7L383.4 1657.7L383.1 1638.2L372.8 1642.7L362.7 1646.3L352.7 1649L342.9 1650.6L335.2 1672.6L320.6 1673.2L306.8 1671.6L315.1 1649.6L306.8 1647.3L299 1644L291.7 1639.7L285 1634.6L270.7 1653.5L261.5 1643.6L253.7 1631.9L268.3 1613.3L264.2 1604.8L260.8 1595.4L258.1 1585.4L256.2 1574.8L239.2 1585.7L237.8 1568L238.1 1549.2L255.1 1539.1L256.3 1526.5L258.3 1513.7L261 1500.6L264.4 1487.4L249.2 1487.2L256 1466.4L264.3 1445.7L279.2 1446.7L285.4 1433.5L292.1 1420.6L299.4 1408L307.3 1395.7L298 1384.5L311.2 1366.3L325.3 1349.1L334 1360.9L343.5 1350.7L353.3 1341.2L363.3 1332.4L373.4 1324.3L372.5 1305.2L388.5 1294.3L404.6 1285.3ZM477 1327.7A166 95.8 -60 0 1 424.4 1584.9A166 95.8 -60 0 1 280.6 1501.9A166 95.8 -60 0 1 477 1327.7Z" fill="#fff" fill-rule="evenodd"/>
<path d="M457.2 1316L468.1 1295.4M473.2 1312.8L482.5 1299.4M481.7 1324.8L492.3 1311.4M495.8 1327.3L506.6 1316.1M500.3 1343.5L515.9 1328.5M511.5 1351.6L523.1 1343.3M511.6 1371L523.9 1363.8M519.2 1384L530.7 1379.3M514.9 1405.4L531 1399.8M518.3 1422.5L529 1421.6M509.9 1444.2L520.6 1445.1M509 1464.2L518.1 1467.3M497.1 1484.9L509.4 1490.4M491.8 1506.5L498.8 1513.2M477.2 1524.7L483.5 1533.4M468 1546.4L472.3 1556.4M451.7 1560.9L456.9 1575.9M439.1 1581.1L440.5 1593.7M422.2 1591L422.3 1605.1M407.2 1608.4L405.5 1622.7M390.8 1612.9L387.5 1633.5M374.3 1626.4L369.7 1641.4M359.7 1625.2L353.6 1641.1M342.8 1633.8L335.6 1648.5M330.8 1627L319.9 1647.6M314.8 1630.2L305.5 1643.6M306.3 1618.2L295.7 1631.6M292.2 1615.7L281.4 1626.9M287.7 1599.5L272.1 1614.5M276.5 1591.4L264.9 1599.7M276.4 1572L264.1 1579.2M268.8 1559L257.3 1563.7M273.1 1537.6L257 1543.2M269.7 1520.5L259 1521.4M278.1 1498.8L267.4 1497.9M279 1478.8L269.9 1475.7M290.9 1458.1L278.6 1452.6M296.2 1436.5L289.2 1429.8M310.8 1418.3L304.5 1409.6M320 1396.6L315.7 1386.6M336.3 1382.1L331.1 1367.1M348.9 1361.9L347.5 1349.3M365.8 1352L365.7 1337.9M380.8 1334.6L382.5 1320.3M397.2 1330.1L400.5 1309.5M413.7 1316.6L418.3 1301.6M428.3 1317.8L434.4 1301.9M445.2 1309.2L452.4 1294.5" stroke-width="2.5"/>
<path d="M451 1337.2 l9 -7 l3 9 l-10 6 l2 9 l9 -4 m-12 -24 l6 5"/>
<path d="M575.3 1335.6A210 121.2 -60 0 1 508.7 1660.9A210 121.2 -60 0 1 326.9 1555.9A210 121.2 -60 0 1 575.3 1335.6ZM567 1366.5L573.3 1371.7L565.2 1383.6L570.5 1389.1L579.1 1377.7L584.2 1384.7L575.2 1395.5L579.2 1402.7L588.6 1392.5L592.3 1401L582.6 1410.5L585.3 1419.1L595.2 1410.3L597.4 1420.2L587.3 1428.2L588.7 1437.9L598.8 1430.8L599.5 1441.9L589.3 1448.1L589.1 1458.7L599.4 1453.4L598.5 1465.4L588.3 1469.7L586.7 1481.1L596.8 1477.7L594.3 1490.3L584.5 1492.6L581.6 1504.3L591.1 1503L587.2 1515.9L577.9 1516.1L573.7 1527.9L582.6 1528.7L577.2 1541.5L568.8 1539.7L563.3 1551.3L571.3 1554.2L564.7 1566.6L557.3 1562.7L550.7 1573.9L557.6 1578.7L549.9 1590.5L543.7 1584.7L536.2 1595.1L541.8 1601.8L533.2 1612.7L528.3 1605.1L520.1 1614.5L524.3 1622.9L515.1 1632.5L511.6 1623.3L502.9 1631.5L505.6 1641.4L495.8 1649.5L494 1639L484.9 1645.7L486 1656.9L476 1663.4L475.8 1651.7L466.6 1656.8L466.1 1669L456.2 1673.6L457.5 1661.1L448.5 1664.6L446.4 1677.4L436.7 1680.1L439.6 1667.1L431 1668.7L427.3 1681.8L418.1 1682.6L422.5 1669.4L414.4 1669.1L409.3 1682.3L400.9 1681L406.7 1667.9L399.4 1665.9L392.9 1678.8L385.4 1675.5L392.5 1662.9L386.1 1659L378.5 1671.3L372.1 1666.1L380.3 1654.2L375 1648.7L366.4 1660.1L361.3 1653.1L370.3 1642.3L366.2 1635.1L356.9 1645.3L353.2 1636.8L362.8 1627.3L360.1 1618.7L350.2 1627.5L348 1617.6L358.1 1609.6L356.8 1599.9L346.6 1607L346 1595.9L356.2 1589.7L356.3 1579.1L346.1 1584.4L347 1572.4L357.2 1568.1L358.7 1556.7L348.7 1560.1L351.1 1547.5L361 1545.2L363.9 1533.5L354.3 1534.8L358.3 1521.9L367.5 1521.7L371.8 1509.9L362.9 1509.1L368.2 1496.3L376.7 1498.1L382.1 1486.5L374.2 1483.6L380.7 1471.2L388.2 1475.1L394.7 1463.9L387.9 1459.1L395.5 1447.3L401.8 1453.1L409.2 1442.7L403.7 1436L412.2 1425.1L417.1 1432.7L425.3 1423.3L421.1 1414.9L430.4 1405.3L433.8 1414.5L442.6 1406.3L439.9 1396.4L449.6 1388.3L451.5 1398.8L460.5 1392.1L459.5 1380.9L469.4 1374.4L469.7 1386.1L478.8 1381L479.4 1368.8L489.3 1364.2L487.9 1376.7L497 1373.2L499.1 1360.4L508.7 1357.7L505.8 1370.7L514.5 1369.1L518.2 1356L527.3 1355.2L522.9 1368.4L531 1368.7L536.1 1355.5L544.6 1356.8L538.8 1369.9L546.1 1371.9L552.5 1359L560 1362.3L553 1374.9L559.4 1378.8Z" fill="#fff" fill-rule="evenodd"/>
<path d="M580.5 1338.6A210 121.2 -60 0 1 513.9 1663.9A210 121.2 -60 0 1 332.1 1558.9A210 121.2 -60 0 1 580.5 1338.6ZM569.7 1368.1L576.1 1373.3L568 1385.2L573.3 1390.7L581.9 1379.3L586.9 1386.3L577.9 1397.1L582 1404.3L591.3 1394.1L595 1402.6L585.4 1412.1L588.1 1420.7L598 1411.9L600.2 1421.8L590.1 1429.8L591.4 1439.5L601.6 1432.4L602.3 1443.5L592 1449.7L591.9 1460.3L602.1 1455L601.2 1467L591.1 1471.3L589.5 1482.7L599.5 1479.3L597.1 1491.9L587.3 1494.2L584.3 1505.9L593.9 1504.6L590 1517.5L580.7 1517.7L576.4 1529.5L585.3 1530.3L580 1543.1L571.6 1541.3L566.1 1552.9L574.1 1555.8L567.5 1568.2L560.1 1564.3L553.5 1575.5L560.4 1580.3L552.7 1592.1L546.5 1586.3L539 1596.7L544.6 1603.4L536 1614.3L531.1 1606.7L522.9 1616.1L527.1 1624.5L517.8 1634.1L514.4 1624.9L505.7 1633.1L508.3 1643L498.6 1651.1L496.7 1640.6L487.7 1647.3L488.8 1658.5L478.8 1665L478.6 1653.3L469.4 1658.4L468.9 1670.6L458.9 1675.2L460.3 1662.7L451.3 1666.2L449.1 1679L439.5 1681.7L442.4 1668.7L433.7 1670.3L430.1 1683.4L420.9 1684.2L425.3 1671L417.2 1670.7L412.1 1683.9L403.7 1682.6L409.5 1669.5L402.1 1667.5L395.7 1680.4L388.2 1677.1L395.3 1664.5L388.9 1660.6L381.3 1672.9L374.9 1667.7L383 1655.8L377.7 1650.3L369.1 1661.7L364.1 1654.7L373.1 1643.9L369 1636.7L359.7 1646.9L356 1638.4L365.6 1628.9L362.9 1620.3L353 1629.1L350.8 1619.2L360.9 1611.2L359.6 1601.5L349.4 1608.6L348.7 1597.5L359 1591.3L359.1 1580.7L348.9 1586L349.8 1574L359.9 1569.7L361.5 1558.3L351.5 1561.7L353.9 1549.1L363.7 1546.8L366.7 1535.1L357.1 1536.4L361 1523.5L370.3 1523.3L374.6 1511.5L365.7 1510.7L371 1497.9L379.4 1499.7L384.9 1488.1L376.9 1485.2L383.5 1472.8L390.9 1476.7L397.5 1465.5L390.6 1460.7L398.3 1448.9L404.5 1454.7L412 1444.3L406.4 1437.6L415 1426.7L419.9 1434.3L428.1 1424.9L423.9 1416.5L433.2 1406.9L436.6 1416.1L445.3 1407.9L442.7 1398L452.4 1389.9L454.3 1400.4L463.3 1393.7L462.2 1382.5L472.2 1376L472.4 1387.7L481.6 1382.6L482.1 1370.4L492.1 1365.8L490.7 1378.3L499.7 1374.8L501.9 1362L511.5 1359.3L508.6 1372.3L517.3 1370.7L520.9 1357.6L530.1 1356.8L525.7 1370L533.8 1370.3L538.9 1357.1L547.3 1358.4L541.5 1371.5L548.9 1373.5L555.3 1360.6L562.8 1363.9L555.7 1376.5L562.1 1380.4Z" fill="#fff" fill-rule="evenodd"/>
<path d="M564.1 1395.8L574.4 1391.3L584.5 1387.7L594.5 1385L604.3 1383.4L612 1361.4L626.6 1360.8L640.4 1362.4L632.1 1384.4L640.4 1386.7L648.2 1390L655.5 1394.3L662.2 1399.4L676.5 1380.5L685.7 1390.4L693.5 1402.1L678.9 1420.7L683 1429.2L686.4 1438.6L689.1 1448.6L691 1459.2L708 1448.3L709.4 1466L709.1 1484.8L692.1 1494.9L690.9 1507.5L688.9 1520.3L686.2 1533.4L682.8 1546.6L698 1546.8L691.2 1567.6L682.9 1588.3L668 1587.3L661.8 1600.5L655.1 1613.4L647.8 1626L639.9 1638.3L649.2 1649.5L636 1667.7L622 1684.9L613.2 1673.1L603.7 1683.3L593.9 1692.8L583.9 1701.6L573.8 1709.7L574.7 1728.8L558.7 1739.7L542.6 1748.7L542.3 1729.2L532 1733.7L521.9 1737.3L511.9 1740L502.2 1741.6L494.4 1763.6L479.8 1764.2L466 1762.6L474.3 1740.6L466 1738.3L458.2 1735L450.9 1730.7L444.2 1725.6L429.9 1744.5L420.7 1734.6L412.9 1722.9L427.5 1704.3L423.4 1695.8L420 1686.4L417.3 1676.4L415.4 1665.8L398.4 1676.7L397 1659L397.3 1640.2L414.3 1630.1L415.5 1617.5L417.5 1604.7L420.2 1591.6L423.6 1578.4L408.4 1578.2L415.2 1557.4L423.5 1536.7L438.4 1537.7L444.6 1524.5L451.3 1511.6L458.6 1499L466.5 1486.7L457.2 1475.5L470.4 1457.3L484.5 1440.1L493.2 1451.9L502.7 1441.7L512.5 1432.2L522.5 1423.4L532.6 1415.3L531.7 1396.2L547.8 1385.3L563.8 1376.3ZM636.2 1418.7A166 95.8 -60 0 1 583.6 1675.9A166 95.8 -60 0 1 439.8 1592.9A166 95.8 -60 0 1 636.2 1418.7Z" fill="#fff" fill-rule="evenodd"/>
<path d="M612 1361.4L619.8 1365.9M640.4 1362.4L648.2 1366.9M604.3 1383.4L612.1 1387.9M632.1 1384.4L639.9 1388.9M676.5 1380.5L684.3 1385M693.5 1402.1L701.3 1406.6M662.2 1399.4L670 1403.9M678.9 1420.7L686.7 1425.2M708 1448.3L715.8 1452.8M709.1 1484.8L716.9 1489.3M691 1459.2L698.8 1463.7M692.1 1494.9L699.9 1499.4M698 1546.8L705.8 1551.3M682.9 1588.3L690.7 1592.8M682.8 1546.6L690.6 1551.1M668 1587.3L675.8 1591.8M649.2 1649.5L657 1654M622 1684.9L629.7 1689.4M639.9 1638.3L647.7 1642.8M613.2 1673.1L621 1677.6M574.7 1728.8L582.5 1733.3M542.6 1748.7L550.4 1753.2M573.8 1709.7L581.6 1714.2M542.3 1729.2L550.1 1733.7M494.4 1763.6L502.2 1768.1M466 1762.6L473.8 1767.1M502.2 1741.6L509.9 1746.1M474.3 1740.6L482.1 1745.1M429.9 1744.5L437.7 1749M412.9 1722.9L420.7 1727.4M444.2 1725.6L452 1730.1M427.5 1704.3L435.3 1708.8M398.4 1676.7L406.2 1681.2M397.3 1640.2L405.1 1644.7M415.4 1665.8L423.2 1670.3M414.3 1630.1L422.1 1634.6M408.4 1578.2L416.2 1582.7M423.5 1536.7L431.3 1541.2M423.6 1578.4L431.4 1582.9M438.4 1537.7L446.2 1542.2M457.2 1475.5L465 1480M484.5 1440.1L492.3 1444.6M466.5 1486.7L474.3 1491.2M493.2 1451.9L501 1456.4M531.7 1396.2L539.5 1400.7M563.8 1376.3L571.6 1380.8M532.6 1415.3L540.4 1419.8M564.1 1395.8L571.9 1400.3"/>
<path d="M571.9 1400.3L582.2 1395.8L592.3 1392.2L602.3 1389.5L612.1 1387.9L619.8 1365.9L634.4 1365.3L648.2 1366.9L639.9 1388.9L648.2 1391.2L656 1394.5L663.3 1398.8L670 1403.9L684.3 1385L693.5 1394.9L701.3 1406.6L686.7 1425.2L690.8 1433.7L694.2 1443.1L696.9 1453.1L698.8 1463.7L715.8 1452.8L717.2 1470.5L716.9 1489.3L699.9 1499.4L698.7 1512L696.7 1524.8L694 1537.9L690.6 1551.1L705.8 1551.3L699 1572.1L690.7 1592.8L675.8 1591.8L669.6 1605L662.9 1617.9L655.6 1630.5L647.7 1642.8L657 1654L643.8 1672.2L629.7 1689.4L621 1677.6L611.5 1687.8L601.7 1697.3L591.7 1706.1L581.6 1714.2L582.5 1733.3L566.5 1744.2L550.4 1753.2L550.1 1733.7L539.8 1738.2L529.7 1741.8L519.7 1744.5L509.9 1746.1L502.2 1768.1L487.6 1768.7L473.8 1767.1L482.1 1745.1L473.8 1742.8L466 1739.5L458.7 1735.2L452 1730.1L437.7 1749L428.5 1739.1L420.7 1727.4L435.3 1708.8L431.2 1700.3L427.8 1690.9L425.1 1680.9L423.2 1670.3L406.2 1681.2L404.8 1663.5L405.1 1644.7L422.1 1634.6L423.3 1622L425.3 1609.2L428 1596.1L431.4 1582.9L416.2 1582.7L423 1561.9L431.3 1541.2L446.2 1542.2L452.4 1529L459.1 1516.1L466.4 1503.5L474.3 1491.2L465 1480L478.2 1461.8L492.3 1444.6L501 1456.4L510.5 1446.2L520.3 1436.7L530.3 1427.9L540.4 1419.8L539.5 1400.7L555.5 1389.8L571.6 1380.8ZM644 1423.2A166 95.8 -60 0 1 591.4 1680.4A166 95.8 -60 0 1 447.6 1597.4A166 95.8 -60 0 1 644 1423.2Z" fill="#fff" fill-rule="evenodd"/>
<path d="M624.2 1411.5L635.1 1390.9M640.2 1408.3L649.5 1394.9M648.7 1420.3L659.3 1406.9M662.8 1422.8L673.6 1411.6M667.3 1439L682.9 1424M678.5 1447.1L690.1 1438.8M678.6 1466.5L690.9 1459.3M686.2 1479.5L697.7 1474.8M681.9 1500.9L698 1495.3M685.3 1518L696 1517.1M676.9 1539.7L687.6 1540.6M676 1559.7L685.1 1562.8M664.1 1580.4L676.4 1585.9M658.8 1602L665.8 1608.7M644.2 1620.2L650.5 1628.9M635 1641.9L639.3 1651.9M618.7 1656.4L623.9 1671.4M606.1 1676.6L607.5 1689.2M589.2 1686.5L589.3 1700.6M574.2 1703.9L572.5 1718.2M557.8 1708.4L554.5 1729M541.3 1721.9L536.7 1736.9M526.7 1720.7L520.6 1736.6M509.8 1729.3L502.6 1744M497.8 1722.5L486.9 1743.1M481.8 1725.7L472.5 1739.1M473.3 1713.7L462.7 1727.1M459.2 1711.2L448.4 1722.4M454.7 1695L439.1 1710M443.5 1686.9L431.9 1695.2M443.4 1667.5L431.1 1674.7M435.8 1654.5L424.3 1659.2M440.1 1633.1L424 1638.7M436.7 1616L426 1616.9M445.1 1594.3L434.4 1593.4M446 1574.3L436.9 1571.2M457.9 1553.6L445.6 1548.1M463.2 1532L456.2 1525.3M477.8 1513.8L471.5 1505.1M487 1492.1L482.7 1482.1M503.3 1477.6L498.1 1462.6M515.9 1457.4L514.5 1444.8M532.8 1447.5L532.7 1433.4M547.8 1430.1L549.5 1415.8M564.2 1425.6L567.5 1405M580.7 1412.1L585.3 1397.1M595.3 1413.3L601.4 1397.4M612.2 1404.7L619.4 1390" stroke-width="2.5"/>
<path d="M618 1432.7 l9 -7 l3 9 l-10 6 l2 9 l9 -4 m-12 -24 l6 5"/>
<path d="M754.5 1451.1A194 112 -60 0 1 693 1751.6A194 112 -60 0 1 525 1654.6A194 112 -60 0 1 754.5 1451.1ZM741.5 1473.6A168 97 -60 0 1 688.2 1733.8A168 97 -60 0 1 542.7 1649.8A168 97 -60 0 1 741.5 1473.6Z" fill="#fff" fill-rule="evenodd"/>
<path d="M758.8 1453.6A194 112 -60 0 1 697.3 1754.1A194 112 -60 0 1 529.3 1657.1A194 112 -60 0 1 758.8 1453.6ZM745.8 1476.1A168 97 -60 0 1 692.5 1736.3A168 97 -60 0 1 547.1 1652.3A168 97 -60 0 1 745.8 1476.1Z" fill="#fff" fill-rule="evenodd"/>
<path d="M861.2 1515.9A194 112 -60 0 1 799.7 1816.4A194 112 -60 0 1 631.7 1719.4A194 112 -60 0 1 861.2 1515.9ZM849.2 1536.7A170 98.1 -60 0 1 795.3 1800A170 98.1 -60 0 1 648.1 1715A170 98.1 -60 0 1 849.2 1536.7Z" fill="#fff" fill-rule="evenodd"/>
<path d="M865.5 1518.4A194 112 -60 0 1 804 1818.9A194 112 -60 0 1 636 1721.9A194 112 -60 0 1 865.5 1518.4ZM853.5 1539.2A170 98.1 -60 0 1 799.6 1802.5A170 98.1 -60 0 1 652.4 1717.5A170 98.1 -60 0 1 853.5 1539.2Z" fill="#fff" fill-rule="evenodd"/>
<path d="M1973.7 922.4A231 133.4 -60 0 1 1900.5 1280.3A231 133.4 -60 0 1 1700.4 1164.8A231 133.4 -60 0 1 1973.7 922.4ZM1966.9 957.8L1973.9 963.5L1965 976.5L1970.8 982.7L1980.2 970.1L1985.8 977.8L1975.9 989.7L1980.4 997.5L1990.7 986.3L1994.7 995.7L1984.1 1006.2L1987.1 1015.6L1998 1005.9L2000.4 1016.9L1989.3 1025.6L1990.7 1036.3L2002 1028.5L2002.7 1040.7L1991.4 1047.5L1991.3 1059.2L2002.5 1053.4L2001.5 1066.6L1990.4 1071.3L1988.6 1083.8L1999.7 1080.1L1997 1093.9L1986.2 1096.5L1982.9 1109.3L1993.5 1107.9L1989.1 1122.1L1979 1122.3L1974.3 1135.3L1984 1136.2L1978.2 1150.3L1968.9 1148.3L1962.9 1161L1971.6 1164.2L1964.4 1177.9L1956.2 1173.6L1949 1185.9L1956.6 1191.2L1948.1 1204.2L1941.3 1197.8L1933.1 1209.3L1939.2 1216.6L1929.8 1228.5L1924.4 1220.2L1915.4 1230.5L1920 1239.8L1909.8 1250.4L1906 1240.3L1896.4 1249.3L1899.3 1260.1L1888.6 1269.1L1886.6 1257.5L1876.6 1264.9L1877.8 1277.2L1866.9 1284.3L1866.6 1271.5L1856.5 1277.1L1855.9 1290.5L1845 1295.6L1846.5 1281.9L1836.6 1285.6L1834.2 1299.7L1823.6 1302.7L1826.8 1288.4L1817.3 1290.2L1813.2 1304.6L1803.2 1305.5L1808 1290.9L1799.1 1290.6L1793.5 1305.2L1784.2 1303.8L1790.6 1289.4L1782.5 1287.1L1775.4 1301.3L1767.2 1297.7L1775 1283.8L1767.9 1279.5L1759.6 1293L1752.6 1287.3L1761.5 1274.3L1755.7 1268.1L1746.2 1280.7L1740.6 1273L1750.5 1261.1L1746.1 1253.3L1735.8 1264.5L1731.7 1255.1L1742.4 1244.6L1739.4 1235.2L1728.5 1244.9L1726.1 1233.9L1737.2 1225.2L1735.7 1214.5L1724.5 1222.3L1723.8 1210.1L1735 1203.3L1735.2 1191.6L1723.9 1197.4L1724.9 1184.2L1736.1 1179.5L1737.8 1167L1726.8 1170.7L1729.5 1156.9L1740.3 1154.3L1743.5 1141.5L1733 1142.9L1737.3 1128.7L1747.5 1128.5L1752.2 1115.5L1742.4 1114.6L1748.3 1100.5L1757.6 1102.5L1763.6 1089.8L1754.8 1086.6L1762 1072.9L1770.2 1077.2L1777.4 1064.9L1769.9 1059.6L1778.3 1046.6L1785.2 1053L1793.4 1041.5L1787.3 1034.2L1796.7 1022.3L1802 1030.6L1811.1 1020.3L1806.5 1011L1816.7 1000.4L1820.4 1010.5L1830 1001.5L1827.1 990.7L1837.8 981.7L1839.9 993.3L1849.8 985.9L1848.6 973.6L1859.6 966.5L1859.9 979.3L1869.9 973.7L1870.5 960.3L1881.4 955.2L1880 968.9L1889.9 965.2L1892.2 951.1L1902.8 948.1L1899.6 962.4L1909.2 960.6L1913.2 946.2L1923.3 945.3L1918.4 959.9L1927.3 960.2L1933 945.6L1942.2 947L1935.9 961.4L1943.9 963.7L1951 949.5L1959.2 953.1L1951.5 967L1958.5 971.3Z" fill="#fff" fill-rule="evenodd"/>
<path d="M1981.5 926.9A231 133.4 -60 0 1 1908.3 1284.8A231 133.4 -60 0 1 1708.2 1169.3A231 133.4 -60 0 1 1981.5 926.9ZM1969.7 959.4L1976.7 965.1L1967.7 978.1L1973.5 984.3L1983 971.7L1988.6 979.4L1978.7 991.3L1983.1 999.1L1993.4 987.9L1997.5 997.3L1986.9 1007.8L1989.9 1017.2L2000.7 1007.5L2003.2 1018.5L1992.1 1027.2L1993.5 1037.9L2004.7 1030.1L2005.4 1042.3L1994.2 1049.1L1994 1060.8L2005.3 1055L2004.3 1068.2L1993.1 1072.9L1991.4 1085.4L2002.4 1081.7L1999.7 1095.5L1988.9 1098.1L1985.7 1110.9L1996.2 1109.5L1991.9 1123.7L1981.7 1123.9L1977 1136.9L1986.8 1137.8L1981 1151.9L1971.7 1149.9L1965.6 1162.6L1974.4 1165.8L1967.2 1179.5L1959 1175.2L1951.8 1187.5L1959.3 1192.8L1950.9 1205.8L1944.1 1199.4L1935.8 1210.9L1942 1218.2L1932.6 1230.1L1927.2 1221.8L1918.2 1232.1L1922.7 1241.4L1912.6 1252L1908.8 1241.9L1899.2 1250.9L1902.1 1261.7L1891.4 1270.7L1889.4 1259.1L1879.4 1266.5L1880.6 1278.8L1869.7 1285.9L1869.4 1273.1L1859.3 1278.7L1858.7 1292.1L1847.8 1297.2L1849.3 1283.5L1839.3 1287.2L1837 1301.3L1826.4 1304.3L1829.6 1290L1820 1291.8L1816 1306.2L1805.9 1307.1L1810.8 1292.5L1801.9 1292.2L1796.3 1306.8L1787 1305.4L1793.4 1291L1785.3 1288.7L1778.2 1302.9L1770 1299.3L1777.7 1285.4L1770.7 1281.1L1762.3 1294.6L1755.3 1288.9L1764.3 1275.9L1758.5 1269.7L1749 1282.3L1743.4 1274.6L1753.3 1262.7L1748.9 1254.9L1738.6 1266.1L1734.5 1256.7L1745.1 1246.2L1742.1 1236.8L1731.3 1246.5L1728.8 1235.5L1739.9 1226.8L1738.5 1216.1L1727.3 1223.9L1726.6 1211.7L1737.8 1204.9L1738 1193.2L1726.7 1199L1727.7 1185.8L1738.9 1181.1L1740.6 1168.6L1729.6 1172.3L1732.3 1158.5L1743.1 1155.9L1746.3 1143.1L1735.8 1144.5L1740.1 1130.3L1750.3 1130.1L1755 1117.1L1745.2 1116.2L1751 1102.1L1760.3 1104.1L1766.4 1091.4L1757.6 1088.2L1764.8 1074.5L1773 1078.8L1780.2 1066.5L1772.7 1061.2L1781.1 1048.2L1787.9 1054.6L1796.2 1043.1L1790 1035.8L1799.4 1023.9L1804.8 1032.2L1813.8 1021.9L1809.3 1012.6L1819.4 1002L1823.2 1012.1L1832.8 1003.1L1829.9 992.3L1840.6 983.3L1842.6 994.9L1852.6 987.5L1851.4 975.2L1862.3 968.1L1862.6 980.9L1872.7 975.3L1873.3 961.9L1884.2 956.8L1882.7 970.5L1892.7 966.8L1895 952.7L1905.6 949.7L1902.4 964L1912 962.2L1916 947.8L1926.1 946.9L1921.2 961.5L1930.1 961.8L1935.7 947.2L1945 948.6L1938.6 963L1946.7 965.3L1953.8 951.1L1962 954.7L1954.3 968.6L1961.3 972.9Z" fill="#fff" fill-rule="evenodd"/>
<path d="M954.3 1586.3A178 102.8 -60 0 0 776.3 1689.1A178 102.8 -60 0 0 776.3 1894.7L869 1948.2A178 102.8 -60 0 0 1047 1845.4A178 102.8 -60 0 0 1047 1639.8Z" fill="#fff" stroke="none"/>
<path d="M789.6 1900.3L779.5 1896.4L784.8 1886.7L776.2 1881.4L770.3 1890.7L762.2 1883.4L768.6 1874.6L762.1 1866.2L755.3 1874.5L749.5 1864.2L756.6 1856.5L752.4 1845.6L745 1852.5L741.8 1839.6L749.4 1833.4L747.7 1820.3L739.9 1825.6L739.5 1810.6L747.3 1806.3L748.1 1791.6L740.4 1794.9L742.7 1778.6L750.3 1776.3L753.7 1760.6L746.3 1761.9L751.3 1744.9L758.3 1744.7L764.1 1728.7L757.4 1727.9L764.8 1711.1L771 1712.9L779 1697.4L773.3 1694.5L782.8 1678.5L787.9 1682.3L797.6 1667.9L793.1 1663.1L804.3 1648.6L808.1 1654.3L819.2 1641.6L816.2 1635.1L828.5 1622.8L830.8 1630L842.8 1619.7L841.3 1611.7L854.4 1602.1L855 1610.6L867.4 1603L867.5 1593.9L880.7 1587.4L879.7 1596.9L891.9 1592.3L893.6 1582.5L906.3 1579.4L903.8 1589.4L915.2 1588.1L918.5 1578.1L930.2 1578.5L926.2 1588.5L936.4 1590.6L941.1 1580.7L951.2 1584.6L945.9 1594.3L954.5 1599.6L960.3 1590.3L968.4 1597.6L962.1 1606.4L964.4 1609.1"/>
<path d="M789.6 1900.3L882.3 1953.8M779.5 1896.4L872.2 1949.9M784.8 1886.7L877.5 1940.2M770.3 1890.7L863 1944.2M762.2 1883.4L854.9 1936.9M768.6 1874.6L861.3 1928.1M755.3 1874.5L847.9 1928M749.5 1864.2L842.1 1917.7M756.6 1856.5L849.3 1910M745 1852.5L837.6 1906M741.8 1839.6L834.4 1893.1M749.4 1833.4L842.1 1886.9M739.9 1825.6L832.6 1879.1M739.5 1810.6L832.2 1864.1M747.3 1806.3L839.9 1859.8M740.4 1794.9L833.1 1848.4M742.7 1778.6L835.4 1832.1M750.3 1776.3L842.9 1829.8M746.3 1761.9L839 1815.4M751.3 1744.9L843.9 1798.4M758.3 1744.7L851 1798.2M757.4 1727.9L850.1 1781.4M764.8 1711.1L857.5 1764.6M771 1712.9L863.7 1766.4M773.3 1694.5L865.9 1748M782.8 1678.5L875.4 1732M787.9 1682.3L880.5 1735.8M793.1 1663.1L885.8 1716.6M804.3 1648.6L897 1702.1M808.1 1654.3L900.8 1707.8M816.2 1635.1L908.8 1688.6M828.5 1622.8L921.2 1676.3M830.8 1630L923.5 1683.5M841.3 1611.7L934 1665.2M854.4 1602.1L947 1655.6M855 1610.6L947.7 1664.1M867.5 1593.9L960.2 1647.4M880.7 1587.4L973.3 1640.9M879.7 1596.9L972.4 1650.4M893.6 1582.5L986.3 1636M906.3 1579.4L999 1632.9M903.8 1589.4L996.4 1642.9M918.5 1578.1L1011.2 1631.6M930.2 1578.5L1022.8 1632M926.2 1588.5L1018.8 1642M941.1 1580.7L1033.7 1634.2M951.2 1584.6L1043.8 1638.1M945.9 1594.3L1038.5 1647.8M960.3 1590.3L1053 1643.8M968.4 1597.6L1061.1 1651.1M962.1 1606.4L1054.7 1659.9"/>
<path d="M1063.8 1598.7A222 128.2 -60 0 1 993.4 1942.6A222 128.2 -60 0 1 801.2 1831.6A222 128.2 -60 0 1 1063.8 1598.7Z" fill="#fff"/>
<path d="M1069 1601.7A222 128.2 -60 0 1 998.6 1945.6A222 128.2 -60 0 1 806.4 1834.6A222 128.2 -60 0 1 1069 1601.7Z" fill="#fff"/>
<path d="M920.8 1655.3A203 117.2 -60 0 1 1082.3 1639.4M995.2 1932.7A203 117.2 -60 0 1 816.6 1904.4"/>
<path d="M1042.9 1662.9A156 90.1 -60 0 1 993.5 1904.5A156 90.1 -60 0 1 858.4 1826.5A156 90.1 -60 0 1 1042.9 1662.9Z" fill="#fff"/>
<path d="M913.2 1708.9A150 86.6 -60 0 1 1054.1 1686.7A150 86.6 -60 0 1 1002.8 1879.1"/>
<path d="M986.8 1728.5L1022.7 1661.9M998.5 1731.9L1034.5 1665.4M1017 1708.2A104 60 -60 0 1 1034.7 1746.3M1013.8 1764.7L1070.8 1743.3M1012 1782.5L1069 1761.3M1031 1783.5A104 60 -60 0 1 1003.6 1841.2M988.4 1832.2L1013.1 1879.3M975 1846.5L999.5 1893.9M975.5 1871.3A104 60 -60 0 1 930.4 1890.9M936.1 1863.5L907.2 1934.1M924.5 1860.1L895.3 1930.6M906 1883.8A104 60 -60 0 1 888.2 1845.7M909.1 1827.3L859 1852.7M910.9 1809.5L860.8 1834.7M891.9 1808.5A104 60 -60 0 1 919.3 1750.8M934.5 1759.8L916.8 1716.7M947.9 1745.5L930.4 1702.1M947.4 1720.7A104 60 -60 0 1 992.5 1701.1"/>
<path d="M997.5 1733.6A72 41.6 -60 0 1 974.6 1845.2A72 41.6 -60 0 1 912.3 1809.2A72 41.6 -60 0 1 997.5 1733.6ZM982.5 1759.6L986.6 1763.2L982.4 1768.7L984.8 1773.1L989.5 1768.5L991 1775.1L986.1 1778.6L986.1 1785L991 1782.8L989.5 1791.1L984.8 1792L982.4 1799.1L986.6 1799.7L982.5 1808.1L979 1806.1L974.6 1812.6L977.3 1815.9L971.3 1822.7L969.6 1818.3L964.2 1822.8L964.8 1828.2L958.1 1832L958.7 1826L953.3 1827.7L951.7 1834L945.7 1834.2L948.3 1827.8L944 1826.3L940.5 1832.4L936.3 1828.8L940.5 1823.3L938.1 1818.9L933.4 1823.5L932 1816.9L936.9 1813.4L936.9 1807L932 1809.2L933.4 1800.9L938.1 1800L940.5 1792.9L936.3 1792.3L940.5 1783.9L944 1785.9L948.3 1779.4L945.7 1776.1L951.7 1769.3L953.3 1773.7L958.7 1769.2L958.1 1763.8L964.8 1760L964.2 1766L969.6 1764.3L971.3 1758L977.3 1757.8L974.6 1764.2L979 1765.7Z" fill="#fff" fill-rule="evenodd"/>
<path d="M977.2 1763.8A38 21.9 -60 0 1 941.4 1825.7" stroke-width="2"/>
<path d="M987.5 1778.3L975.4 1771.3M986.7 1789.2L974.6 1782.2M982.9 1801L970.8 1794M976.5 1812.1L964.3 1805.1M968.2 1821.3L956.1 1814.3M959.2 1827.4L947.1 1820.4" stroke-width="1.8"/>
<path d="M1126.6 1802.4A75 43.3 -60 0 1 1102.9 1918.6A75 43.3 -60 0 1 1037.9 1881.1A75 43.3 -60 0 1 1126.6 1802.4ZM1108.1 1834.5A38 21.9 -60 0 1 1096.1 1893.4A38 21.9 -60 0 1 1063.2 1874.4A38 21.9 -60 0 1 1108.1 1834.5Z" fill="#fff" fill-rule="evenodd"/>
<path d="M1130.1 1804.4A75 43.3 -60 0 1 1106.3 1920.6A75 43.3 -60 0 1 1041.4 1883.1A75 43.3 -60 0 1 1130.1 1804.4ZM1111.6 1836.5A38 21.9 -60 0 1 1099.6 1895.4A38 21.9 -60 0 1 1066.6 1876.4A38 21.9 -60 0 1 1111.6 1836.5Z" fill="#fff" fill-rule="evenodd"/>
<path d="M1352.3 1741.5A235 135.7 -60 0 0 1117.3 1877.2A235 135.7 -60 0 0 1117.3 2148.5L1131.2 2156.5A235 135.7 -60 0 0 1366.2 2020.8A235 135.7 -60 0 0 1366.2 1749.5Z" fill="#fff" stroke="none"/>
<path d="M1135.3 2158.8L1128.1 2154.7L1121.4 2149.8L1115.1 2144.3L1109.3 2138L1109.3 2138L1105.3 2132.8L1101.7 2127.4L1098.3 2121.5L1084.4 2113.5L1079.1 2101.9L1074.8 2089.2L1071.6 2075.5L1085.5 2083.5L1084.8 2079.6L1084.2 2075.6L1083.7 2071.6L1083.7 2071.6L1083 2063.4L1082.6 2054.9L1082.5 2046.3L1068.6 2038.3L1069.4 2021.9L1071.3 2005L1074.4 1987.6L1088.2 1995.6L1089.2 1990.9L1090.3 1986.1L1091.5 1981.2L1091.5 1981.2L1094.2 1971.6L1097.1 1961.9L1100.3 1952.1L1086.5 1944.1L1093.2 1926.3L1100.9 1908.6L1109.6 1891.2L1123.4 1899.2L1125.9 1894.5L1128.5 1889.8L1131.2 1885.2L1131.2 1885.2L1136.6 1876L1142.3 1867L1148.2 1858.2L1134.3 1850.2L1145.7 1834.5L1157.6 1819.6L1170.1 1805.6L1184 1813.6L1187.5 1809.9L1191 1806.3L1194.6 1802.8L1194.6 1802.8L1201.7 1796L1209 1789.5L1216.4 1783.4L1202.5 1775.4L1216.2 1765.1L1230 1756L1243.8 1748.2L1257.6 1756.2L1261.4 1754.3L1265.2 1752.5L1268.9 1750.9L1268.9 1750.9L1276.4 1747.8L1283.8 1745.2L1291.1 1743L1277.2 1735L1290.4 1732.1L1303.3 1730.6L1315.6 1730.7L1329.5 1738.7L1332.7 1739L1336 1739.3L1339.2 1739.8L1339.2 1739.8L1347.5 1741.7L1355.5 1744.3L1363 1747.8L1370.2 1752"/>
<path d="M1366.2 1749.5A235 135.7 -60 0 1 1414.2 1840.7M1205.6 2163.2A235 135.7 -60 0 1 1131.2 2156.5"/>
<path d="M1374.3 1777.3A215 124.1 -60 0 0 1159.3 1901.4A215 124.1 -60 0 0 1159.3 2149.7L1276.3 2217.2A215 124.1 -60 0 0 1491.3 2093.1A215 124.1 -60 0 0 1491.3 1844.8Z" fill="#fff" stroke="none"/>
<path d="M1167.1 2153.6A215 124.1 -60 0 1 1159.3 1901.4A215 124.1 -60 0 1 1381.6 1782.1"/>
<path d="M1159.3 2149.7L1276.3 2217.2"/>
<path d="M1374.3 1777.3L1491.3 1844.8"/>
<path d="M1157.8 2148.8L1140.5 2134.1L1215.8 2177.6L1233.2 2192.3ZM1233.2 2192.3L1221.8 2174.1M1117.7 2083.7L1114.8 2053.7L1190.2 2097.2L1193 2127.2ZM1193 2127.2L1184.8 2110.5M1125.2 1981.5L1137.5 1945.9L1212.8 1989.4L1200.5 2025ZM1200.5 2025L1193.3 2012.4M1177 1873.7L1200.7 1843.7L1276 1887.2L1252.4 1917.2ZM1252.4 1917.2L1243.9 1910M1261 1791.5L1288.5 1777.2L1363.9 1820.7L1336.3 1835ZM1336.3 1835L1324.4 1832.9M1344.7 1767.8L1367 1773.6L1442.3 1817.1L1420 1811.3ZM1420 1811.3L1403.8 1812.1"/>
<path d="M1260.9 2215.2A221 127.6 -60 0 1 1413.8 1827.4M1265.1 2220A223 128.7 -60 0 1 1337.7 1875.7"/>
<path d="M1509.8 1812.8A252 145.5 -60 0 0 1257.8 1958.3A252 145.5 -60 0 0 1257.8 2249.2L1282 2263.2A252 145.5 -60 0 0 1534 2117.7A252 145.5 -60 0 0 1534 1826.8Z" fill="#fff" stroke="none"/>
<path d="M1210.1 2177.5A252 145.5 -60 0 1 1337.6 1858.9M1429.9 1805.6A252 145.5 -60 0 1 1533.2 1832.7"/>
<path d="M1337.6 2256.4A252 145.5 -60 0 1 1210.1 2177.5" stroke-dasharray="24 8"/>
<path d="M1315.6 1934L1314.1 1924.4L1318.5 1918.8L1325.8 1921L1327.6 1918.8L1326.9 1908.6L1331.5 1903.3L1338.3 1906.5L1340.3 1904.4L1340.3 1893.8L1345.1 1888.8L1351.4 1893L1353.3 1891L1354.1 1880L1359 1875.4L1364.8 1880.5L1366.8 1878.7L1368.3 1867.3L1373.4 1863.2L1378.5 1869.1L1380.5 1867.5L1382.8 1855.9L1387.9 1852.2L1392.4 1858.9L1394.5 1857.5L1397.4 1845.7L1402.6 1842.5L1406.4 1850L1408.5 1848.8L1412.2 1836.9L1417.3 1834.1L1420.4 1842.4L1422.5 1841.4L1426.9 1829.5L1432 1827.3L1434.3 1836.2L1436.4 1835.4L1441.4 1823.6L1446.5 1821.9L1448.1 1831.4L1450.1 1830.9L1455.8 1819.2L1460.7 1818L1461.6 1828.1L1463.5 1827.8L1469.8 1816.3L1474.6 1815.7L1474.7 1826.3L1476.6 1826.2L1483.4 1815L1488 1815L1487.3 1826L1489.2 1826L1496.5 1815.3L1500.9 1815.8L1499.4 1827.1L1501.2 1827.4L1508.9 1817.2L1513.1 1818.2L1510.9 1829.8M1314.1 1924.4L1289.8 1910.4M1318.5 1918.8L1294.2 1904.8M1325.8 1921L1308.5 1911M1326.9 1908.6L1302.6 1894.6M1331.5 1903.3L1307.3 1889.3M1338.3 1906.5L1321 1896.5M1340.3 1893.8L1316 1879.8M1345.1 1888.8L1320.8 1874.8M1351.4 1893L1334 1883M1354.1 1880L1329.9 1866M1359 1875.4L1334.8 1861.4M1364.8 1880.5L1347.4 1870.5M1368.3 1867.3L1344.1 1853.3M1373.4 1863.2L1349.1 1849.2M1378.5 1869.1L1361.1 1859.1M1382.8 1855.9L1358.5 1841.9M1387.9 1852.2L1363.7 1838.2M1392.4 1858.9L1375 1848.9M1397.4 1845.7L1373.2 1831.7M1402.6 1842.5L1378.4 1828.5M1406.4 1850L1389 1840M1412.2 1836.9L1387.9 1822.9M1417.3 1834.1L1393.1 1820.1M1420.4 1842.4L1403.1 1832.4M1426.9 1829.5L1402.6 1815.5M1432 1827.3L1407.7 1813.3M1434.3 1836.2L1417 1826.2M1441.4 1823.6L1417.2 1809.6M1446.5 1821.9L1422.2 1807.9M1448.1 1831.4L1430.8 1821.4M1455.8 1819.2L1431.5 1805.2M1460.7 1818L1436.5 1804M1461.6 1828.1L1444.2 1818.1M1469.8 1816.3L1445.5 1802.3M1474.6 1815.7L1450.4 1801.7M1474.7 1826.3L1457.3 1816.3M1483.4 1815L1459.1 1801M1488 1815L1463.8 1801M1487.3 1826L1470 1816M1496.5 1815.3L1472.2 1801.3M1500.9 1815.8L1476.6 1801.8M1499.4 1827.1L1482.1 1817.1M1508.9 1817.2L1484.7 1803.2M1513.1 1818.2L1488.9 1804.2M1510.9 1829.8L1493.6 1819.8"/>
<path d="M1505.3 2149.3L1506.6 2159.5L1503.5 2163.6L1495.3 2162.6L1493.5 2164.9L1494 2175.6L1490.7 2179.5L1483 2177.5L1481.1 2179.6L1480.8 2190.8L1477.4 2194.4L1470.2 2191.4L1468.2 2193.4L1467.1 2205L1463.6 2208.4L1456.9 2204.4L1454.9 2206.2L1453 2218.1L1449.4 2221.2L1443.4 2216.2L1441.3 2217.9L1438.6 2230L1435 2232.8L1429.5 2226.9L1427.4 2228.4L1424 2240.7L1420.3 2243.1L1415.6 2236.4L1413.5 2237.7L1409.3 2250L1405.6 2252.1L1401.5 2244.6L1399.4 2245.7L1394.6 2257.9L1390.9 2259.7L1387.6 2251.3L1385.5 2252.2L1380 2264.4L1376.3 2265.8L1373.7 2256.7L1371.6 2257.4L1365.5 2269.3L1362 2270.4L1360.1 2260.6L1358.1 2261.1L1351.4 2272.8L1347.9 2273.4L1346.8 2263.1L1344.9 2263.3L1337.6 2274.7L1334.3 2274.9L1334 2264.1L1332.1 2264.1L1324.3 2275L1321.1 2274.8L1321.6 2263.5L1319.8 2263.3L1311.6 2273.7L1308.6 2273.2L1309.8 2261.5L1308.1 2261.1L1299.6 2270.9L1296.7 2269.9L1298.7 2258"/>
<path d="M1528 1837.2A240 138.6 -60 0 1 1451.9 2208.9A240 138.6 -60 0 1 1244.1 2088.9A240 138.6 -60 0 1 1528 1837.2Z" fill="#fff" stroke="none"/>
<path d="M1511.8 1825.9A244 140.9 -60 0 1 1507 2151.1" stroke-dasharray="40 8 8 8"/>
<path d="M1313.1 1943.3A234 135.1 -60 0 1 1539.3 1852.9A234 135.1 -60 0 1 1514.4 2130M1308.4 2255.1A234 135.1 -60 0 1 1325.3 1927.3"/>
<path d="M1516 1857.9A216 124.7 -60 0 1 1447.5 2192.5A216 124.7 -60 0 1 1260.5 2084.5A216 124.7 -60 0 1 1516 1857.9Z" fill="#fff"/>
<path d="M1370.3 2229.2A206 118.9 -60 0 1 1370.3 1904.3"/>
<path d="M1506.2 1886.9A186 107.4 -60 0 1 1447.2 2175A186 107.4 -60 0 1 1286.2 2082A186 107.4 -60 0 1 1506.2 1886.9Z" stroke-width="2.1"/>
<path d="M1383.4 1954.5L1381.8 1915.3L1444.6 1879L1443 1920.1Z" fill="#fff"/>
<path d="M1383.4 1954.5Q1375.6 1935.1 1381.8 1915.3M1383.4 1954.5Q1370.9 1935.3 1381.8 1915.3M1391.9 1949.6Q1384.3 1930 1390.8 1910.1M1391.9 1949.6Q1379.5 1930.2 1390.8 1910.1M1400.4 1944.6Q1392.9 1924.9 1399.8 1904.9M1400.4 1944.6Q1388.2 1925 1399.8 1904.9M1408.9 1939.7Q1401.6 1919.8 1408.7 1899.7M1408.9 1939.7Q1396.8 1919.8 1408.7 1899.7M1417.4 1934.8Q1410.3 1914.7 1417.7 1894.6M1417.4 1934.8Q1405.5 1914.6 1417.7 1894.6M1426 1929.9Q1419 1909.5 1426.6 1889.4M1426 1929.9Q1414.1 1909.4 1426.6 1889.4M1434.5 1925Q1427.7 1904.4 1435.6 1884.2M1434.5 1925Q1422.8 1904.3 1435.6 1884.2M1443 1920.1Q1436.4 1899.3 1444.6 1879M1443 1920.1Q1431.5 1899.1 1444.6 1879" stroke-width="2"/>
<path d="M1481.4 1923.5L1510.7 1884.9L1542 1929.6L1511.1 1965.9Z" fill="#fff"/>
<path d="M1481.4 1923.5Q1489.1 1899 1510.7 1884.9M1481.4 1923.5Q1484.4 1895.4 1510.7 1884.9M1485.6 1929.6Q1493.5 1905.1 1515.1 1891.3M1485.6 1929.6Q1488.9 1901.6 1515.1 1891.3M1489.9 1935.6Q1497.9 1911.3 1519.6 1897.7M1489.9 1935.6Q1493.4 1907.7 1519.6 1897.7M1494.1 1941.7Q1502.3 1917.5 1524.1 1904.1M1494.1 1941.7Q1497.8 1913.9 1524.1 1904.1M1498.4 1947.7Q1506.8 1923.6 1528.6 1910.4M1498.4 1947.7Q1502.3 1920 1528.6 1910.4M1502.6 1953.8Q1511.2 1929.8 1533.1 1916.8M1502.6 1953.8Q1506.8 1926.2 1533.1 1916.8M1506.9 1959.8Q1515.6 1936 1537.5 1923.2M1506.9 1959.8Q1511.2 1932.3 1537.5 1923.2M1511.1 1965.9Q1520 1942.2 1542 1929.6M1511.1 1965.9Q1515.7 1938.5 1542 1929.6" stroke-width="2"/>
<path d="M1511.1 2017L1542 2017.7L1510.7 2098.5L1481.4 2093.8Z" fill="#fff"/>
<path d="M1511.1 2017Q1526.7 2011.8 1542 2017.7M1511.1 2017Q1526.8 2008.1 1542 2017.7M1506.9 2028Q1522.4 2023.1 1537.5 2029.2M1506.9 2028Q1522.6 2019.4 1537.5 2029.2M1502.6 2039Q1518.2 2034.4 1533.1 2040.8M1502.6 2039Q1518.4 2030.7 1533.1 2040.8M1498.4 2049.9Q1513.9 2045.7 1528.6 2052.3M1498.4 2049.9Q1514.2 2042.1 1528.6 2052.3M1494.1 2060.9Q1509.6 2057 1524.1 2063.9M1494.1 2060.9Q1510 2053.4 1524.1 2063.9M1489.9 2071.9Q1505.4 2068.3 1519.6 2075.4M1489.9 2071.9Q1505.8 2064.7 1519.6 2075.4M1485.6 2082.8Q1501.1 2079.6 1515.1 2087M1485.6 2082.8Q1501.6 2076 1515.1 2087M1481.4 2093.8Q1496.9 2090.9 1510.7 2098.5M1481.4 2093.8Q1497.4 2087.4 1510.7 2098.5" stroke-width="2"/>
<path d="M1443 2141.5L1444.6 2180.7L1381.8 2217L1383.4 2175.9Z" fill="#fff"/>
<path d="M1443 2141.5Q1450.8 2160.9 1444.6 2180.7M1443 2141.5Q1455.5 2160.7 1444.6 2180.7M1434.5 2146.4Q1442.1 2166 1435.6 2185.9M1434.5 2146.4Q1446.9 2165.8 1435.6 2185.9M1426 2151.4Q1433.4 2171.1 1426.6 2191.1M1426 2151.4Q1438.2 2171 1426.6 2191.1M1417.4 2156.3Q1424.8 2176.2 1417.7 2196.3M1417.4 2156.3Q1429.6 2176.2 1417.7 2196.3M1408.9 2161.2Q1416.1 2181.3 1408.7 2201.4M1408.9 2161.2Q1420.9 2181.4 1408.7 2201.4M1400.4 2166.1Q1407.4 2186.5 1399.8 2206.6M1400.4 2166.1Q1412.2 2186.6 1399.8 2206.6M1391.9 2171Q1398.7 2191.6 1390.8 2211.8M1391.9 2171Q1403.6 2191.7 1390.8 2211.8M1383.4 2175.9Q1390 2196.7 1381.8 2217M1383.4 2175.9Q1394.9 2196.9 1381.8 2217" stroke-width="2"/>
<path d="M1345 2172.5L1315.7 2211.1L1284.4 2166.4L1315.3 2130.1Z" fill="#fff"/>
<path d="M1345 2172.5Q1337.3 2197 1315.7 2211.1M1345 2172.5Q1342 2200.6 1315.7 2211.1M1340.8 2166.4Q1332.9 2190.9 1311.3 2204.7M1340.8 2166.4Q1337.5 2194.4 1311.3 2204.7M1336.5 2160.4Q1328.5 2184.7 1306.8 2198.3M1336.5 2160.4Q1333 2188.3 1306.8 2198.3M1332.3 2154.3Q1324.1 2178.5 1302.3 2191.9M1332.3 2154.3Q1328.6 2182.1 1302.3 2191.9M1328 2148.3Q1319.6 2172.4 1297.8 2185.6M1328 2148.3Q1324.1 2176 1297.8 2185.6M1323.8 2142.2Q1315.2 2166.2 1293.3 2179.2M1323.8 2142.2Q1319.6 2169.8 1293.3 2179.2M1319.5 2136.2Q1310.8 2160 1288.9 2172.8M1319.5 2136.2Q1315.2 2163.7 1288.9 2172.8M1315.3 2130.1Q1306.4 2153.8 1284.4 2166.4M1315.3 2130.1Q1310.7 2157.5 1284.4 2166.4" stroke-width="2"/>
<path d="M1315.3 2079L1284.4 2078.3L1315.7 1997.5L1345 2002.2Z" fill="#fff"/>
<path d="M1315.3 2079Q1299.7 2084.2 1284.4 2078.3M1315.3 2079Q1299.6 2087.9 1284.4 2078.3M1319.5 2068Q1304 2072.9 1288.9 2066.8M1319.5 2068Q1303.8 2076.6 1288.9 2066.8M1323.8 2057Q1308.2 2061.6 1293.3 2055.2M1323.8 2057Q1308 2065.3 1293.3 2055.2M1328 2046.1Q1312.5 2050.3 1297.8 2043.7M1328 2046.1Q1312.2 2053.9 1297.8 2043.7M1332.3 2035.1Q1316.8 2039 1302.3 2032.1M1332.3 2035.1Q1316.4 2042.6 1302.3 2032.1M1336.5 2024.1Q1321 2027.7 1306.8 2020.6M1336.5 2024.1Q1320.6 2031.3 1306.8 2020.6M1340.8 2013.2Q1325.3 2016.4 1311.3 2009M1340.8 2013.2Q1324.8 2020 1311.3 2009M1345 2002.2Q1329.5 2005.1 1315.7 1997.5M1345 2002.2Q1329 2008.6 1315.7 1997.5" stroke-width="2"/>
<path d="M1353.3 1936.7A20 11.5 -60 0 1 1346.9 1967.7A20 11.5 -60 0 1 1329.6 1957.7A20 11.5 -60 0 1 1353.3 1936.7Z" fill="#fff"/>
<path d="M1334.3 1964A14 8.1 -60 0 1 1345.8 1941.5" stroke-width="1.8"/>
<path d="M1558.9 1949.6A20 11.5 -60 0 1 1552.6 1980.6A20 11.5 -60 0 1 1535.3 1970.6A20 11.5 -60 0 1 1558.9 1949.6Z" fill="#fff"/>
<path d="M1540 1976.9A14 8.1 -60 0 1 1551.5 1954.4" stroke-width="1.8"/>
<path d="M1357.4 2205.8A20 11.5 -60 0 1 1351 2236.8A20 11.5 -60 0 1 1333.7 2226.8A20 11.5 -60 0 1 1357.4 2205.8Z" fill="#fff"/>
<path d="M1338.4 2233.1A14 8.1 -60 0 1 1349.9 2210.6" stroke-width="1.8"/>
<path d="M1473.7 1943.2A121 69.9 -60 0 1 1435.3 2130.6A121 69.9 -60 0 1 1330.6 2070.1A121 69.9 -60 0 1 1473.7 1943.2Z" fill="#fff"/>
<path d="M1392.7 1971.5A112 64.7 -60 0 1 1485 2045.2A112 64.7 -60 0 1 1341.4 2128.1"/>
<path d="M1473.3 1971.9A96 55.4 -60 0 1 1442.9 2120.6A96 55.4 -60 0 1 1359.8 2072.6A96 55.4 -60 0 1 1473.3 1971.9Z" fill="#fff"/>
<path d="M1447.6 2116.4A84 48.5 -60 0 1 1372.9 2093.3A84 48.5 -60 0 1 1447.6 1983.9" stroke-width="2.1"/>
<path d="M1449.5 2115.1A80 46.2 -60 0 1 1378.3 2093.2A80 46.2 -60 0 1 1449.5 1989" stroke-width="2.1"/>
<path d="M1451.4 2113.9A76 43.9 -60 0 1 1383.7 2093A76 43.9 -60 0 1 1451.4 1994" stroke-width="2.1"/>
<path d="M1453.2 2112.7A72 41.6 -60 0 1 1389.1 2092.9A72 41.6 -60 0 1 1453.2 1999.1" stroke-width="2.1"/>
<path d="M1467.2 1998.4A70 40.4 -60 0 0 1397.2 2038.8A70 40.4 -60 0 0 1397.2 2119.6L1407.6 2125.6A70 40.4 -60 0 0 1477.6 2085.2A70 40.4 -60 0 0 1477.6 2004.4Z" fill="#fff"/>
<path d="M1477.6 2004.4A70 40.4 -60 0 1 1455.5 2112.8A70 40.4 -60 0 1 1394.8 2077.8A70 40.4 -60 0 1 1477.6 2004.4Z" fill="#fff"/>
<path d="M1474.6 2009.6A64 37 -60 0 1 1454.4 2108.7A64 37 -60 0 1 1398.9 2076.7A64 37 -60 0 1 1474.6 2009.6ZM1446.2 2015.8A58 33.5 -60 0 1 1483 2049.9A58 33.5 -60 0 1 1432 2116.9"/>
<path d="M1573 2084.1A53 30.6 -60 0 0 1520 2114.7A53 30.6 -60 0 0 1520 2175.9L1607.5 2226.4A53 30.6 -60 0 0 1660.5 2195.8A53 30.6 -60 0 0 1660.5 2134.6Z" fill="#fff"/>
<path d="M1660.5 2134.6A53 30.6 -60 0 1 1643.7 2216.7A53 30.6 -60 0 1 1597.8 2190.2A53 30.6 -60 0 1 1660.5 2134.6Z" fill="#fff" fill-rule="evenodd"/>
<path d="M1625.8 2143.9A45 26 -60 0 1 1664.7 2147.3A45 26 -60 0 1 1642.2 2205.3" stroke-width="2.1"/>
<path d="M1731 2170A60 34.6 -60 0 0 1671 2204.7A60 34.6 -60 0 0 1671 2274L1738.5 2313A60 34.6 -60 0 0 1798.5 2278.3A60 34.6 -60 0 0 1798.5 2209Z" fill="#fff"/>
<path d="M1798.5 2209A60 34.6 -60 0 1 1779.5 2302A60 34.6 -60 0 1 1727.6 2272A60 34.6 -60 0 1 1798.5 2209ZM1794.5 2216A52 30 -60 0 1 1778.1 2296.5A52 30 -60 0 1 1733 2270.5A52 30 -60 0 1 1794.5 2216Z" fill="#fff" fill-rule="evenodd"/>
<path d="M1676.2 2277A60 34.6 -60 0 1 1676.2 2207.7A60 34.6 -60 0 1 1736.2 2173M1709.6 2295.2A60 34.6 -60 0 1 1703.9 2223.7A60 34.6 -60 0 1 1768.7 2192.8M1714.8 2298.2A60 34.6 -60 0 1 1709.1 2226.7A60 34.6 -60 0 1 1773.9 2195.8M1733.4 2310A60 34.6 -60 0 1 1733.4 2240.7A60 34.6 -60 0 1 1793.4 2206"/>
<path d="M1675.8 2276.4L1671.7 2271.7L1694.2 2284.7L1698.3 2289.4ZM1708.7 2295.4L1704.6 2290.7L1723.6 2301.7L1727.8 2306.4ZM1668.7 2265.6L1666.9 2258.4L1689.4 2271.4L1691.2 2278.6ZM1701.6 2284.6L1699.8 2277.4L1718.9 2288.4L1720.6 2295.6ZM1666.4 2250.1L1667.1 2241.2L1689.7 2254.2L1688.9 2263.1ZM1699.3 2269.1L1700.1 2260.2L1719.1 2271.2L1718.3 2280.1ZM1669.2 2231.8L1672.4 2222.3L1694.9 2235.3L1691.7 2244.8ZM1702.1 2250.8L1705.3 2241.3L1724.4 2252.3L1721.1 2261.8ZM1676.8 2212.8L1682.1 2203.8L1704.6 2216.8L1699.3 2225.8ZM1709.7 2231.8L1715 2222.8L1734.1 2233.8L1728.7 2242.8ZM1688.2 2195.5L1695 2188.2L1717.5 2201.2L1710.7 2208.5ZM1721.1 2214.5L1727.9 2207.2L1746.9 2218.2L1740.2 2225.5ZM1702.2 2181.9L1709.5 2177.1L1732.1 2190.1L1724.7 2194.9ZM1735.1 2200.9L1742.4 2196.1L1761.5 2207.1L1754.1 2211.9ZM1716.9 2173.7L1724 2172L1746.5 2185L1739.4 2186.7ZM1749.8 2192.7L1756.9 2191L1776 2202L1768.9 2203.7ZM1730.6 2171.9L1736.6 2173.5L1759.1 2186.5L1753.2 2184.9ZM1763.6 2190.9L1769.5 2192.5L1788.6 2203.5L1782.6 2201.9Z" stroke-width="2.1"/>
<path d="M1797.2 2221.5L1799.6 2226.9L1777.1 2213.9L1774.7 2208.5ZM1800.9 2233.3L1801.1 2240.4L1778.6 2227.4L1778.4 2220.3ZM1800.2 2248.1L1798.3 2256.1L1775.8 2243.1L1777.7 2235.1ZM1795.3 2264.2L1791.5 2272.2L1768.9 2259.2L1772.8 2251.2ZM1786.8 2279.7L1781.5 2286.7L1758.9 2273.7L1764.3 2266.7ZM1775.6 2292.7L1769.5 2297.8L1747 2284.8L1753.1 2279.7ZM1763.2 2301.7L1757 2304.3L1734.5 2291.3L1740.7 2288.7Z" stroke-width="1.8"/>
<path d="M1771.8 2207.5A51 29.4 -60 0 1 1721.1 2290.5" stroke-width="1.8"/>
<path d="M1897.4 2250A75 43.3 -60 0 1 1873.7 2366.2A75 43.3 -60 0 1 1808.7 2328.7A75 43.3 -60 0 1 1897.4 2250ZM1879.4 2281.2A39 22.5 -60 0 1 1867.1 2341.6A39 22.5 -60 0 1 1833.3 2322.1A39 22.5 -60 0 1 1879.4 2281.2Z" fill="#fff" fill-rule="evenodd"/>
<path d="M1900.9 2252A75 43.3 -60 0 1 1877.1 2368.2A75 43.3 -60 0 1 1812.2 2330.7A75 43.3 -60 0 1 1900.9 2252ZM1882.9 2283.2A39 22.5 -60 0 1 1870.5 2343.6A39 22.5 -60 0 1 1836.8 2324.1A39 22.5 -60 0 1 1882.9 2283.2Z" fill="#fff" fill-rule="evenodd"/>
<path d="M965.2 2435.4A40 23.1 -60 0 1 952.5 2497.3A40 23.1 -60 0 1 917.8 2477.3A40 23.1 -60 0 1 965.2 2435.4ZM962.2 2440.6A34 19.6 -60 0 1 951.4 2493.2A34 19.6 -60 0 1 921.9 2476.2A34 19.6 -60 0 1 962.2 2440.6Z" fill="#fff" fill-rule="evenodd"/>
<path d="M966.9 2436.4A40 23.1 -60 0 1 954.2 2498.3A40 23.1 -60 0 1 919.6 2478.3A40 23.1 -60 0 1 966.9 2436.4ZM963.9 2441.6A34 19.6 -60 0 1 953.1 2494.2A34 19.6 -60 0 1 923.7 2477.2A34 19.6 -60 0 1 963.9 2441.6Z" fill="#fff" fill-rule="evenodd"/>
<path d="M1015.6 2469.7A35 20.2 -60 0 0 980.6 2489.9A35 20.2 -60 0 0 980.6 2530.3L994.5 2538.3A35 20.2 -60 0 0 1029.5 2518.1A35 20.2 -60 0 0 1029.5 2477.7Z" fill="#fff"/>
<path d="M1029.5 2477.7A35 20.2 -60 0 1 1018.4 2531.9A35 20.2 -60 0 1 988.1 2514.4A35 20.2 -60 0 1 1029.5 2477.7ZM1021 2492.4A18 10.4 -60 0 1 1015.3 2520.3A18 10.4 -60 0 1 999.7 2511.3A18 10.4 -60 0 1 1021 2492.4Z" fill="#fff" fill-rule="evenodd"/>
<path d="M1025.5 2484.6A27 15.6 -60 0 1 1016.9 2526.4A27 15.6 -60 0 1 993.6 2512.9A27 15.6 -60 0 1 1025.5 2484.6ZM1023 2488.9A22 12.7 -60 0 1 1016 2523A22 12.7 -60 0 1 997 2512A22 12.7 -60 0 1 1023 2488.9Z"/>
<path d="M1053.8 2510.6A18 10.4 -60 0 0 1035.8 2521A18 10.4 -60 0 0 1035.8 2541.8L1081.3 2568A18 10.4 -60 0 0 1099.3 2557.6A18 10.4 -60 0 0 1099.3 2536.9Z" fill="#fff"/>
<path d="M1099.3 2536.9A18 10.4 -60 0 1 1093.6 2564.7A18 10.4 -60 0 1 1078 2555.7A18 10.4 -60 0 1 1099.3 2536.9Z" fill="#fff" fill-rule="evenodd"/>
<path d="M1246 2396.5L1246 2421.4A25.5 14.7 0 0 0 1297 2421.4L1297 2396.5A25.5 14.7 0 0 0 1246 2396.5Z" fill="#fff"/>
<path d="M1246 2396.5A25.5 14.7 0 1 1 1297 2396.5A25.5 14.7 0 1 1 1246 2396.5ZM1253.5 2396.5A18 10.4 0 1 1 1289.5 2396.5A18 10.4 0 1 1 1253.5 2396.5Z" fill="#fff" fill-rule="evenodd"/>
<path d="M1255.5 2390L1255.5 2403M1258.7 2390L1258.7 2403M1261.9 2390L1261.9 2403M1265.1 2390L1265.1 2403M1268.3 2390L1268.3 2403M1271.5 2390L1271.5 2403M1274.7 2390L1274.7 2403M1277.9 2390L1277.9 2403M1281.1 2390L1281.1 2403M1284.3 2390L1284.3 2403M1287.5 2390L1287.5 2403" stroke-width="1.7"/>
<path d="M1253.4 2770L1253.4 2777A17.5 10.1 0 0 0 1288.4 2777L1288.4 2770A17.5 10.1 0 0 0 1253.4 2770Z" fill="#fff"/>
<path d="M1254.9 2742L1254.9 2768A16 9.2 0 0 0 1286.9 2768L1286.9 2742A16 9.2 0 0 0 1254.9 2742Z" fill="#fff"/>
<path d="M1256.9 2748L1256.9 2762 M1256.9 2774L1256.9 2786M1260.4 2748L1260.4 2762 M1260.4 2774L1260.4 2786M1263.9 2748L1263.9 2762 M1263.9 2774L1263.9 2786M1267.4 2748L1267.4 2762 M1267.4 2774L1267.4 2786M1270.9 2748L1270.9 2762 M1270.9 2774L1270.9 2786M1274.4 2748L1274.4 2762 M1274.4 2774L1274.4 2786M1277.9 2748L1277.9 2762 M1277.9 2774L1277.9 2786M1281.4 2748L1281.4 2762 M1281.4 2774L1281.4 2786M1284.9 2748L1284.9 2762 M1284.9 2774L1284.9 2786" stroke-width="1.7"/>
<path d="M1251.9 2670L1251.9 2742A19 11 0 0 0 1289.9 2742L1289.9 2670A19 11 0 0 0 1251.9 2670Z" fill="#fff"/>
<path d="M1244.9 2648L1244.9 2662A26 15 0 0 0 1296.9 2662L1296.9 2648A26 15 0 0 0 1244.9 2648Z" fill="#fff"/>
<path d="M1244.9 2648A26 15 0 1 1 1296.9 2648A26 15 0 1 1 1244.9 2648Z" fill="#fff" fill-rule="evenodd"/>
<path d="M1254.4 2530L1254.4 2650A16.5 9.5 0 0 0 1287.4 2650L1287.4 2530A16.5 9.5 0 0 0 1254.4 2530Z" fill="#fff"/>
<path d="M1245.4 2480L1245.4 2524A25.5 14.7 0 0 0 1296.4 2524L1296.4 2480A25.5 14.7 0 0 0 1245.4 2480Z" fill="#fff"/>
<path d="M1245.4 2480A25.5 14.7 0 1 1 1296.4 2480A25.5 14.7 0 1 1 1245.4 2480Z" fill="#fff" fill-rule="evenodd"/>
<path d="M1248.9 2527A6 9 0 0 1 1248.9 2509" stroke-width="2.1"/>
<path d="M1254.4 2448L1254.4 2482A16.5 9.5 0 0 0 1287.4 2482L1287.4 2448A16.5 9.5 0 0 0 1254.4 2448Z" fill="#fff"/>
<path d="M1254.4 2448A16.5 9.5 0 1 1 1287.4 2448A16.5 9.5 0 1 1 1254.4 2448Z" fill="#fff" fill-rule="evenodd"/>
<path d="M1259.9 2452l0 8M1281.9 2452l0 8" stroke-width="2"/>
<path d="M1239 2808.5L1239 2842A33 19 0 0 0 1305 2842L1305 2808.5A33 19 0 0 0 1239 2808.5Z" fill="#fff"/>
<path d="M1239 2808.5A33 19 0 1 1 1305 2808.5A33 19 0 1 1 1239 2808.5ZM1249 2808.5A23 13.3 0 1 1 1295 2808.5A23 13.3 0 1 1 1249 2808.5Z" fill="#fff" fill-rule="evenodd"/>
<path d="M1252 2801L1252 2818M1255.7 2801L1255.7 2818M1259.4 2801L1259.4 2818M1263.1 2801L1263.1 2818M1266.8 2801L1266.8 2818M1270.5 2801L1270.5 2818M1274.2 2801L1274.2 2818M1277.9 2801L1277.9 2818M1281.6 2801L1281.6 2818M1285.3 2801L1285.3 2818M1289 2801L1289 2818M1292.7 2801L1292.7 2818" stroke-width="1.7"/>
<path d="M1235.7 2889.2L1235.7 2904A36 20.8 0 0 0 1307.7 2904L1307.7 2889.2A36 20.8 0 0 0 1235.7 2889.2Z" fill="#fff"/>
<path d="M1235.7 2889.2A36 20.8 0 1 1 1307.7 2889.2A36 20.8 0 1 1 1235.7 2889.2ZM1249.7 2889.2A22 12.7 0 1 1 1293.7 2889.2A22 12.7 0 1 1 1249.7 2889.2Z" fill="#fff" fill-rule="evenodd"/>
<path d="M1257.7 2891A14 8.1 0 1 1 1285.7 2891A14 8.1 0 1 1 1257.7 2891ZM1242.7 2889.2A29 16.7 0 1 1 1300.7 2889.2A29 16.7 0 1 1 1242.7 2889.2Z" stroke-width="2"/>
<path d="M1108 2660L965 2700L932 2720L917 2736L919 2752L948 2772L972 2772L982 2766L1118 2777L1128 2700Z" fill="#fff"/>
<path d="M985.5 2734.5L1128.9 2700M985.5 2734.5Q975 2745 982 2766"/>
<path d="M953.2 2760.6A13 14 0 1 1 979.2 2760.6A13 14 0 1 1 953.2 2760.6Z" fill="#fff"/>
<path d="M964.9 2755.8A7 4 -60 0 0 962.4 2766.5A7 4 -60 0 0 970.7 2760.4" stroke-width="2"/>
<path d="M1003.6 2746.8A15 13 0 1 1 1033.6 2746.8A15 13 0 1 1 1003.6 2746.8Z" fill="#fff"/>
<path d="M1021 2737q8 4 6 12 M1016 2752l10 -3" stroke-width="2"/>
<path d="M1081 2733q10 10 28 1" stroke-width="2.1"/>
<path d="M1176 2660q22 2 20 14q-4 14 -20 18" fill="#fff"/>
<path d="M1180 2674A6 8 0 1 1 1192 2674A6 8 0 1 1 1180 2674Z" stroke-width="2"/>
<path d="M1104 2618q-12 -22 6 -46l36 -46q14 -10 28 2q10 14 -2 26q12 26 10 54" fill="#fff"/>
<path d="M1112 2612q-8 -18 6 -34M1130 2576l28 -40M1176 2566q8 24 6 44"/>
<path d="M1148 2551A14 15 0 1 1 1176 2551A14 15 0 1 1 1148 2551Z" fill="#fff"/>
<path d="M1160.7 2546.2A7 4 -60 0 0 1158.2 2556.9A7 4 -60 0 0 1166.5 2550.8" stroke-width="2"/>
<path d="M1118 2762L1118 2800A32 18.5 0 0 0 1182 2800L1182 2762A32 18.5 0 0 0 1118 2762Z" fill="#fff"/>
<path d="M1108 2612L1108 2750A34 19.6 0 0 0 1176 2750L1176 2612A34 19.6 0 0 0 1108 2612Z" fill="#fff"/>
<path d="M1182 2762A32 18.5 0 0 1 1118 2762M1175.5 2643.4A34 19.6 0 0 1 1108.5 2643.4"/>
<path d="M1112 2594L1112 2612A30 17.3 0 0 0 1172 2612L1172 2594A30 17.3 0 0 0 1112 2594Z" fill="#fff"/>
<path d="M1112 2594A30 17.3 0 1 1 1172 2594A30 17.3 0 1 1 1112 2594Z" fill="#fff" fill-rule="evenodd"/>
<path d="M1120 2590A22 12.7 0 0 1 1164 2590M1164 2596A22 12.7 0 0 1 1120 2596"/>
<path d="M1099 2780l0 30l5 6l6 -4l0 -32" fill="#fff"/>
<path d="M1134 2810L1134 2842A10 5.8 0 0 0 1154 2842L1154 2810A10 5.8 0 0 0 1134 2810Z" fill="#fff"/>
<path d="M1130 2838L1130 2852A14 8.1 0 0 0 1158 2852L1158 2838A14 8.1 0 0 0 1130 2838Z" fill="#fff"/>
<path d="M1158 2838A14 8.1 0 0 1 1130 2838"/>
<path d="M78.9 1958.7L76.2 1971.7L66.3 1980.5L59.1 1976.3L61.8 1963.3L71.7 1954.5Z" fill="#fff"/>
<path d="M76.2 1971.7L66.3 1980.5L74.1 1985L84 1976.2Z" fill="#fff"/>
<path d="M78.9 1958.7L76.2 1971.7L84 1976.2L86.7 1963.2Z" fill="#fff"/>
<path d="M66.3 1980.5L59.1 1976.3L66.9 1980.8L74.1 1985Z" fill="#fff"/>
<path d="M71.7 1954.5L78.9 1958.7L86.7 1963.2L79.4 1959Z" fill="#fff"/>
<path d="M59.1 1976.3L61.8 1963.3L69.5 1967.8L66.9 1980.8Z" fill="#fff"/>
<path d="M61.8 1963.3L71.7 1954.5L79.4 1959L69.5 1967.8Z" fill="#fff"/>
<path d="M86.7 1963.2L84 1976.2L74.1 1985L66.9 1980.8L69.5 1967.8L79.4 1959Z" fill="#fff" fill-rule="evenodd"/>
<path d="M82.9 1961.8A11.8 6.8 -60 0 0 71.1 1968.6A11.8 6.8 -60 0 0 71.1 1982.2L471.2 2213.2A11.8 6.8 -60 0 0 483 2206.4A11.8 6.8 -60 0 0 483 2192.8Z" fill="#fff"/>
<path d="M487.4 2190.7L484.7 2203.7L474.8 2212.5L467.6 2208.3L470.3 2195.3L480.2 2186.5Z" fill="#fff"/>
<path d="M484.7 2203.7L474.8 2212.5L482.6 2217L492.5 2208.2Z" fill="#fff"/>
<path d="M487.4 2190.7L484.7 2203.7L492.5 2208.2L495.2 2195.2Z" fill="#fff"/>
<path d="M474.8 2212.5L467.6 2208.3L475.4 2212.8L482.6 2217Z" fill="#fff"/>
<path d="M480.2 2186.5L487.4 2190.7L495.2 2195.2L487.9 2191Z" fill="#fff"/>
<path d="M467.6 2208.3L470.3 2195.3L478 2199.8L475.4 2212.8Z" fill="#fff"/>
<path d="M470.3 2195.3L480.2 2186.5L487.9 2191L478 2199.8Z" fill="#fff"/>
<path d="M495.2 2195.2L492.5 2208.2L482.6 2217L475.4 2212.8L478 2199.8L487.9 2191Z" fill="#fff" fill-rule="evenodd"/>
<path d="M574.2 2192.5A56 32.3 -60 0 0 518.2 2224.8A56 32.3 -60 0 0 518.2 2289.5L526 2294A56 32.3 -60 0 0 582 2261.7A56 32.3 -60 0 0 582 2197Z" fill="#fff"/>
<path d="M582 2197A56 32.3 -60 0 1 564.2 2283.7A56 32.3 -60 0 1 515.8 2255.7A56 32.3 -60 0 1 582 2197Z" fill="#fff"/>
<path d="M576 2207.4A44 25.4 -60 0 1 562.1 2275.6A44 25.4 -60 0 1 523.9 2253.6A44 25.4 -60 0 1 576 2207.4ZM556.3 2213.2A38 21.9 -60 0 1 580 2238.5A38 21.9 -60 0 1 542.6 2280.2M567 2223A26 15 -60 0 1 558.8 2263.3A26 15 -60 0 1 536.2 2250.3A26 15 -60 0 1 567 2223ZM562.5 2230.8A17 9.8 -60 0 1 557.1 2257.1A17 9.8 -60 0 1 542.4 2248.6A17 9.8 -60 0 1 562.5 2230.8ZM559.5 2236A11 6.4 -60 0 1 556 2253A11 6.4 -60 0 1 546.5 2247.5A11 6.4 -60 0 1 559.5 2236Z"/>
<path d="M586 2209.7A50 28.9 -60 0 1 544.8 2290.2" stroke-width="2"/>
<path d="M604.1 2264.4A8.2 4.7 -60 0 0 595.9 2269.1A8.2 4.7 -60 0 0 595.9 2278.6L880 2442.6A8.2 4.7 -60 0 0 888.2 2437.9A8.2 4.7 -60 0 0 888.2 2428.4Z" fill="#fff"/>
<path d="M888.2 2428.4A8.2 4.7 -60 0 1 885.6 2441.1A8.2 4.7 -60 0 1 878.5 2437A8.2 4.7 -60 0 1 888.2 2428.4Z" fill="#fff" fill-rule="evenodd"/>
<path d="M301.5 2258A16 20 0 1 1 333.5 2258A16 20 0 1 1 301.5 2258Z" fill="#fff"/>
<path d="M332.5 2243.5A19 11 -60 0 0 313.5 2254.5A19 11 -60 0 0 313.5 2276.5L327.4 2272.4A8.5 4.9 -60 0 0 335.9 2267.5A8.5 4.9 -60 0 0 335.9 2257.6Z" fill="#fff" stroke="none"/>
<path d="M334.2 2256.6A8.5 4.9 -60 0 0 325.8 2261.5A8.5 4.9 -60 0 0 325.8 2271.4L372.5 2298.4A8.5 4.9 -60 0 0 381 2293.5A8.5 4.9 -60 0 0 381 2283.6Z" fill="#fff"/>
<path d="M381 2283.6A8.5 4.9 -60 0 1 378.3 2296.8A8.5 4.9 -60 0 1 371 2292.6A8.5 4.9 -60 0 1 381 2283.6Z" fill="#fff" fill-rule="evenodd"/>
<path d="M330.8 2274.3A8.5 4.9 -60 0 1 330.5 2264.3A8.5 4.9 -60 0 1 339.3 2259.6M335.6 2277A8.5 4.9 -60 0 1 335.3 2267A8.5 4.9 -60 0 1 344.1 2262.3M340.3 2279.8A8.5 4.9 -60 0 1 340 2269.8A8.5 4.9 -60 0 1 348.8 2265.1M345.1 2282.5A8.5 4.9 -60 0 1 344.8 2272.5A8.5 4.9 -60 0 1 353.6 2267.8M349.9 2285.3A8.5 4.9 -60 0 1 349.6 2275.3A8.5 4.9 -60 0 1 358.4 2270.6M354.6 2288A8.5 4.9 -60 0 1 354.3 2278A8.5 4.9 -60 0 1 363.1 2273.3M359.4 2290.8A8.5 4.9 -60 0 1 359.1 2280.8A8.5 4.9 -60 0 1 367.9 2276.1M364.2 2293.5A8.5 4.9 -60 0 1 363.9 2283.5A8.5 4.9 -60 0 1 372.6 2278.8" stroke-width="2.1"/>
<path d="M409 2266l18 9q7 5 4 12l-16 34q-10 12 -24 6q-10 -8 -6 -20z" fill="#fff"/>
<path d="M402.4 2300.9A9 5.2 -60 0 0 399.1 2314.5A9 5.2 -60 0 0 409.8 2306.8M392 2322q6 6 16 4" stroke-width="2"/>
<path d="M539.9 2711.7A39.5 25 0 1 1 618.9 2711.7A39.5 25 0 1 1 539.9 2711.7Z" fill="#fff"/>
<path d="M539.9 2708.7A39.5 25 0 1 1 618.9 2708.7A39.5 25 0 1 1 539.9 2708.7ZM559.4 2706.7A20 9.5 0 1 1 599.4 2706.7A20 9.5 0 1 1 559.4 2706.7Z" fill="#fff" fill-rule="evenodd"/>
<path d="M568 2770.6L554.5 2799.6M568 2770.6L586 2756q2 -10 -4 -14l-14 -2q-8 2 -8 6"/>
<path d="M552.4 2833A27 13 0 1 1 606.4 2833A27 13 0 1 1 552.4 2833Z" fill="#fff"/>
<path d="M552.4 2826A27 13 0 1 1 606.4 2826A27 13 0 1 1 552.4 2826Z" fill="#fff"/>
<path d="M552.4 2819A27 13 0 1 1 606.4 2819A27 13 0 1 1 552.4 2819Z" fill="#fff"/>
<path d="M552.4 2812A27 13 0 1 1 606.4 2812A27 13 0 1 1 552.4 2812Z" fill="#fff"/>
<path d="M552.4 2805A27 13 0 1 1 606.4 2805A27 13 0 1 1 552.4 2805Z" fill="#fff"/>
<path d="M561.4 2805A18 7 0 1 1 597.4 2805A18 7 0 1 1 561.4 2805Z"/>
<path d="M556 2838l52 2q10 0 10 8l0 8"/>
<path d="M441 2884l110 28q18 -10 36 0q12 10 10 24q-8 16 -28 18q-18 0 -26 -12l-100 -28q-10 -4 -8 -16z" fill="#fff"/>
<path d="M436 2893A16 10 0 1 1 468 2893A16 10 0 1 1 436 2893Z" fill="#fff"/>
<path d="M442 2893A10 6 0 1 1 462 2893A10 6 0 1 1 442 2893Z"/>
<path d="M436 2896l0 10q8 10 26 6l0 -8" fill="#fff"/>
<path d="M561 2920A16 11 0 1 1 593 2920A16 11 0 1 1 561 2920Z" fill="#fff"/>
<path d="M568 2911l0 14M571 2911l0 14M574 2911l0 14M577 2911l0 14M580 2911l0 14M583 2911l0 14M586 2911l0 14" stroke-width="1.6"/>
<path d="M545 2936A6 5 0 1 1 557 2936A6 5 0 1 1 545 2936Z"/>
<path d="M545 2912q-8 14 -2 28M463 2902l84 22"/>
<path d="M677 2843A11 7 0 1 1 699 2843A11 7 0 1 1 677 2843Z" fill="#fff"/>
<path d="M678 2846l0 8q10 8 20 0l0 -8" fill="#fff"/>
<path d="M683 2858l-16 30q4 8 11 4l14 -32z" fill="#fff"/>
<path d="M680 2866l8 5M676 2873l8 5M672 2880l8 5" stroke-width="1.8"/>
</g>
<g fill="none" stroke="#2e2e2e" stroke-width="2.6" stroke-linecap="butt">
<path d="M539 169.7L539 229.5"/>
<path d="M667 264.5L667 319.4"/>
<path d="M124 449L124 509"/>
<path d="M197.6 486.5L197.6 546.4"/>
<path d="M267.5 521.5L267.5 581"/>
<path d="M435 494L435 554"/>
<path d="M581.3 544L581.3 600"/>
<path d="M654 578L654 635"/>
<path d="M865.6 234.5L865.6 309.4"/>
<path d="M763.3 324.4L763.3 376.7"/>
<path d="M1235.8 351.8L1235.8 421.7"/>
<path d="M1173.5 464L1173.5 536.4"/>
<path d="M1059.2 499L1059.2 563.9"/>
<path d="M1272.3 499L1272.3 569"/>
<path d="M1384.4 469L1384.4 541"/>
<path d="M1537.5 534L1537.5 596.3"/>
<path d="M1442.2 141.2L1442.2 194.6"/>
<path d="M1745.6 391.7L1745.6 449"/>
<path d="M749.3 632.2L749.3 692.1"/>
<path d="M825.7 667.2L825.7 724.6"/>
<path d="M915.5 727L915.5 788.4"/>
<path d="M990.3 759.5L990.3 821.9"/>
<path d="M1082.6 824.4L1082.6 881.7"/>
<path d="M1156.5 854.3L1156.5 914.2"/>
<path d="M1248.3 918L1248.3 976.5"/>
<path d="M1316.2 946.6L1316.2 1009"/>
<path d="M1407.8 1009L1407.8 1071.6"/>
<path d="M1482.6 1044L1482.6 1104"/>
<path d="M1866.7 839L1866.7 882"/>
<path d="M314.4 1159.8L314.4 1247.2"/>
<path d="M458 1207L458 1268.6"/>
<path d="M551.4 1272L551.4 1332"/>
<path d="M625.2 1304.5L625.2 1364.4"/>
<path d="M719.4 1384L719.4 1444"/>
<path d="M819.7 1448L819.7 1506.6"/>
<path d="M1004.8 1533L1004.8 1594"/>
<path d="M1170 1742L1170 1767L1137.5 1809.5"/>
<path d="M1502.6 1719.7L1502.6 1759.6"/>
<path d="M1726 2106L1726 2170"/>
<path d="M1882.3 2179.8L1882.3 2249.7"/>
<path d="M284.4 1988L284.4 2075.5"/>
<path d="M724.6 2269.6L724.6 2329.5"/>
<path d="M550 2294.6L550 2344.5"/>
<path d="M317.9 2274.6L317.9 2352"/>
<path d="M410.2 2322L410.2 2377"/>
<path d="M949.4 2389.4L949.4 2436.8"/>
<path d="M1010.3 2419.3L1010.3 2469.2"/>
<path d="M1360 2853.3L1334 2853.3L1306 2879"/>
<path d="M493.6 2690.8L552 2690.8"/>
<path d="M479.6 2770.6L568 2770.6"/>
<path d="M383.8 2895.4L437.2 2895.4"/>
<path d="M699.2 2860.4L751.6 2860.4"/>
<g font-family="Liberation Mono,monospace" fill="#333">
<g stroke="#fff" stroke-width="0.9" fill="#333">
<text transform="translate(515 274) scale(0.959 1)" font-size="47.8">22</text>
<text transform="translate(644.1 367) scale(0.939 1)" font-size="47.8">16</text>
<text transform="translate(100 442) scale(0.959 1)" font-size="47.8">18</text>
<text transform="translate(170 477) scale(0.959 1)" font-size="47.8">19</text>
<text transform="translate(238 512) scale(0.978 1)" font-size="47.8">21</text>
<text transform="translate(412 485) scale(0.978 1)" font-size="47.8">10</text>
<text transform="translate(558 537) scale(0.959 1)" font-size="47.8">12</text>
<text transform="translate(632.1 570) scale(0.939 1)" font-size="47.8">10</text>
<text transform="translate(835.1 227) scale(0.929 1)" font-size="47.8">41</text>
<text transform="translate(738.8 418) scale(0.976 1)" font-size="47.8">20</text>
<text transform="translate(1207.9 344.3) scale(0.957 1)" font-size="47.8">37</text>
<text transform="translate(1148.6 579) scale(0.947 1)" font-size="47.8">36</text>
<text transform="translate(1036 604) scale(0.951 1)" font-size="47.8">15</text>
<text transform="translate(1246.8 611) scale(0.976 1)" font-size="47.8">40</text>
<text transform="translate(1353.1 463.5) scale(0.939 1)" font-size="47.8">34</text>
<text transform="translate(1508.6 525.4) scale(0.976 1)" font-size="47.8">25</text>
<text transform="translate(1431.6 241) scale(0.846 1)" font-size="47.8">2</text>
<text transform="translate(1732 486.5) scale(0.980 1)" font-size="47.8">1</text>
<text transform="translate(726.3 624.8) scale(0.957 1)" font-size="47.8">13</text>
<text transform="translate(815.4 658.7) scale(0.887 1)" font-size="47.8">9</text>
<text transform="translate(894.2 719.6) scale(0.900 1)" font-size="47.8">13</text>
<text transform="translate(977.5 751) scale(0.891 1)" font-size="47.8">9</text>
<text transform="translate(1057.3 816.9) scale(0.928 1)" font-size="47.8">13</text>
<text transform="translate(1145.7 845.3) scale(0.891 1)" font-size="47.8">9</text>
<text transform="translate(1223.4 909) scale(0.929 1)" font-size="47.8">13</text>
<text transform="translate(1305.9 939) scale(0.887 1)" font-size="47.8">9</text>
<text transform="translate(1383.9 1001.7) scale(0.928 1)" font-size="47.8">13</text>
<text transform="translate(1471.2 1034) scale(0.891 1)" font-size="47.8">9</text>
<text transform="translate(1805.8 833.5) scale(0.854 1)" font-size="47.8">11·14</text>
<text transform="translate(289.1 1152) scale(0.920 1)" font-size="47.8">13</text>
<text transform="translate(446.1 1202) scale(0.936 1)" font-size="47.8">9</text>
<text transform="translate(531.1 1267) scale(0.920 1)" font-size="47.8">13</text>
<text transform="translate(602.1 1300) scale(0.939 1)" font-size="47.8">10</text>
<text transform="translate(704.1 1376) scale(0.936 1)" font-size="47.8">8</text>
<text transform="translate(806.9 1440) scale(0.887 1)" font-size="47.8">7</text>
<text transform="translate(992.4 1525.6) scale(0.846 1)" font-size="47.8">6</text>
<text transform="translate(1147.1 1732) scale(0.928 1)" font-size="47.8">17</text>
<text transform="translate(1491.2 1712) scale(0.891 1)" font-size="47.8">3</text>
<text transform="translate(1715.9 2099) scale(0.887 1)" font-size="47.8">5</text>
<text transform="translate(1870.2 2174) scale(0.891 1)" font-size="47.8">4</text>
<text transform="translate(260 1980) scale(0.959 1)" font-size="47.8">23</text>
<text transform="translate(700.7 2263.6) scale(0.928 1)" font-size="47.8">24</text>
<text transform="translate(526.1 2385.4) scale(0.926 1)" font-size="47.8">38</text>
<text transform="translate(295.1 2393.4) scale(0.926 1)" font-size="47.8">33</text>
<text transform="translate(383.8 2418.3) scale(0.945 1)" font-size="47.8">32</text>
<text transform="translate(925 2379.4) scale(0.978 1)" font-size="47.8">27</text>
<text transform="translate(985.8 2410.8) scale(0.976 1)" font-size="47.8">29</text>
<text transform="translate(1488.6 2661) scale(0.957 1)" font-size="47.8">26</text>
<text transform="translate(1369.5 2869.2) scale(0.957 1)" font-size="47.8">28</text>
<text transform="translate(430.8 2708.7) scale(0.945 1)" font-size="47.8">35</text>
<text transform="translate(415.9 2787) scale(0.947 1)" font-size="47.8">30</text>
<text transform="translate(323.5 2912) scale(0.949 1)" font-size="47.8">31</text>
<text transform="translate(761 2878.4) scale(0.959 1)" font-size="47.8">39</text>
</g></g>
</g>
<g font-family="Liberation Mono,monospace" fill="#300000" stroke="#fff">
<text transform="translate(-8 70.3) scale(1.176 1)" font-size="77.5" stroke-width="2">FIG.201A</text>
<text transform="translate(0 3185) scale(1.165 1)" font-size="39.4" stroke-width="1">VL1500TL5_E28_E33_201A</text>
<text transform="translate(0 3249) scale(1.165 1)" font-size="39.4" stroke-width="1">CLUTCH</text>
</g>
</svg>
</body></html>
